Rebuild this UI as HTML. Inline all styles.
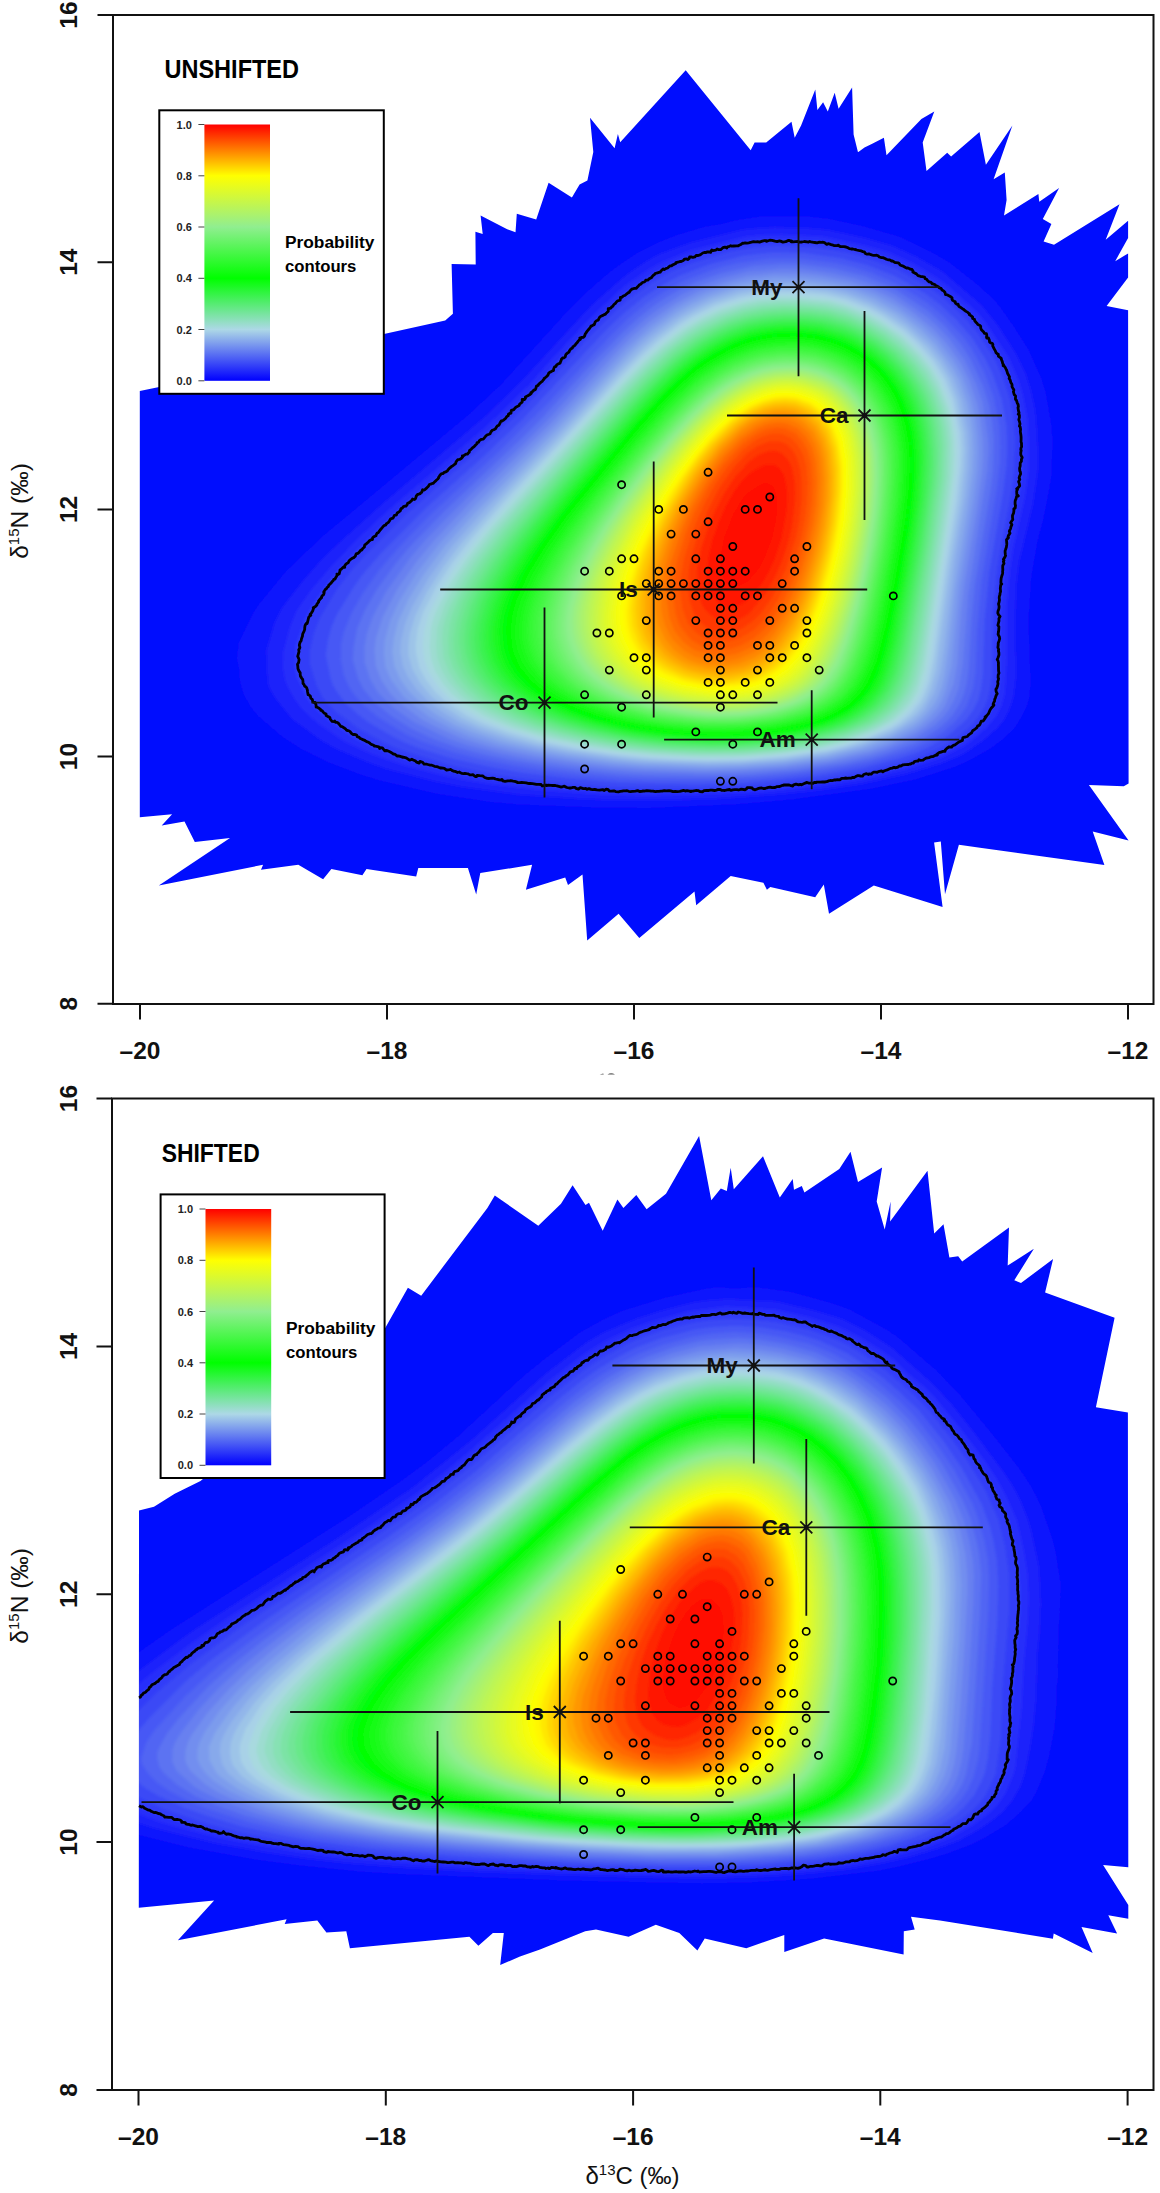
<!DOCTYPE html><html><head><meta charset="utf-8"><style>html,body{margin:0;padding:0;background:#fff;overflow:hidden}svg{display:block;font-family:"Liberation Sans",sans-serif}</style></head><body>
<svg width="1160" height="2193" viewBox="0 0 1160 2193">
<defs><clipPath id="ct"><path d="M139.8 391 L158 387.2 384 334 445.2 320.6 452.9 313.8 451.6 264.1 475.7 264.6 475.4 231.8 482.7 234.1 480.6 215.5 507.2 229.2 515.5 232.3 516.8 213.7 536.2 219.6 548.6 182.7 571.9 197.4 579.6 184.5 587.4 180.6 593.3 152.1 590 117.8 614.6 148.3 617.9 134 620.2 142.3 685.7 70.2 750.7 150.2 754.6 142.4 766.2 142.4 791.5 121.7 794.7 137.8 801.1 125.6 815.3 89.4 817.4 110.1 823.1 102.3 827.8 111.4 834.7 92.8 838.6 108.8 852.1 87.6 853.6 134.6 858 152.2 864.5 147.6 872.2 143.7 883.9 137.8 886.5 155.3 921.4 119.1 934.3 111.4 922.7 142.4 926.5 170.9 947.2 152.8 951.1 156.6 979.5 132.1 985.9 164.7 1012.4 125.6 993.6 179.3 1004.8 172.4 1006.6 200 1004 215.5 1038.4 194 1039.3 201.7 1059.1 187.9 1042.8 219 1051.4 224.1 1043.6 241.4 1054 244.8 1119.5 204.3 1105.7 239.7 1128.1 220.7 1128.1 237.9 1115.2 261.2 1128.1 253.4 1128.1 277.6 1106.6 306 1128.1 310.3 1128.6 783.6 1123.8 786.2 1088.9 784.9 1128.6 840.5 1092.7 831.4 1104.4 865 980 847.8 958.9 844.7 945 894.2 940.8 841.5 934.1 842.5 942.6 906.9 873.8 885.5 829 913.8 823.8 884.5 815.2 897.2 770.3 886.9 766.9 889.7 763.4 882.8 730.7 875.9 696.2 905.2 694.5 891.4 639.3 937.9 618.6 913.8 587.2 940.5 582.5 874.5 568 885 565.2 877.4 525.9 889.7 532.1 864.8 480.3 873.1 476.2 894.6 467.9 868.1 418.3 868.1 416.2 876.4 366.5 869 362.4 875.2 331.4 869 323.1 879.3 298.3 864.8 261 869.8 263.1 864.8 158.8 885.5 230 837.9 194.8 842.1 184.5 821.4 161.7 825.5 172.1 814.3 139.8 817.2Z"/></clipPath><clipPath id="cb"><path d="M139 427.6 L154 423.7 174.7 410.8 200.5 397.9 385.2 244.9 407.9 204.8 421.2 212.7 487.4 124.9 494.8 112.5 538.3 142.7 561 120.8 572.6 102.2 585.5 122 589 119.8 602.7 147.7 617.4 116.6 623.4 124.9 636.3 112 646.6 126.2 666 110.7 699.1 53 711.3 117.2 720.8 105.5 726.8 108.1 730.7 84.8 733.8 106.3 763 73.2 779.8 114.6 792.7 96 794 106.8 801.8 102.9 804.4 109.4 839.3 86.1 850.5 68.8 858 99 882.1 84.6 876.7 118.5 884.7 146.6 890.6 118.5 890.1 138.5 927.5 87.8 934.2 150.6 943.5 141.2 949.4 174.6 958.2 173.3 962.2 178.6 1009 144.4 1007.7 182.6 1033.9 165.8 1014.3 197.3 1021 200 1053.1 176 1045.1 209.4 1114.6 234.8 1095.9 324.3 1127.9 329.6 1128.3 784.2 1103.1 782.1 1128.3 821.9 1128.3 835.7 1108.3 832.3 1117.1 850.5 1081.5 844 1092.7 870 1053.7 850.5 1052.9 855.7 940 837.4 911 833.8 914.7 846.5 903.8 848.3 903.6 871.5 824.1 855.5 784.3 868.9 784.3 851.9 746.3 865.3 704.7 855.5 697.4 867.5 679.3 850.1 655.8 841.8 628.6 853.7 596 846.5 585.2 848.3 540 866.4 520 873.6 500.2 882 503.8 850.1 492.9 850.1 478.4 862.8 469.4 853.7 349.9 865.3 346.3 848.3 326.4 849.4 317.3 837.4 284.7 841 286.6 836.3 177.9 857.3 214.1 817.5 138.8 824.8Z"/></clipPath><linearGradient id="lg" x1="0" y1="1" x2="0" y2="0"><stop offset="0" stop-color="#0000ff"/><stop offset="0.2" stop-color="#add8e6"/><stop offset="0.4" stop-color="#00ff00"/><stop offset="0.6" stop-color="#90ee90"/><stop offset="0.8" stop-color="#ffff00"/><stop offset="1" stop-color="#ff0000"/></linearGradient><filter id="bl" x="0" y="0" width="1" height="1"><feGaussianBlur stdDeviation="1.5"/></filter></defs>
<rect width="1160" height="2193" fill="#fff"/>
<g clip-path="url(#ct)"><g filter="url(#bl)">
<rect x="100" y="-50" width="1100" height="1080" fill="#0507fe"/>
<path fill="#1014fd" d="M647 808 L598 807.6 520 804.5 491 802.1 437 793.8 378 780.1 358 773.5 329 762.5 301.6 749 282.8 737 258 715.7 250.9 707 244 695 240 682 239.2 669 237 658 238.7 643 252.8 614 258.5 605 286.3 571 322 537 467 416.3 501 384.8 563 316.2 584.8 294 609 272.8 623 262.4 639 252.1 657 243 676 235.5 706 226.6 720 224.5 735 220.5 761 216.5 808 216.4 828 218.8 863 226.3 900.1 237 934 253.5 950 263.1 980 286.7 993 299 999.3 306 1013.4 326 1028.6 350 1040.7 377 1045.3 391 1050.8 421 1052.6 441 1051.1 479 1043.5 518 1037.3 542 1031.3 576 1028.4 621 1030.6 683 1029.5 696 1027.2 705 1021.4 717 1014.6 728 1005 737.5 991.1 748 970 760.1 955 766.8 916 779.3 871 788.7 793 799.3 736 804.3Z"/>
<path fill="#1b22fb" d="M663 800 L617 800 582 798.8 517 794.3 461 786.6 436 781.6 386 768.5 367 761.4 335 747.7 321 739.7 292 718.4 275.4 698 270 688.5 268.5 684 267 668 266.7 650 275.1 622 282.2 608 303.1 581 319.8 562 337.1 545 381.6 505 485 417 521 381.9 591.2 306 621 279.7 631 271.9 646 262.1 660 254.3 692 242.5 742 230 760 228.2 775 227.5 809 228.4 827 230.1 863 237.8 891 245.8 916 257 943 272.6 981 305 997.4 325 1015.3 353 1025.1 373 1030.3 389 1034.5 408 1035.9 419 1038.1 457 1037.4 471 1032.7 504 1019 560.9 1015.8 586 1014.5 636 1015.9 666 1015.6 678 1013.3 697 1008.6 711 1003.1 721 997.1 728 984 739.5 967 751.2 954 757.8 940 763.4 904 774.5 860 783.9 820 789.7 781 794 717 798.4Z"/>
<path fill="#262ffa" d="M686 795 L648 795.7 602 794.7 538 789.9 491 784.5 463 780.1 446 776.3 406 765.9 374 754.9 345 741.8 319 724 307 714 300 706.4 294.7 699 288.3 688 285.1 680 283 668 283.3 652 289.7 628 296.5 611 310.3 591 330.8 567 356.5 540 386.4 512 485.7 427 529.1 385 550 361 590 318 623 287.3 646 271.3 661 262.7 692 250 746 236.4 763 234.7 782 234.4 822 236.3 863 244.9 888 252.1 914 264 937.1 278 948 285.9 978.1 313 986.2 323 1008.7 357 1018.5 380 1023 395 1027.5 418 1028.8 441 1028.7 470 1025.3 496 1013.2 549 1010.1 570 1006.6 608 1006.9 660 1005 693 1001.5 706 996.3 716 987 727.3 974 738.8 965 745.3 941 757.5 904 769.8 861 779.7 821 785.6 763 791.7Z"/>
<path fill="#313df8" d="M685 792 L627 792.1 601 791.1 540 785.8 498 780.8 472 776.5 443 770.1 408 760.4 377 748.8 356 738.9 330 721.3 316.9 710 306.9 698 297.5 678 295.1 668 296.2 645 304.6 620 312 606 328.5 582 340.9 567 372.2 535 399.5 509 471.4 447 500.2 421 533 388.5 585 331 598 317.8 624 293.9 646 278.2 665 267 681 259.6 716 248.3 732 244.4 750 241 764 239.6 789 239.5 820 241.2 859 249.1 888 258 911 268.7 936 283.6 945 290.4 967 310.2 976.6 320 983.7 329 996 347.3 1004.5 362 1013.3 384 1019.5 406 1022.5 437 1022.2 469 1020 489 1007 551.7 1003.9 573 1000.5 612 999.7 682 998.4 692 994.7 705 988.4 716 979.6 727 963.1 741 951 748.3 936 755.5 903 766.6 860 776.8 807 784.4 748 789.8Z"/>
<path fill="#3b4af6" d="M701 788 L618 787.4 570 783.7 517 777.8 491 773.8 449 764.8 401 750.1 385 743.1 359 728.8 335 711 323.1 698 316.5 685 310.1 664 309.9 651 314 633 319.9 618 337.2 589 352.8 569 369.2 551 404 516.3 492.1 438 520 411.4 552.6 378 591 335.1 610 315.9 627 300.6 650 283.8 672 271 689 264 730 251.4 752 247.4 776 245.4 815 247.1 846 252.4 859 255.6 897 269 931 288.6 943 297.6 962.9 316 977.8 333 994.6 359 1002.7 377 1010.2 400 1013.6 419 1015 441 1013.7 473 1011.8 490 997.3 567 993 612 992 675 990.3 688 987.7 699 984.5 707 977.5 718 971.6 725 960 735.5 948 743.5 934 750.9 922 755.9 902 762.4 871 770.6 825 778.6 768 784.7Z"/>
<path fill="#4658f5" d="M693 784 L619 782.6 569 778.3 521 772.4 493 767.5 452 758.5 418 747.7 405 742.6 391 735.6 368 722 356 712.7 345 702.6 336.4 691 332.9 685 330.5 678 325.8 655 327.9 640 331.5 627 336.6 615 353.2 588 362.3 575 382.3 552 426 508.1 480 459.7 524 418 604.4 332 623 313.9 643 297.7 658 287.7 679 275.9 710 264.2 743 255.7 773 252.4 804 253 842 258.4 866 264.7 896 276.4 925 293.5 941.7 306 956.4 320 972.1 338 984.7 358 992.5 374 1001.8 400 1006.5 427 1007.1 449 1006.5 465 1002.8 494 989.2 572 984.6 620 982.7 676 980.8 690 978.1 700 972.5 711 965.8 720 948 735.7 927 748 915.7 753 899 758.5 865 767.6 815 775.9 744 782.7Z"/>
<path fill="#5165f3" d="M720 780 L650 779.8 622 778.5 581 774.9 542 770.2 511 765.3 478 758.6 454 752.6 422 741.4 405.5 734 377.9 717 362.4 704 352.9 693 348 685 343.8 675 340.7 660 341.1 644 343.8 632 351.5 613 362.9 593 379.3 570 400.9 545 430.9 514 498.3 452 549 401.9 613 333.2 629 317.7 646 303.7 663.6 292 683 281.3 710 270.7 724 266.3 740 262.7 769 258.7 799 258.5 835 263.1 853 267.1 871 272.6 895 282.9 927 302.7 943 315.7 963.2 337 971.8 349 983.6 371 993.3 396 999.3 425 1000.3 446 1000 462 997.4 485 981.5 581 977 631 975.5 672 973.1 688 966.7 706 959.9 716 953.6 723 943 732.2 929.3 741 915 748.3 902.5 753 867 763.2 823 771.2 778 776.6Z"/>
<path fill="#5c73f2" d="M704 777 L646 776.1 621 774.7 582 771 547 766.5 509 760.1 483 754.5 457 747.6 433.3 739 411 728.6 392 716.4 375.1 703 363.3 689 357.9 678 352.8 660 353.6 647 357.3 628 365 610 377.1 589 395.3 564 408.6 548 444.5 511 519.6 440 544.6 415 596.2 359 623 331.7 639 317.2 651.8 307 667 296.7 681 288.7 696 281.8 721 272.9 754 265.6 782 263.4 802 263.9 834 268.3 864 275.5 890 286.5 897 290.3 929 311.5 945 325.9 961.6 345 970.5 359 982.7 385 989.3 405 992.3 423 993.9 440 993 471 990.8 489 975 584.4 971.5 621 968.8 668 966.8 683 963.9 694 960.2 703 953.4 714 948.3 720 939.5 728 925 737.9 915 743.4 887 754.1 871 758.7 845 764.5 798 771.6 748 775.8Z"/>
<path fill="#6780f0" d="M714 774 L636 772.3 608 770.1 568 765.5 528 759.4 499 753.5 468 745.6 449 739.1 413.7 722 392.6 707 378 692.8 370 679 364.8 663 364.4 647 366.8 634 373 616 385.9 592 410.8 557 427.2 538 468.5 496 519 447.9 553 414 601.4 361 625.9 336 644.9 319 656.9 310 681 294.7 701 285.2 723 277.6 749 271.1 782 268.3 803 268.8 833 273 856 278.2 875 285.2 895 294.6 927 316.7 937 325.5 949.6 339 964.7 360 975.9 383 982.8 403 988 438 988.5 450 987.5 470 968.2 595 962.9 664 959 687.5 954.2 700 949 709.7 943 717.6 935.2 725 914 739.2 885 751.1 871 755.5 843 761.9 797 768.9 750 772.8Z"/>
<path fill="#728eef" d="M730 771 L702 771.4 643 769.7 611 767.3 581 763.7 536 756.9 510 751.8 488 746.4 462 738.5 435 726.5 421.1 719 399 702.4 389.8 693 381.3 680 375.7 666 374.4 650 375.9 638 382.6 617 397.4 589 417 561 434.5 540 474.5 498 551 422.9 617 351.4 632 336.5 650.1 321 675 303.7 698 291.6 726 281.4 747 276.1 774 273.1 804 273.3 818 274.7 849 280.8 873 289.2 893 298.7 913 312.2 933 328.6 947 343.8 961.4 364 969.6 381 977.3 404 980 417 982.7 439 983.2 455 982.1 472 977 509.5 964.5 584 961.4 610 957.4 663 953.6 684 945.4 705 940 713 934.4 719 925.4 727 915 734 889.2 746 869 753 828 761.9 783 767.8Z"/>
<path fill="#7c9bed" d="M746 768 L707 768.9 644 767.1 612 764.5 566 758.5 535 753.1 499 745.3 470 736.4 451 728.4 429.4 717 410 702.3 403 696 391.2 680 385.3 667 383.9 653 384.6 641 390.1 621 398.7 602 417.3 572 440 543.1 475.4 505 554 426.2 626 348.6 651 326 675 308.8 688 301.3 705 293.3 733 283.6 750 279.9 774 277.1 804 277.5 823 279.7 848 284.7 875 294.5 897 306.3 921.1 324 937.9 340 953.1 360 962.4 376 970.4 398 974.8 416 977.3 436 978.1 452 977.3 470 973.7 500 959.6 586 951.5 666 945.6 691 941.6 701 937.5 708 929.8 717 921 725.3 913 730.8 901 737.1 887 743.5 869 749.9 831 758.9 784 765.3Z"/>
<path fill="#87a9eb" d="M741 766 L707 766.7 638 764.2 612 761.7 566 755.5 535 749.8 501.3 742 472 732.2 455 725.2 435.4 714 423.3 705 409.3 692 400.7 680 394.3 666 392.3 652 393.9 638 398.3 621 408.6 599 423.3 575 445 546 473 514.9 560 426 628 352.5 642 339.1 655.2 328 677 312.2 691.7 304 709 295.9 737 286.5 756 283 784 280.7 807 281.5 835 285.7 855 291 875 299 902 314.5 921 329.7 935.5 344 952 366.4 959.7 381 967.1 403 970.8 420 972.7 435 973.4 453 972.6 472 968 508 954.7 591 949.1 644 944.7 675 941.8 687 938.5 696 934 704.4 927.6 713 920 720.9 913.6 726 891 738.3 863 748.8 827 757.3 784 763Z"/>
<path fill="#92b6ea" d="M740 764 L707 764.6 643 762.2 613 759.3 570 753.3 537 747.1 509 740.3 482 731.4 459 722 443 712.2 428.9 702 416.2 689 407.4 676 402.9 666 400.2 652 401 641 404.9 624 412.4 606 428.7 578 451.3 547 486.2 508 565 426.4 616.7 370 636 350.1 650 337.3 672 320.3 687 310.9 711 299.1 737 290.3 756 286.8 778 284.6 804 284.8 828 287.9 846 291.9 871 301.4 894 314 908 323.9 930 344 942.1 359 953.6 378 961.5 399 968.2 432 969.1 448 968.5 468 965.6 496 955 560 943.9 650 940.2 673 934.4 693 925 709.7 919.6 716 912.7 722 891 735.1 861 746.6 827 755 784 760.9Z"/>
<path fill="#9dc4e8" d="M742 762 L706 762.6 651 760.5 623 758.2 568 750.3 534 743.4 506 735.7 479 726.2 461.3 718 441.5 705 431 695.9 420.1 683 412.3 669 408.4 655 408.3 646 409.7 634 415.1 616 426.3 593 443.1 567 460.6 544 505.3 494 561 436 620.8 371 644 347.8 657 336.5 680 319.3 697 309.7 714 301.7 739 293.6 761 289.6 778 288 803 288.3 827 291.1 847 295.8 870 304.8 886 313.4 906 326.9 928 347.6 940.1 363 949.1 378 957.5 400 964.3 433 965.2 450 964.5 468 961 501 951 561.1 936.1 670 930.6 690 926 700.5 922 707 917 713.2 911 718.6 901 726 890.7 732 864 743 847 748.1 827 752.8 784 758.9Z"/>
<path fill="#a8d1e7" d="M746 760 L709 760.7 674 759.7 643 757.9 613 754.7 578 749.5 543 742.6 508 732.8 482 723.3 466 715.3 445 701.1 435.3 692 426 680.1 419.5 668 416.1 654 415.5 645 417.6 629 423.2 612 436.2 587 452.1 563 471.8 538 510 495 558.6 444 623 373.7 641 355.5 659 339.5 679 324.2 692 316.2 715 305 740 296.9 763 292.6 780 291.3 800 291.5 825 294.1 846 298.9 869 307.9 882.2 315 904 329.7 919 343.6 933.4 360 944.8 378 953.3 399 960.4 433 961.4 449 960.9 466 957.1 501 946 570 934.1 658 929.1 682 924.2 695 920.6 702 910.8 714 898.6 724 891 728.6 863 740.7 846 746.1 827 750.7 786 756.8Z"/>
<path fill="#a8d9df" d="M750 758 L712 759 690 758.5 650 756.4 619 753.3 580 747.4 545 740.2 510 730 495 724.5 480 718 463 708 448 697 438.6 687 428.6 672 424.2 659 422.8 645 424.1 631 428.7 614 443 585.7 456.6 565 481 533.7 516.2 494 622.4 379 642 359 660 343 679 328.3 691 320.6 715 308.6 730 303.2 750 297.9 768 295.2 794 294.4 822 296.7 843 301.2 868 310.9 880 317.3 902.9 333 919.5 349 931 362.5 941.7 380 950.3 402 954.5 419 956.9 434 957.8 451 957.2 469 954 497 942.5 570 930.2 658 925.6 680 920.9 693 916.8 701 907.8 712 896.2 722 890 726 877 732.6 864 737.9 845 744.2 828 748.4 794 754Z"/>
<path fill="#9ddcd0" d="M730 757 L700 757.1 655 754.8 622 751.6 596 747.8 545 737.4 512 727.4 497 721.5 482.8 715 462.2 702 452 693.7 443 683.4 435.2 671 431.2 659 429.7 647 431 628 434 617 437.7 608 450.5 583 466.6 559 491.9 527 620.2 386 643.6 362 663 344.7 682.3 330 702 318.3 721 309.6 743 302.7 759 299.3 781 297.5 798 297.7 830 301.1 847 305.7 868 314.3 880 320.9 902 336.3 919.8 354 931 368.6 939.1 383 948.4 408 951.6 422 953.7 438 954.2 455 953.3 474 948.5 511 924.3 669 917.7 691 910 704.2 901.8 713 892.5 721 874 731.3 844 742.3 817 748.6 770 754.8Z"/>
<path fill="#92dec2" d="M742 755 L692 755.1 653 752.8 619 749.1 588 744.3 561 738.6 535 731.7 509 723 488 713.3 472.4 704 461 695.3 448.2 681 442.2 671 437.6 659 436.2 647 437.1 628 444.7 605 460 576.3 470.4 561 495.3 529 624.4 386 647 363.1 664 347.8 686.4 331 702 321.7 721 312.9 742 306 759 302.3 781 300.4 800 300.8 828 303.6 845 308 868 317.6 886.9 329 901 339.6 918 356.8 928.7 371 938.1 389 944.9 408 948.8 426 950.6 443 949.6 477 945.5 509 922.2 661 916.5 684 909 699.4 901.2 709 894 715.9 887.4 721 876 727.7 846 739.4 823 745.6 786 751.5Z"/>
<path fill="#87e1b4" d="M749 753 L698 753.6 654 751.1 620 747.3 589 742.2 562 736.3 536 729.2 514.8 722 493 711.7 479 703.6 466 693.4 456.3 683 449 671.7 443.6 658 442.2 640 442.9 629 445.2 619 449.7 607 464.4 578 476.3 560 499.4 530 520 506 627.6 387 649 365.3 664.7 351 685 335.6 700 326.1 720 316.5 742 309 761 305 781 303.3 801 303.7 824 305.8 844 310.6 867 320.2 884.9 331 899.1 342 914.8 358 926 372.8 935.1 390 941.5 408 945.8 428 947.4 443 946.4 477 942.2 510 922 642 914.7 678 908.5 693 896.9 709 881 722 864 730.7 844 737.9 826 743 787 749.6Z"/>
<path fill="#7ce3a5" d="M734 752 L709 752.3 673 750.7 645 748.4 615 744.6 583 738.8 561 733.6 536 726.5 514 718.2 492 707.1 480 699.3 468.2 689 459.7 679 452.8 667 448.7 654 448.1 639 449.8 624 452.5 614 458.5 599 468.9 579 482.9 558 504 530 627 391.9 647 371.3 669 351.1 689 336.3 702 328.4 726.3 317 745 311.1 763 307.5 785 305.9 813 307.2 830 309.7 848 315 869 324.4 885 334.6 903 349.6 916.5 365 927.1 381 933.8 395 940.3 416 942.7 429 944.3 446 943 480 935.5 535 919.9 635 915.1 661 909.6 682 905 692 900 700 894.6 707 888.4 713 877.8 721 869 726.1 844 735.8 817 743.1 775 749.3Z"/>
<path fill="#72e597" d="M745 750 L711 750.7 675 749.2 647 746.9 618 743.2 584 736.8 562 731.4 536 723.7 517 716.1 495.6 705 483.7 697 471.8 686 463.1 675 456.8 662 454 650 453.5 638 455.7 623 462.2 602 473.9 579 486.4 560 507 532.2 545 487.9 628 395.1 646.4 376 670 353.9 682 344.6 702 331.7 727 319.7 745 313.9 761 310.5 784 308.6 812 309.7 828 312 850 318.6 868 327 883 336.6 899 349.8 912.7 365 923.5 381 930.5 395 936.4 413 939.1 426 941.1 445 940.2 477 932.2 538 913.8 651 907.7 677 899.6 695 888.6 709 871 722.4 846 733.1 818 741.1 778 747.4Z"/>
<path fill="#67e889" d="M724 749 L671 747.4 646 745.1 616 740.9 584 734.7 554.9 727 534 720.1 517 712.7 496 701 487.5 695 474.2 682 467.2 672 461.9 660 459 644 459.2 633 461.7 620 466.9 603 477.1 582 490.4 561 508.7 536 556.9 479 626 401.5 647.4 379 674 354.3 695.1 339 715 327.8 733 320.3 752 314.9 770 312 786 311.2 811 312.2 830 315.1 851 321.8 869 330.5 881.7 339 898.3 353 910.6 367 923 386.3 928.4 398 934 416 936.2 428 938.2 449 937.9 468 936.4 486 928.8 543 908.4 662 901.6 684 897.1 693 891.8 701 886.6 707 878.6 714 869 720.8 861 724.9 846.2 731 830 736.2 805 741.9 765 747.1Z"/>
<path fill="#5cea7a" d="M743 747 L712 747.6 687 746.7 659 744.7 627 740.9 588 733.4 566 727.8 543 720.6 529 715 513 707.1 496.4 697 484.6 687 476.1 677 469.8 666 465.6 653 464.1 639 465.9 624 470.8 606 480.1 585 493.6 563 512.4 537 566 473 623.9 408 647.2 383 674 357.8 696 341.6 712.7 332 729 324.6 746 319 768 314.9 785 313.8 809 314.5 827 317.1 846 322.7 861 329.2 878 339.4 894.4 353 907.8 368 918.4 384 924.9 397 930.7 415 933.3 429 935.1 449 935.2 465 933.9 483 925.8 545 908.1 649 901.6 675 893.5 693 888.1 701 882 707.6 866 719.7 846 729.1 818 737.6 777 744.4Z"/>
<path fill="#51ed6c" d="M725 746 L709 746.1 673 744.4 645 741.6 618 737.6 587 731.1 564 724.9 542 717.4 523.1 709 504.3 698 494 690.3 485.7 682 478.5 672 472.9 660 469.6 645 469.6 634 471.9 620 477.9 600 486.5 582 505 553 521.5 531 568.1 475 631 404.2 654.9 379 677 358.7 698.6 343 717 332.6 731 326.5 749 320.8 770 317.2 786 316.3 809 317 828 320 846 325.3 860 331.6 877 341.7 893 355.3 905.9 370 916.3 386 923.7 402 928.4 418 930.5 430 932.2 449 932.4 464 931 485 922.7 548 903 659 896.1 681 886.7 698 875 710.4 857.1 722 845 727.5 832 731.9 802 739.2 765 744.1Z"/>
<path fill="#46ef5d" d="M745 744 L712 744.7 660 741.7 630 737.8 585 728.5 559 721 538.2 713 522 705 503.3 693 494 684.9 486.6 676 479.4 663 475.9 652 474.4 639 475.6 625 481.6 603 488.6 587 503.4 562 517.3 542 550 501 583 462.4 639.3 399 671.2 367 686 354.6 704 342.6 722 332.9 746 324.1 762 320.7 784 318.7 803 318.9 822 321.2 842 326.6 854 331.3 874 342.7 886.7 353 900.2 367 910.2 381 917.8 395 924.5 414 927.3 428 929.4 448 929.7 463 928.4 485 925.4 513 919.8 550 903.8 641 896.2 672 888.5 690 877.2 705 863 716 843.4 726 817 734.4 777 741.5Z"/>
<path fill="#3bf24f" d="M733 743 L709 743.2 675 741.4 647 738.6 624 735.2 593 728.5 569 721.8 547.2 714 533.8 708 518 699 505 689.8 496 681.1 490 673 484.6 663 480.6 651 479.4 636 480.9 622 486.9 601 494.2 585 510.9 557 534.4 525 566.4 486 634.5 408 659 382.1 681 361.8 701 347.4 716 338.8 731 331.8 749 325.7 769 322.2 786 321 804 321.3 823 323.7 843 329.4 856 334.9 874 345.8 886.3 356 900 370.8 910.1 386 916.8 400 922.5 418 925.7 436 927 456 925.1 493 917.1 551 899.7 647 892.6 674 885.3 690 873 705.5 857 717 846 722.8 834 727.6 807 735 774 740.4Z"/>
<path fill="#31f441" d="M747 741 L701 741.5 668 739.3 638 735.8 620 732.7 590 725.6 568 719.2 545 710.3 530.4 703 515 693.1 505 685 496.5 675 489.7 663 485.1 649 484.1 636 485.6 622 490.5 604 498.5 585 513.8 559 537 526.8 565.9 491 619.2 429 652 392.8 676.5 369 689.8 358 710 344.7 725 336.9 747 328.7 761 325.7 780 323.5 802 323.5 820 325.5 849 334.2 860 339.8 875.4 350 886 359.2 897.6 372 905.9 384 913.9 400 918.4 413 921.5 426 923.6 442 924.5 460 922 499 913.2 559 898.7 638 892.3 665 885.4 684 880.1 693 873.7 701 866.3 708 854.4 716 843 722 827.4 728 807 733.5 786 737.3Z"/>
<path fill="#26f632" d="M740 740 L716 740.5 695 739.8 662 737.3 633 733.3 610 728.6 583 721.6 567 716.4 546.3 708 531 699.9 517.8 691 508 682.7 500 672.7 493.7 661 489.7 647 488.9 634 490 622 495.1 603 506 579 518.7 558 538.6 530 565.3 496 631.3 419 655 393.2 680 369.1 694 357.9 712.4 346 730 337.4 748 330.9 761 328 780 325.7 801 325.7 821 328 844 334.7 854 339.2 871.4 350 884 360.7 895.2 373 905.2 388 911.1 400 917.3 419 920.7 439 921.8 456 920 496 914 540 896 638 889.5 665 882.8 683 877.6 692 872 699 864.8 706 856.7 712 845 718.9 834 723.7 808 731.6 776 737.3Z"/>
<path fill="#1bf924" d="M729 739 L704 738.9 677 737.2 650 734.3 625 730.3 582 719.2 561.9 712 546 704.8 530.2 696 518 686.9 510.7 680 501.9 668 497.1 657 493.8 642 493.6 628 495.7 616 501.9 596 513.4 573 526.6 552 549.9 520 568.8 496 634 419.6 664.4 387 682.5 370 696.3 359 715.4 347 731 339.5 750 332.7 771 328.7 787 327.7 804 328.2 821 330.4 843 336.9 853 341.4 871 352.8 882.8 363 893.5 375 903.9 391 910.8 407 915.2 422 918.3 441 919.4 458 919.1 475 917.1 501 906.2 571 891.8 645 884.4 672 881.2 680 876 689.4 863.4 704 847.8 715 825.4 725 799 732 769 736.7Z"/>
<path fill="#10fb16" d="M745 737 L700 737.3 665 734.6 640 731.3 622 727.9 593 720.5 571 713.1 554 705.9 535.7 696 526 689.2 515 679 506.1 667 501.8 657 499.5 648 497.9 632 498.9 621 501 611 505.6 597 515.2 577 528.5 555 548.3 527 573.9 494 631 426.6 662.8 392 682.7 373 697 361.3 712 351.6 728 343.3 745 336.6 759 332.9 777 330.3 796 329.9 817 332 834 336.4 846 340.7 859 347.6 873 357.4 886 369.7 893.2 379 902.5 394 909 410 913.4 426 915.5 439 916.8 456 916.8 473 913.7 509 902.5 578 889.8 642 882.9 668 874.9 686 863 701 854.8 708 844 714.8 833 720.2 819 725.3 804 729.4 780 733.9Z"/>
<path fill="#05fe07" d="M738 736 L713 736.4 687 735.1 660 732.6 634 728.6 591.3 718 571 710.7 550 701.1 536.4 693 527.3 686 516.5 675 508.7 663 504.3 650 502.9 639 502.6 627 504.3 615 510 596.5 521.3 573 539.8 544 562.3 513 637.3 423 665 393 685 374.1 700 362 716 352 733 343.6 751 337.2 767 333.7 782 332.3 797 332.2 817 334.3 835 339.1 846 343.3 859 350.3 873 360.5 886 373.4 895.6 387 902.4 400 908.2 416 911.8 431 913.9 449 914.4 469 913.7 485 908.8 527 894.6 607 885.2 650 877.7 674 869 690 862 698.5 855 705 845 711.9 833.4 718 821 722.9 807 727.1 777 732.9Z"/>
<path fill="#04fe04" d="M728 735 L703 734.7 669 732.1 627 725.6 598 718.1 571 708.3 551.5 699 539 691.2 530 684 519 672 512 660 508.7 650 507 637 506.9 627 508.3 615 513.4 598 526.3 571 542.7 545 564.3 515 636 428 661.4 400 682 379.8 696 367.8 713 356.3 732.9 346 750 339.8 767 335.9 782 334.5 799 334.5 817 336.6 837 342.3 852 349 866 358 877 367.4 886.5 378 896.2 393 902.4 407 907.7 424 910.3 437 911.7 453 911.8 476 910.8 492 905.3 534 897.1 582 888 627 879.4 661 871.9 680 861.8 695 855 702 847.3 708 835.2 715 824 720 799 727.4 769 732.5Z"/>
<path fill="#0dfd0d" d="M745 733 L722 733.8 702 733.3 668 730.6 646 727.6 625 723.5 599 716.5 578 708.8 564.9 703 551.6 696 538.5 687 530.8 680 520.2 667 514.5 655 512.4 647 510.9 632 512.2 616 516.7 600 529 573 545 547 566 517.3 636.4 431 663 401.4 681.7 383 695.4 371 709.4 361 729.4 350 744 344.1 760 339.5 776 337 795 336.5 814 338.3 833 343.3 844 347.6 858 355.2 868.5 363 879.2 373 888.5 385 895.5 397 901.9 413 905.6 426 908.5 443 909.6 460 909.3 481 905.2 520 895.1 580 885.8 626 876.7 661 867.2 683 862.7 690 855.7 698 847.8 705 836.8 712 824 718.1 813 722 798 726.1 779 729.7Z"/>
<path fill="#16fc16" d="M738 732 L718 732.4 689 731.2 663 728.6 639 724.8 617 719.8 596 713.4 575 705.2 558.7 697 546.1 689 537 681.4 527.7 671 522 662 517.3 650 515.3 639 515.2 626 517.1 612 521.5 598 532.9 573 546.6 550 567 520.5 588.3 493 637.7 433 664.5 403 684 383.8 698 371.8 713 361.4 732.3 351 746 345.7 762 341.3 777 339.1 797 338.7 814 340.6 832 345.4 844 350.1 859 358.7 871.8 369 881.1 379 890 392 896.4 405 900.9 418 904.6 434 906.8 450 906.6 487 901.2 531 890.1 594 878.8 645 872 666.7 862.4 686 850.3 700 842 706.4 831 712.9 819.5 718 805 722.7 775 728.9Z"/>
<path fill="#1ffb1f" d="M728 731 L707 730.8 680 729 655 726 629 721.1 610.2 716 590 709.1 573 701.8 558.6 694 547 685.9 538.2 678 530.1 668 525 659 521.2 648 519.3 638 519.3 625 521.6 610 528.1 591 535.1 576 548.2 553 569 522.3 589.9 495 640.8 433 666 404.7 689 382.2 702 371.5 717 361.5 735 352.1 750 346.6 767 342.5 781 341.1 802 341.1 818 343.7 836 349.1 848 354.8 861 363 872.4 373 882.5 385 890.4 398 895.6 410 900.7 427 903.6 443 904.9 457 903.7 495 894.3 559 882.7 619 874 653 865.6 675 856.5 690 849.1 698 841.9 704 832 710.3 821 715.5 797 723.2 769 728.2Z"/>
<path fill="#28fa28" d="M746 729 L723 729.8 702 729.3 669 726.5 649 723.5 628 719.2 611 714.3 590 706.9 572.6 699 559 691 547.2 682 539.2 674 531.4 663 527 653 523.7 640 523.2 630 524.2 617 528.1 601 536.7 580 550.5 555 568.2 528 598.6 488 638 439.8 663 411.1 684.8 389 700 375.7 713 366.5 731 356.4 746 350.2 760 346.2 776 343.6 796 343 809 344.1 820 346.4 838 352.4 847.2 357 860 365.3 868 372 877.3 382 885.3 394 891.5 406 895.8 418 899.3 432 901.6 446 902.6 460 901.3 497 894.8 543 881.8 612 874.1 644 869.2 660 864.7 671 859 682 854.2 689 846.8 697 838.3 704 828 710.3 814.9 716 801 720.5 784 724.4 769 726.8Z"/>
<path fill="#31f931" d="M739 728 L722 728.5 694 727.5 667 724.8 646 721.4 627 717.2 607 711.1 589 704.3 573 696.5 559.5 688 549 679.2 542 671.9 534.6 661 530.5 651 527.8 639 527.1 630 528.6 615 533 597.9 540 580.9 552.4 558 570.8 529 600 490 639.9 441 665 412.2 689 388.1 703 376.1 716 367.2 733 357.8 749 351.4 763 347.8 780 345.5 799 345.3 816 347.7 831 352.1 843 357.3 856 365.4 867 374.4 875.8 384 884.3 397 890.2 409 895.5 426 898.5 441 900.1 456 899.4 492 891.8 548 880.1 609 872.3 642 863.7 667 854 685.3 841 699.3 824.4 710 800.6 719 772 725Z"/>
<path fill="#3af83a" d="M730 727 L706 726.9 667 723.4 644 719.5 625.4 715 602 707.3 589 702 571.7 693 560.3 685 549.4 675 542.8 667 536.5 656 532.7 644 531.2 632 531.6 622 533.7 609 541 587 550.4 568 564.9 543 583.4 516 604.5 488 643.7 440 667 413.3 690.1 390 704 378 717 369.1 732 360.6 750 353.4 763 350 782 347.4 802 347.8 818 350.3 832 354.8 844 360.5 860.8 372 870.1 381 879 393 886.7 407 891.4 420 895.1 435 897.2 449 898 463 896 503 888.8 553 874.7 623 866 654 857.3 675 848.2 689 841 696.4 833.9 702 816 711.9 792 719.7 764 724.6Z"/>
<path fill="#43f743" d="M746 725 L705 725.5 661 721 644.4 718 625 713.1 601.4 705 585.9 698 573.3 691 563 683.5 552.1 673 544.5 663 539.4 653 536.5 642 535.1 627 536.3 615 541.4 596 549.8 576 565.2 548 583.7 520 604.3 492 635 453.7 663 420.9 688 394.9 702 382.4 716 372.2 731 363.5 748 356.3 762 352.4 779 349.7 794 349.4 812 351.3 823.2 354 838 359.9 850 366.9 860 374.5 868 382.3 874.2 390 881.5 402 886.1 412 893.5 439 895.2 452 895.7 467 893.6 504 887 551 876.4 605 867.4 642 857.5 669 852.3 679 846.8 687 839 695.3 830 702.3 819 708.6 808.7 713 781 720.6Z"/>
<path fill="#4cf64c" d="M740 724 L699 723.8 671 721 649 717.3 616 708.3 601 702.7 586.9 696 575 689.1 565.7 682 555.7 672 547.7 661 542.9 651 540.4 641 539.1 626 540.4 613 546.5 592 554.3 574 566.7 551 587.6 519 607.3 492 639.3 452 663.9 423 689 396.8 704 383.4 718.5 373 732 365.3 747 358.9 762 354.5 782 351.6 794 351.5 814 353.8 829 358.4 841 364 850.6 370 860.3 378 868 385.8 874 394 881.4 407 886.4 420 890.3 435 892.5 448 893.3 477 890.1 516 882 566 871.2 618 863 648 852.9 673 842.1 689 835 695.9 826 702.5 815 708.5 804 713 776 720.1Z"/>
<path fill="#55f555" d="M734 723 L710 723 692 721.9 668 719.1 650 715.9 618 707.1 602.2 701 588 694 576.6 687 566.8 679 557.5 669 550.3 658 545.7 647 543.5 635 543.2 621 544.7 610 551.1 589 558.7 572 569.5 552 590.1 520 611.8 490 644.5 449 671.1 418 691 397.8 705 385.4 720.8 374 735.3 366 748 360.8 763 356.5 783 353.6 799 354.1 815 356.2 830 361.2 842 367.1 851 373.1 863.2 384 870.5 393 877.7 405 882.1 415 887.1 431 889.6 444 890.9 458 891.1 477 890 495 884.4 541 872.6 602 864.2 636 854.4 664 844.7 682 834 694 825 700.8 816 706 794 714.4 780 717.9 762 720.8Z"/>
<path fill="#5ef45e" d="M748 721 L727 721.9 705 721.5 664 717 647 713.7 629 708.8 609.9 702 592.6 694 579 685.3 570.1 678 561 668 554.5 658 549.8 647 547.8 638 546.9 626 548.1 612 554 591 562.6 571 573.3 551 591 523.3 618.5 485 643.9 453 671 421.3 688.6 403 704 388.9 720 377 733 369.4 748 363 762 358.8 782 355.8 793 355.7 811 357.6 821 360.1 833 364.9 845 371.5 854 378.4 862.9 387 868.3 394 875 405 880.4 417 886.8 441 888.9 468 886.5 510 880.7 550 869.2 607 861.2 638 851 666 840 684.6 833.1 692 826 697.7 817.7 703 806 708.6 780 716.4Z"/>
<path fill="#67f367" d="M743 720 L726 720.7 704 720.1 664 715.4 646 711.7 628 706.7 608 699.1 595 692.6 581 683.3 573 676.6 563.8 666 558.1 657 553.9 647 551.2 635 550.8 623 552.3 610 557.2 592 567.3 568 580.1 545 594.3 523 621 485.4 645.8 454 672 423.3 690.5 404 704.7 391 720.6 379 733 371.7 749 364.9 763 360.6 781 358 794 357.9 812 359.9 824 363.5 838 369.9 846 374.8 855 382.4 862 389.5 868.8 399 876.8 414 880.7 425 884 438 885.9 452 886.5 481 881.9 530 874.9 570 865.2 615 855.6 648 846.5 670 836 686 828.7 693 819 700 801 708.7 774 716.2Z"/>
<path fill="#71f271" d="M738 719 L719 719.3 698 718.3 674 715.6 653 711.7 622.9 703 607 696.4 593.6 689 581.2 680 574 673 564.5 661 559.4 651 555.5 638 554.5 630 554.8 620 557.3 604 562.5 587 571.6 566 585 542 602 516 624.1 485 651.6 450 677.7 420 696 401.5 709 390.1 724 379.2 735 373 751.8 366 764 362.4 779 360.2 793 359.8 811 361.9 824 365.7 837 371.9 844 376.1 855 385.4 862.6 394 870.2 406 876 418 879.7 429 882.2 441 884.1 456 884.2 487 879.7 531 871.9 575 863.4 613 852.5 650 843.4 671 833 685.9 826.6 692 817 698.9 807 704.3 796 708.7 771 715.3Z"/>
<path fill="#7af17a" d="M730 718 L709 717.7 686 715.7 650 709.4 621 700.3 607.1 694 594 686.2 583.3 678 575.6 670 567.6 659 562.7 649 559.3 638 558.2 630 558.7 618 561.1 603 566.7 585 574.5 567 588.7 541 601.5 521 622 491.6 652.6 452 677.6 423 694.1 406 708 393.4 725 381 736 374.9 754 367.3 770 363.2 786 361.8 802 362.5 813 364.4 825 368.3 838 374.8 848 381.9 855.5 389 862 397 869.3 409 875.2 422 878.9 435 881.5 452 882.5 467 881 502 876.1 541 863.9 602 853.7 639 844.8 663 835.8 679 825.6 690 817.8 696 808 701.8 787 710 760 715.7Z"/>
<path fill="#82f082" d="M744 716.1 L709 716.4 687 714.4 666 711.3 649 707.6 630 701.8 612 694 603 689 592 681.6 584 674.6 577 666.7 568.9 654 564.5 643 562.2 633 561.9 623 563.6 608 567.4 593 573.7 576 583.4 556 597.2 532 619.5 499 644 466 669 435.6 689 413.8 705.5 398 719 387.3 732 379.1 749 371.2 761 367 774 364.5 792 363.6 805 364.8 817 367.6 826.2 371 837.6 377 847 383.8 855 391.7 860.8 399 866.3 408 872.5 421 875.7 431 878.5 445 880.5 471 878.8 505 874.2 541 866.3 582 853.8 631 843.2 661 838 671.4 832.9 679 826.7 686 819 692.7 809 699.2 799 704 775 711.6Z"/>
<path fill="#8cef8c" d="M739 715 L720 715.4 702 714.6 663 709.2 649 706 630 699.9 615 693.1 602.8 686 592 678.1 583.7 670 577 661 571 650 567.1 639 565.6 630 565.6 619 567.1 607 572.4 588 579.2 571 589.1 551 603.9 526 622 499.1 651.1 460 671 436.2 690.4 415 705 400.9 719 389.6 732 381.2 749 373.1 761 368.9 774 366.4 792 365.5 805 366.7 819 370.2 828 374 838 379.6 847 386.5 856 396 860.9 403 867.6 415 872.3 427 877.4 452 878.3 481 875.7 516 868.6 561 858.8 605 848.4 641 839 664.5 829.1 680 822 687.6 813.8 694 803.4 700 793 704.6 772 710.8 752 714Z"/>
<path fill="#93ef8c" d="M732 714 L713 713.9 693 712.3 675 709.9 653 705.4 626 696.2 614 690.1 603 683.3 592 674.5 585 667 578.4 657 573 645.7 570.1 636 569 626 569.1 617 570.8 605 576.2 586 585 565 593.7 548 609 522.3 625.4 498 652.8 461 672.7 437 692.9 415 708 400.6 722 389.6 734 382.1 751 374.2 762 370.5 775 368 793 367.2 806 368.7 818 371.9 828 376 838 382 846.8 389 855.8 399 861.6 408 867.1 419 871.3 431 875.8 457 875.9 492 872 530 863.9 575 854 615 843.6 648 835.1 667 823.6 683 816 690 807 695.9 796 701.5 785 705.7 773 709.1 759 711.7Z"/>
<path fill="#9af082" d="M745 712.1 L709 712.4 673 708.1 653 703.7 638 699 624 693.1 614.7 688 602.6 680 593 671.6 587 664.7 580.9 655 575.2 642 573.1 632 572.4 620 573.4 608 579 587 586.6 568 594.4 552 608 528.2 624 503.7 651.2 466 672.4 440 692.4 418 709 402.1 723 391.1 735 383.6 751 376 763 372 774 369.8 789 368.9 803 369.9 814 372.5 825 376.6 834 381.5 842 387.3 849 393.9 856 402.5 861.6 412 866.6 423 872.3 445 873.9 458 874.6 473 873.2 504 867.5 546 859.2 587 847 631.2 837.5 657 827.2 675 821 682.6 813.9 689 795 700 774 707.3Z"/>
<path fill="#a1f17a" d="M741 711 L707 710.9 687 708.8 667 705.4 650 701.2 636 696.3 626.2 692 615 685.6 604.1 678 595 669.8 588.6 662 583.4 653 578.5 641 576.3 630 575.7 618 576.8 607 580.8 591 589 569 596.2 554 609 530.9 625 505.8 652 468 673 441.9 692 420.8 710 403.5 723 393.2 735.9 385 751 377.8 763 373.7 776 371.2 790 370.5 803 371.6 814 374.3 824 378.1 833.1 383 841.2 389 848.4 396 855.4 405 860.6 414 865.5 426 868.9 438 871.3 452 872.7 478 870 517 864 555.2 856.2 591 843.5 635 834 659 823.7 676 818 682.6 810.4 689 790 700.3 770 706.7Z"/>
<path fill="#a8f271" d="M732 710 L714 710 697 708.6 663.1 703 648 698.8 634 693.5 625 689.1 613 681.6 603 673.8 595 665.6 589.5 658 584.4 648 580.9 637 579.2 625 579.1 614 581 602 585.4 586 594.6 563 606.9 539 620.8 516 656.5 465 676 440.9 695 420 711 404.8 726 393.1 739 385.2 753 378.7 765 374.8 778 372.6 794 372.3 806 374 817 377.1 827 381.5 837 387.9 845 395.1 852.4 404 858 413 862.8 424 866.2 435 870.4 461 870.4 490 867.3 523 857.9 576 849.1 610 838.4 643 828.8 664 823 673.2 817.4 680 810.9 686 803 691.6 793 697.1 780.9 702 755 708.1Z"/>
<path fill="#aff368" d="M744 708 L712 708.5 678 704.5 662 701 645.3 696 631 690 620.6 684 609.5 676 601.8 669 595 661 588.5 650 585.3 641 583 630 582.3 617 583.5 605 587.4 589 594.4 570 607.4 543 619.5 522 630 505.6 655.7 469 676 443.5 693.3 424 708 409.6 722.1 398 734 389.9 749 382.1 759.4 378 774 374.7 787 373.6 802 374.9 812 377.3 823 381.3 831.4 386 839 391.8 847 400 854.2 410 858.8 419 862.8 430 865.9 442 867.9 455 868.9 481 866.4 516 860.4 554 853 588.4 840.9 630 831 654.8 820.3 673 807.6 686 798.7 692 789 696.9 769 703.7Z"/>
<path fill="#b6f45f" d="M738 707 L721 707.4 703 706.4 685 704.2 668 700.8 652 696.4 639 691.5 628 686.1 618 679.5 608.6 672 601 664 595 656 590.6 647 587.8 638 585.9 626 585.9 612 587.5 600 590.6 588 597.2 570 610.6 542 623 520.3 660.2 466 679.4 442 696.5 423 711.1 409 724.7 398 735.2 391 750.7 383 762 378.9 776 376 789 375.2 803 376.7 823 383.1 831.4 388 838.8 394 846.3 402 853 411.7 856.7 419 861.5 432 866 455 867 483 864.4 517 857 562 849 596 838 631.8 827 657.8 816.6 674 809.1 682 801 688.4 784.4 697 761.2 704Z"/>
<path fill="#bdf555" d="M729 706 L696 704.2 680 701.8 663 697.9 647 692.8 635.9 688 627 683 615.9 675 607.3 667 599.9 658 595.6 651 592.1 642 589.8 631 588.9 619 589.9 605 592 594 597 577.8 603.5 562 614 540.7 628 516.1 665.6 462 682.5 441 701 420.7 714.6 408 728 397.5 741 389.5 755 382.9 770 378.5 781 377 793 377 805 378.8 817 382.4 825 386 833 391.3 840.4 398 847.7 407 853.2 416 857.6 426 861 437.3 864.9 463 864.7 492 860.9 529 852.8 573 844.2 606 834.1 636 823.7 659 817 669.7 811 677.1 803.6 684 796 689.4 776 698.3 753 703.9Z"/>
<path fill="#c4f64d" d="M738 704 L723 704.6 703 703.4 687 701.5 671 698.2 645 689.9 633 684.1 623.6 678 614 670 606.4 662 600.2 653 596 644 593.4 633 592.2 620 592.7 609 594.5 597 599.5 579 604.9 565 615 544 629 518.5 648 489.6 667 463.1 683.9 442 701 423 714 410.7 727.2 400 741 391.3 754 385.1 765 381.4 777 378.9 789 378.3 803 380 823 386.9 829.8 391 837 397 843.2 404 850 414 854.8 424 858.2 434 862.5 457 863.2 485 859.1 528 853.2 562 845 595.7 833.7 631 823.1 655 811.6 673 806 679.1 797.6 686 782.3 694 760 701Z"/>
<path fill="#cbf744" d="M729 703 L715 702.8 696 701.1 666 695.2 654 691.3 640 685.5 631.9 681 622.3 674 613.7 666 607 658 602 649.5 598.1 640 596.1 630 595.4 617 596.2 606 598.4 594 603.5 576 609.9 560 632 517.6 651 488.5 670.1 462 687.8 440 702 424.3 715 411.9 728.5 401 742 392.5 754 386.8 766 382.7 779 380.3 791.3 380 804 382 823 388.9 830.8 394 837.4 400 845.3 410 850 418 854.3 428 857.8 440 860 452 861.3 467 860.8 495 856.4 534 848.1 576 838.5 610 828.5 638 817.5 660 806 675.9 799.4 682 792.2 687 772 695.9 753 700.8Z"/>
<path fill="#d2f83b" d="M735 701.1 L722 701.4 704 700.4 687 698.2 672.5 695 658.7 691 646.2 686 637 681.5 627.5 675 612.2 660 607 652 602.7 643 599.9 633 598.6 623 599 609 600.9 597 606.3 577 612.3 561 633.2 520 651 492 666 470.7 684.2 447 700.8 428 715 414 727 404.1 739 396 751 389.9 763 385.2 777 382.1 789 381.5 801 383.1 811 385.8 821 389.8 828 394.2 834.9 400 842.3 409 847.3 417 854.6 435 858.8 459 859.4 486 856.8 517 850.2 558 841.5 593 830 627.8 818.8 653 806.4 672 801 677.8 793 684 778 691.6 758 698.1Z"/>
<path fill="#d9f932" d="M740 699 L715 699.6 683 695.7 656.3 688 642 681.6 633 676 623 667.6 616 659.9 610.7 652 606.3 643 603.1 632 601.9 623 602 612 603.6 599 608.4 580 614.1 564 623 544 634 523.1 663 478 683 451.3 697.5 434 712 419.1 723.4 409 734 401.1 746 394 760 387.9 773 384.4 785 383.1 797 384 808 386.6 817 389.9 823 393 831 399 842 412 848 422.8 851.6 432 854.5 443 856.3 455 857.5 482 855.1 515 850.1 548 843 579.6 831.6 617 820 645.3 813.9 657 807 667.4 797 678.2 782 687.7 761 695.5Z"/>
<path fill="#e0fa28" d="M728 698 L714 697.8 683.8 694 668.6 690 657 686 644 679.9 637 675.7 628.6 669 620.1 660 614.4 652 610.4 644 607.2 634 605.4 624 605.1 616 606.8 600 608.9 590 614.1 572 622.1 552 631 533.5 641.5 515 669 473 690 445.4 703.6 430 716 417.6 729 406.7 742.2 398 755 391.7 767 387.5 779 385.2 790 385 802 386.8 812 389.9 820 393.5 828 398.9 833.4 404 839.7 412 844.9 421 848.8 430 851.8 440 855 464 854.9 495 851.2 529 844 567 833.6 604 823.4 632 811.7 656 801.2 671 794.7 677 786.2 683 769 691 751 695.9Z"/>
<path fill="#e7fb20" d="M733 696 L710 695.7 680 691.1 665 686.7 655 682.7 642.4 676 634 670 625.7 662 618.3 652 614.5 645 611.1 635 609.2 626 608.6 616 612 591 616 575.6 623.4 556 632.5 536 642.4 518 669.2 476 687 452 701.3 435 713.8 422 725.1 412 737 403.3 749.6 396 763 390.5 775 387.5 787 386.6 799 388 809 390.8 816.7 394 823.5 398 830 403.5 835.9 410 840.5 417 845 426 848.6 436 852.3 457 853.2 486 850.4 520 845 553 834.6 593 825.3 621 811.7 651 801.2 667 789 678.3 773 687.2 754 693.4Z"/>
<path fill="#eefc17" d="M734 694 L711 693.9 681 689.3 658 681.5 643 673.2 634.8 667 628 660 621 650 617.1 642 613.9 632 612.4 622 612.2 612 615.9 588 621.1 570 629 550 636.9 533 648 513 676 469.8 693 447.6 707.5 431 716 422.4 729.4 411 740.9 403 751.5 397 764.1 392 776 389.1 787 388.5 798 389.7 814.2 395 822 399.4 828 404.5 834.1 411 838.6 418 843.5 428 846.6 437 850.4 459 851 486 848.6 517 843.3 550 834.6 585 824 617.6 813 642.9 801 662.9 790 674.3 772.5 685 755 691.1Z"/>
<path fill="#f5fd0e" d="M734 692 L710 691.8 695 690 679 686.6 659 679.3 646.3 672 637.1 665 630.5 658 625.1 650 620.6 641 617.4 631 615.9 621 615.7 611 619.5 587 624.5 570 631.2 552 639 534.9 649.1 516 663 492.8 676.9 472 693.5 450 707 434.2 716 425 729.8 413 742.6 404 752 398.8 764 394 776 391 788 390.4 798 391.7 813.7 397 820.5 401 826 405.7 836 417.8 841.2 428 844.3 437 848.2 459 848.8 488 846.2 519 841.2 549 833 582 823.5 612 812.6 638 800 659.6 788 672.4 771.3 683 755 688.9Z"/>
<path fill="#fcfe05" d="M732 690.1 L718 690.3 704 689.1 681 684.8 660 676.9 648.6 670 639.6 663 634.1 657 629 649.6 624.3 640 621.3 631 619.9 622 619.5 611 622.3 590 627 572.6 633.9 553 641 537 651 518 665 494 677 475.6 692.9 454 707.9 436 718.8 425 732 413.7 744 405.3 753 400.5 765 395.7 776 393 787 392.4 797 393.6 812.9 399 819.4 403 826 408.9 835.2 421 842.2 438 846 460.2 846.6 487 843.7 521 839 548 830.6 582 821.5 610 810.2 637 799 656.2 786.5 670 770 680.9 752 687.2Z"/>
<path fill="#fff700" d="M729 688.1 L702 686.6 680.1 682 662 674.8 651.2 668 642 660.5 636 653.7 631 645.4 627 636.4 624.5 627 623.5 608 626.8 585 634.8 559 640 546 659 509.1 672.1 487 682.9 471 697.8 451 709 437.8 732 416.2 745 407 753 402.7 765 397.9 777 395 787 394.5 798 396 807 398.8 813.4 402 819 405.8 825.7 412 834.6 425 839.1 436 841.2 444 844.3 469 843.7 499 840.1 529 833 563 826.9 586 814.7 620 803.3 644 792.3 660 780 671.5 765.7 680 748 685.7Z"/>
<path fill="#ffe700" d="M736 685 L716 685.6 700 683.9 685.6 681 665.2 673 654.1 666 646.8 660 637.5 649 632 638.4 629.3 630 627.7 621 627.4 611 629.9 587 640.1 554 655.6 521 671.9 492 681 477.9 697.4 455 708 442.1 718.4 431 731.7 419 750.9 406 763 400.8 775 397.6 785 396.7 796 397.8 810.2 403 823 412.8 831.8 425 838 441.4 841.6 464 842.1 484 840.1 512 834.8 544 827.4 575 816.6 608 805.9 633 796.1 650 784.3 664 771 674 756 680.9Z"/>
<path fill="#ffd700" d="M730 683.1 L718 683.1 703 681.7 683 677.3 663 667.8 648.3 656 642.5 649 638.3 642 632.6 626 631.4 610 634 585 638.7 568 644.1 553 650 539 662.6 514 684.6 477 698.7 457 710.2 443 732 421.5 740 415.3 752 407.9 763.5 403 775 399.9 785 399.1 796 400.3 809 405.3 816 410.1 822 415.7 830.8 429 836.7 447 839.6 469 839.4 493 835.4 527 828.8 559 820.7 588 810.5 616 801 636 788.4 655 776 666.8 762.6 675 750 679.8Z"/>
<path fill="#ffc700" d="M732 680.1 L720 680.4 696 677.7 686 675 677 671.4 666.9 666 659.6 661 652.2 654 642.6 641 637.1 626 635.5 610 636.5 594 638.3 584 643 566 648.9 550 666 513.6 688.9 475 700.2 459 712 444.5 732 424.5 741 417.3 752 410.5 763 405.6 774 402.6 785 401.7 795 402.8 808 408 814 412.1 820.2 418 828.2 430 834.2 448 837 469 836.8 492 833.7 521 828 551.1 820 580.9 809.7 610 800.8 630 788.9 649 779.9 659 765.4 670 751 676.2Z"/>
<path fill="#ffb700" d="M731 677.1 L719 677.4 705 676 686 671.6 669 662.9 661 656.9 653 648.5 648 641.5 644.3 634 640.6 618 640.4 599 644.8 574 654.6 545 663.6 525 673.4 506 694.1 472 704.9 457 715.7 444 735.1 425 746 416.8 754.3 412 765 407.5 775 405.1 785 404.5 795 405.7 802 408.2 809 412.2 819 421.2 826.7 434 831.8 450 834.2 471 834 493 830.5 524 825 552.1 816.5 582 807.2 608 798.1 628 786 647 773 660.3 762 668 749 673.2Z"/>
<path fill="#ffa700" d="M723 674 L702 672.3 692 670 684 667 674 661.5 665 654.7 654.7 643 648.2 630 645 614 645.2 596 650.2 569 654.2 556 662 536.5 677.4 505 696 474 718.3 445 738 425.9 749 417.9 756 414 766.2 410 775 408 785 407.6 795 409 807.4 415 817 424 825 438 829.3 453 831.5 477 830.8 499 826.7 529 821.2 555 811 589 803 609.4 794 628 781 647 768 659.5 757.5 666 741 671.9Z"/>
<path fill="#ff9700" d="M728 670 L707 669.1 690 665.1 681 660.9 673 655.5 666.7 650 661.7 644 653.5 629 650 613 650.1 593 654.8 568 665.2 538 680 506.6 700.9 472 720.2 447 740 427.7 750 420.6 758 416.3 775 411.1 785 410.9 794 412.4 805.3 418 815 427.1 822.1 440 826.1 454 828.2 475 827.9 497 824.1 526 819 550 810 581.4 801.9 603 792 623.7 781 640.2 770 652.4 760 660 744 667Z"/>
<path fill="#ff8700" d="M726 666 L708 664.9 697 662.9 689 659.9 683 656.7 674.1 650 665 639 658 624 655 608 655.9 587 660.3 565 669.4 538 685.2 504 704.7 472 721.5 450 741 430.8 750 424.2 758 419.9 767 416.4 775 414.7 784 414.5 792.5 416 797.9 418 804 421.9 813.8 432 820.4 446 823.5 460 824.9 480 823.8 505 819.2 533 813 559 805.3 584 795 609 786.9 624 775 641 764 651.6 754 658.1 738.5 664Z"/>
<path fill="#ff7800" d="M729 661.1 L712 660.6 695 657 684 650.8 671.9 639 665.2 626 662.5 617 661 607 661.3 586 664.2 569 671.9 543 685.7 511 702 482.1 720 456.7 738.7 437 755 425.4 764 421.3 772 419 779 418.3 788 419 794.2 421 800 424.4 809 432.8 815.3 444 819.4 458 821.2 477 820 505 817.8 521 811.1 552 804.3 575 795.9 597 786.9 615 774 634.7 766.4 643 755 651.7 739 658.7Z"/>
<path fill="#ff6800" d="M724 656 L709 654.5 694.1 650 683.4 642 674.6 631 669.5 618 666.6 600 667.5 581 671 562 682 529.3 692.1 507 708.9 478 725 456.2 742 438.9 756.5 429 764 425.5 772 423.3 779 422.6 787 423.4 798 428.8 806 436.8 811.8 447 815.8 462 817.2 482 816.1 505 813.3 524 806.9 552 800.9 572 791.5 596 780.9 616 771 630.4 761 640.7 751 647.5 736 653.9Z"/>
<path fill="#ff5800" d="M730 649 L714 649 701 645.7 691 639.7 681.3 628 678.3 622 675.4 613 673 596 673.3 582 676.6 563 685.1 535 694 513.1 708 487.1 722.8 465 741.2 445 755 434.8 763 430.7 769 428.7 777 427.5 785 428.2 794.9 433 802 440.6 807.6 450 811.2 463 812.7 483 812.1 501 809.3 522 805.1 542 798.4 565 791 585 784.1 600 774.1 617 766.4 627 754.6 638 741 645.5Z"/>
<path fill="#ff4800" d="M730 641.1 L716 641.5 706 639.2 695.1 632 687.8 623 682.5 609 680.2 593 680.4 578 684.3 557 693.7 528 704 504.4 714.7 485 727.2 467 743 449.8 755 440.6 762 436.8 770 434.1 777 433.2 782 434 790 437.2 797 443.9 803 454 806.2 465 807.8 482 807 502.4 804.9 520 801 539 795.2 559 787.7 579 780 595.9 772.9 608 763 621.1 754 630 739 638.8Z"/>
<path fill="#ff3800" d="M732 632.2 L720 632.4 711 630.5 700.8 623 694.4 615 689.4 600 688 587 688.9 570 692.3 553 699.5 530 709 507.9 720 487 734 467.2 747 453.6 757 446.3 770 441.2 780 441.4 787 444.6 793.2 451 797.2 459 800.5 471 801.7 485 801.5 500 799.4 520 796 537.3 786 568.3 778.2 586 771 598.9 761 612.9 753 621.1 742 628.6Z"/>
<path fill="#ff2800" d="M734 621.1 L726 621.5 715 618.5 706 611 701.5 604 698.3 594 696.6 581 697.6 566 700.7 550 708 527.1 715.2 510 724 493.3 735 476.7 749 461.5 757.8 455 767 451.6 773 450.6 777 451 783.2 454 789 461.2 792 468 794.5 480 795.3 493 794.1 511 792.1 526 788.9 540 783.2 558 776.1 575 766 593.3 749 613.7 742 618.2Z"/>
<path fill="#ff1800" d="M734 607.2 L726.2 607 719 604 712 595.4 709.3 590 707.4 581 707.2 569 708.4 557 712 540.8 718 523.6 725.7 506 734 491.5 740 483.1 749 473.7 758 467.7 766 464.6 774 464.4 778.5 467 783 473.1 785 478 786.7 487 787.5 497 786.7 511 782 537.2 775.2 558 769 571.8 762 583.9 748 600.3 742 604.1Z"/>
<path fill="#ff0800" d="M739 586.1 L733 586.2 729 584.8 725.8 582 723.2 577 721.3 565 720.9 556 724 538 733.3 514 743 498 748 492.7 758 486 763 483.4 767 483.1 771 484.9 773.8 488 775.8 493 777 500 776.2 519 772 538.4 764.5 558 758.6 569 748.3 581Z"/>
</g></g>
<g transform="translate(0,1083)"><g clip-path="url(#cb)"><g filter="url(#bl)">
<rect x="100" y="0" width="1100" height="1080" fill="#0507fe"/>
<path fill="#1014fd" d="M723 800.1 L695 800.2 564 797.4 400 791.1 360 788.5 301 782.6 257 776.8 188 764.3 98 741.7 83 736.8 45.4 720 25 705 22.3 702 19.8 697 15.3 692 12.5 678 13.4 674 16.7 668 22.2 661 33.5 650 37.8 643 69.6 617 96.5 597 121 580.2 139 569.3 170 547.5 347 434.9 402.7 397 428.4 378 458 353.4 524 292.7 546 274.9 580 249.6 602 237.2 622.1 228 665 214.8 706 205.7 717 204.3 734 205.4 756 204.2 791 209 831 219.9 850 226.7 887 247 898 254.6 936 287.2 958.2 310 991.3 350 1018.8 385 1030.9 403 1040.5 422 1052.1 455 1055.7 470 1060.4 499 1060 529 1058.4 547 1057.9 595 1056.6 605 1056.7 618 1054.3 646 1049.3 672 1044.7 689 1036.3 709 1031.2 718 1019 730.6 1005.9 742 985 754.6 971 761.5 947 770.6 927 776.6 899 783.6 878 787.7 812 795.5 752 799.3Z"/>
<path fill="#1b22fb" d="M741 794 L719 794.7 655 794.3 563 791.8 479 788.4 403 784.3 351 780.2 307 775.5 264 768.9 217 760.4 156 745.5 99 726.6 78.5 716 64.9 707 52.3 692 48 681 47.9 678 51.3 666 54.5 660 63.5 649 92.6 624 115.1 606 183 555.3 199 544.3 335 457.5 412.8 405 471 357.9 544 292.4 585 260.9 603 250.2 638 235.4 665 227.1 694 219.6 711 217.3 729 216.2 776 218.8 813 227.4 841 235.9 865 248.1 892 265.2 933.6 302 952 322 973 348.5 1004.8 391 1013.1 404 1020.4 418 1027.9 437 1030.8 447 1038.7 484 1040.6 522 1039.5 532 1039.4 549 1037.2 568 1035.8 615 1033.3 642 1029.8 665 1024.7 690 1020.3 703 1012 717.6 1003.3 728 994 735.7 979 746.1 958 757.5 937 765.4 909 773.9 880 780.5 846 786.2 812 789.8 775 792.7Z"/>
<path fill="#262ffa" d="M734 791 L672 791.5 568 788.5 480 784.7 414 780.7 339 774.5 304 769.9 244 759.8 219 754.8 174 743.3 160.1 739 109.6 720 89.4 708 79.1 699 75.4 694 69.5 683 70.3 672 72.4 665 76.1 658 90.9 642 105 629 152.2 590 191 560.7 227 535.6 370.3 443 421.5 407 444.9 389 472.3 366 549 298 585 270.4 606 257.7 633 245.1 654 237.8 689 228 726 223.3 775 226.2 808 233.8 838 243.3 857.7 253 881 267.2 894.5 277 909 291.3 927 306.3 935.3 315 961.1 346 987.2 381 997.6 397 1006.6 414 1016.9 437 1024.1 469 1027.5 490 1028.8 514 1028.3 533 1023.8 582 1021.6 625 1015.6 683 1013.6 691 1005.3 711 998.2 721 990.2 729 974 741.3 949 755.3 925 764.5 892 773.6 860 780.2 826 784.8 777 789.3Z"/>
<path fill="#313df8" d="M725 789 L672 789.2 633 788.1 479 781.7 353 772.6 270 760.4 227 752.1 191 742.8 153.4 730 125 718.5 106.8 708 99 702.4 90.9 695 86 685 84.8 679 84.9 673 86.8 666 89.3 661 104 643 114.5 633 156 597.4 183 575.4 210 555.1 238 535.6 351 462.1 407.1 424 465.7 379 549.1 305 573 286.2 594 271.4 615 259.2 633 250.9 666 239.4 680 235.5 705 230.9 722 229.1 746 229.3 775 231.8 808 239.5 835 248.4 854 257 885 277.1 898 287.6 931.2 319 959.8 354 980 381.6 993.3 403 1006.3 431 1009.2 439 1014.6 461 1017.3 477 1020.1 506 1020 530 1013.6 596 1009.7 670 1007.2 684 1002.2 699 996.3 712 989.4 721 979 731.2 965 741.2 951 749.6 935 756.8 915 764.1 891 770.7 848 779.3 780 786.6Z"/>
<path fill="#3b4af6" d="M726 786 L670 786.3 530 781.2 459 776.8 364 769.4 311 762.3 274 756.1 236 748.4 200 738.4 163 725.5 136 712.9 124 705.6 110.4 694 105.1 686 103.5 678 103.9 672 106.3 664 108.5 660 129.6 636 157 609.6 191 580.9 245 540.7 361 463.6 426.6 418 477.1 378 550.7 313 582 288.4 601 275.5 627 261 638 256 665 246.4 692 239.9 707 237.5 731 235.5 751 236.4 778 239.5 809 246.8 833 255.3 850 262.9 883 284.9 913.1 311 930 328.6 951.6 356 966.8 377 985 406.8 998.5 437 1005.1 464 1008.9 491 1009 528 1002.5 605 1000.8 655 995.6 691 985.6 712 978.7 721 968.2 731 954 741 939 749.3 923.7 756 902 763.5 849 775.4 814 780.1 782 783.2Z"/>
<path fill="#4658f5" d="M702 783 L667 783 592 780.6 460 773.1 369 765.3 314 757.9 279 751.5 242 743.4 213 734.7 185 725 156.8 712 146 705.5 137 698.6 126 686.3 123.7 678 124.5 668 125.9 664 131.3 656 150 634.3 185 599.1 210 578.1 265 537.6 389 453.5 435.9 420 477 387.4 560.2 315 582.8 297 597 287 618.2 274 636 264.8 662 255.1 695 246.5 710 244.5 735 242.8 759 244.2 785 248.3 801 251.9 819 257.5 847 270.2 882 294 897 306.8 919 327.6 943 357.6 961.7 385 981.6 421 990 444 993.5 458 997 478 998.3 503 997.2 540 992.1 606 990.3 654 987.7 676 984.8 690 981.5 698 974.2 712 964 724.2 954 732.9 940 741.8 926 749 909 756.1 888 762.7 860 769.3 824 775.3 761 781.3Z"/>
<path fill="#5165f3" d="M718 780 L656 779.9 528 774.4 389 763.4 314 753.4 281 747 248 739 212 727.6 191 719.2 170 708.6 156.3 699 146.9 689 141.6 680 141.2 675 146.1 660 153.8 648 185.5 613 218.4 583 253 556.2 293 527.3 403 451.8 440 424.7 480.2 393 565.3 319 588 301.2 601 292.2 623 278.8 641 270 662 262 693 253.4 711 250.8 734 249.1 758 250.5 777 253.6 808 260.5 831.7 270 854.8 283 878 299.5 902 320.2 916 334.7 937.4 362 953.6 386 972.6 421 977.6 434 984.7 459 987.8 476 989.1 495 988.3 529 979.5 667 977.8 678 973.5 694 967.6 707 962 715.3 953 725 942 733.7 927 742.8 910 750.8 896 755.9 873 762.4 851 767.5 824 772 771 777.5Z"/>
<path fill="#5c73f2" d="M735 777 L658 777.5 584 774.7 529 771.6 462 766.7 385 759.5 317 749.8 283 742.7 246 732.9 218 723 195 713 177 701.8 163.8 690 159.3 684 157.4 676 157.2 670 159 665 166.6 651 178 636.3 208.7 603 233.4 581 261.2 559 300.8 530 403 459 439 432.8 485 396.2 574 319.1 605.8 296 629 282.2 647 273.8 674 264.1 699 258.1 711 256.5 738 254.8 758 256.3 786 260.9 816 269.2 844 283.3 867 298.9 888 315.6 909.5 337 924 354.5 942.3 381 962.6 417 970.3 435 976.9 460 979.1 471 981.2 491 980 532 971.9 660 966.1 691 962.4 701 957.2 710 949.8 719 941.4 727 927.5 737 916 743.2 901 749.9 878 757.5 840 766.3 804 771.8Z"/>
<path fill="#6780f0" d="M724 775 L657 775.1 565 771.4 465 764.1 389 756.7 320 746.6 294 741 257 731.1 222 718 202 708.5 194 703.4 176.5 688 172 678 172.7 666 175.3 659 181.4 649 199.2 626 220 603.7 242.6 583 266.1 564 309 531.5 408.1 462 455 426.8 500.2 390 572 327.3 605 302.6 630 287.6 649 278.5 673 269.7 700 263.1 739 260.1 758 261.5 783 265.5 811 273 841 287.6 855.7 297 888 323 906.5 342 925.1 366 934.8 380 954.6 415 963.7 437 969.1 457 973 478 974 493 973.2 524 969.2 594 963.6 665 961.7 678 958.3 692 953.6 703 948.6 711 938.8 722 929 729.9 920 736 904 744.4 872 755.9 832 764.8 789 770.8Z"/>
<path fill="#728eef" d="M715 773 L649 772.7 529 766.6 457 760.8 367 751 323 743.5 298 737.8 267 729.3 231 715.6 217 709 204.8 701 190.6 688 186.9 682 185.1 677 185.4 668 188 659 191.5 652 207.2 630 229 605.9 249.9 586 274 565.7 300.8 545 445 440.6 503 393.8 569 335.8 608 306.3 629 293.7 649 283.5 674 274.4 700 268.1 735 265.1 758 266.4 780 269.8 808 277.1 837 290.9 853 300.9 886 327.9 904 346.9 920 367.8 931.5 385 950.3 420 960.4 448 965.5 471 967.3 491 967.5 508 964.8 561 959.2 641 956.3 669 954.3 681 950.6 694 947.2 701 939.7 713 931.2 722 921.1 730 911 736.4 897.8 743 868 754 847 759.3 825 763.5 777 769.5Z"/>
<path fill="#7c9bed" d="M715 771 L647 770.7 580 767.7 522 763.9 458 758.5 389 751.1 332 741.8 299 734.1 271.6 726 248 717 228 707.5 212.5 697 204.5 689 200.4 683 197.3 676 197.5 667 199.3 660 204.7 649 219.4 628 238.2 607 266.2 581 309 546 450.9 442 505.9 397 572 339.1 605 313.7 626 300.5 645 290.2 667 281.5 686 275.8 707 271.7 730 269.5 757 270.8 780 274.3 804 280.4 834 294.4 856 308.7 882 330.9 900.3 350 921.3 378 934.9 401 945.4 423 954.3 449 958.9 469 961.3 502 959.5 556 950.3 668 948.1 680 944.6 692 937 707 932.8 713 926 720.5 916.6 728 904 736 891 742.2 873 749.2 858 753.9 817 762.5 776 767.5Z"/>
<path fill="#87a9eb" d="M717 769 L646 768.7 586 766.1 520 761.7 457 756.1 389 748.5 335 739.1 312.9 734 277 723.2 254 714 238 705.9 220.7 694 215.9 689 209.5 677 208.8 664 214.8 650 232 625.2 251 603.7 274.7 582 322 543 455 444.3 507 401.2 581 336.8 614 312.7 633 301.1 654 290.7 674 283.5 691 278.9 712 275.2 729 273.9 757 275.2 781 278.6 801 283.8 820 292.1 839 302.4 858 315.7 886 341.4 903.1 361 922.8 389 935.8 414 944.8 437 951.1 459 954.2 478 955.5 501 954.1 550 944.8 665 939.6 688 934.6 700 928.1 711 918.7 721 909.7 728 901 733.6 887 740.5 856 751.7 816 760.5 778 765.3Z"/>
<path fill="#92b6ea" d="M723 767 L683 767.6 645 766.9 587 764.4 520 759.8 407 748.2 375 743.7 335 736 305 728.1 279 719.3 258 710.2 238.6 699 227.8 690 222.1 681 219.7 669 220.5 660 223.7 652 231.3 639 247.3 618 266 597.8 293.7 573 331 542.4 465 441.5 508 405.5 580 342.8 596 330.1 617.5 315 634.2 305 654 295 675 287.3 693 282.5 714 278.9 726 277.9 755 279 782 282.7 801 288 820 296.4 837 306 857 320.1 886 347.4 902.5 367 919.4 392 929.6 412 940.1 439 945.4 457 948.8 477 950.1 497 950.3 516 948.7 550 940.6 653 936 681 931.6 694 926.9 704 922.9 710 913.5 720 903.3 728 893 734 876 742 857 748.8 817 758.2 779 763.3Z"/>
<path fill="#9dc4e8" d="M730 765 L661 765.7 588 762.8 542 759.7 486 754.8 421 747.8 381 742 347 735.5 321 729.2 287 717.9 272.9 712 251 700.1 241 692.6 232.7 682 230.8 676 230 669 230.7 660 233.8 651 239.9 640 254.3 620 272.3 600 300.4 574 345 537.7 467 444.6 519.1 401 564 361 595 335.7 619 318.5 639 306.7 656 298.3 678 290.4 698 285.4 720 282 738 281.9 760 283.3 781 286.2 800 291.8 820 300.6 834 308.8 855.6 324 885 352 898.9 369 911 386.5 919 400 923.8 410 932.3 431 939.3 453 942.5 467 944.5 486 945.4 508 944.9 531 940.6 598 936.2 646 930.8 681 923.9 699 918.4 708 910.7 717 902 724.5 890.2 732 876 739 857 746.2 819 755.7 780 761.3Z"/>
<path fill="#a8d1e7" d="M712 764 L675 764.3 633 763.2 571 760.1 522 756.3 422 745.7 381 739.5 349 733.1 325 727 294 716.3 277.3 709 256.7 697 246.9 688 241.2 679 239.6 668 240.1 661 245.5 646 261 622 277.5 603 305.8 576 356 534.6 458 456.5 507.2 416 566 364.1 594 341.1 618 323.6 639 310.8 656 302.3 680 293.6 699 288.8 716 286.1 737 285.4 761 287 778 289.3 801 296.1 824 306.9 851 325.1 867 339.2 885 357.7 902.6 381 916.5 404 924.7 423 933.4 449 937.3 465 939.8 487 940.3 532 935.7 602 928.8 665 926.1 679 923 689 919.1 698 912.4 709 899.5 722 887.5 730 876.1 736 849 746.2 827 752 807 756 750 762.3Z"/>
<path fill="#a8d9df" d="M726 762 L661 762.6 607 760.6 557 757.5 486 751.1 428 744.3 394 739.3 363 733.4 335 726.6 305 716.5 288 709.3 270 699.1 261 692.8 252.8 683 248.7 672 248.7 662 256.2 642 267.6 624 289 599.4 313.1 576 333 558.7 372.2 527 439.1 476 476.6 446 520.6 409 567.7 367 596 343.8 619 327.2 639 314.7 658 305.3 682 296.4 701 291.9 714 289.8 737 288.8 776 292.4 793 297 814.9 306 828 313.4 851.5 330 866.9 344 888.7 368 902 387.2 915 410 923.4 431 929.5 451 934.1 474 935.6 491 935.6 533 928.9 627 923.4 669 916.5 693 910.2 705 903.9 713 898 718.8 887 726.7 875 733.6 858 740.9 822 751 784 757.4 749 760.8Z"/>
<path fill="#9ddcd0" d="M712 761 L675 761.4 635 760.4 542 754.7 452 745.4 395 737.2 371 732.5 343 725.8 329 721.4 304 712.1 285.6 703 272.2 694 264 686 259.6 679 256.8 670 256.5 665 261.1 649 274.9 625 289 607.5 319 577.2 376 529 449.9 472 488.2 441 570 369.4 602 343.3 623 328.5 641.6 317 660 308 683 299.6 706 294.1 715 293 739 292.2 766 294.2 786 298.2 808 306.3 825 315.4 848 331.6 865.1 347 884.2 368 900.7 392 910.2 409 917.7 427 923.8 446 928.7 468 931 487 931.5 526 924.6 627 918.4 671 915.1 684 911.4 694 906.6 703 899 712.9 881.2 727 865.9 735 852 740.7 828 747.6 808 752 786 755.4 752 759Z"/>
<path fill="#92dec2" d="M690 760 L625 758.6 540 752.9 452 743.5 396 735.1 371 730.1 344 723 329 717.9 308 709.6 291 700.9 280.1 693 271.2 684 265.8 672 264.6 667 264.9 663 269.1 648 283 624 304.1 599 324 579 375.9 534 484 448.7 575.4 369 610 341.4 631 326.9 648.2 317 663 310.1 685 302.4 709 296.9 730 295.5 749 295.8 772 298.3 786 301.6 800 306.3 811 311.3 832 323.6 853 340 873 360 886 376 902.8 403 912.5 424 918.2 440 922.6 458 926.3 481 927.4 498 927.3 525 924.1 583 920.1 631 915.3 664 912.5 678 908.6 690 904.5 699 899.2 707 891.7 715 881 723.6 859 735.6 828 745.6 794 752.7 746 758Z"/>
<path fill="#87e1b4" d="M717 758 L682 758.7 646 758 564 753.4 464 743.2 418 736.6 384 730.5 351 722 335 716.7 310 706.2 295 698.1 285.2 690 277.4 681 273.3 671 273.1 660 277.4 646 288.7 626 299.5 612 329 580.3 381 534.7 485 452 520 422.2 568 379.4 601 351.9 625 334.4 640 325 658 315.6 678 307.8 710 299.9 734 298.4 749 298.8 774 301.9 796 308.1 813 315.8 831 326.6 849.5 341 866.8 358 882.6 377 892.9 393 905.4 416 911.2 431 917.4 452 921.3 473 923.2 491 923.5 513 920.3 583 915.7 635 908.2 678 904.3 690 899.4 700 892.7 709 883.5 718 872.1 726 858 733.5 846.4 738 823 744.9 798 750.3 777 753.3 748 756.4Z"/>
<path fill="#7ce3a5" d="M704 757 L636 756.3 547 750.5 463 741.3 415 734.1 384 728 341 715.6 316 704.7 300.6 696 292.4 689 284 678 280.6 669 281 659 282.7 651 286.8 641 296.1 625 314 602.9 340 575.9 385 536.2 480.4 460 520 426.3 580 372.9 609.8 349 627 336.6 642 327.2 659 318.4 680 310.3 702 304.5 712 302.7 736 301.4 758 302.6 779 306.1 797 311.7 815 320.4 830 329.6 841 337.8 861.7 357 877.7 376 890.9 396 901.6 416 908.5 434 914.1 454 917.7 476 919.6 500 919.5 531 918.1 562 911.8 636 905.1 674 901.8 686 897.9 695 891.4 705 882.2 715 874.7 721 863 728.4 850 734.5 830 741.1 796 749 752 754.6Z"/>
<path fill="#72e597" d="M689 756 L625 754.5 542 748.5 463 739.6 422 733.3 389 726.7 345.5 714 322 703.4 309.1 696 299.2 688 291.4 677 288.3 669 288 660 289.6 652 293.6 641 300.7 628 323.9 599 348 574.3 385 541.2 487.5 458 581 375.8 613 350.1 638 333 657 322.6 669 317.5 689 310.7 708 306.2 728 304.6 746 304.5 765 306.4 783 310.3 805 318.5 829 332.5 842 342.5 862 361.7 877.5 381 889.5 400 900 421 907.2 442 911.5 460 914.2 478 916 503 915.9 533 914.4 564 906.6 647 899.7 680 896.1 690 891.8 698 886.8 705 877.7 715 869 721.6 856 729.5 827 740.1 791 748.3 749 753.4Z"/>
<path fill="#67e889" d="M716 754 L683 754.8 646 754.1 565 749.3 474 739.4 430 732.7 400 726.9 376 720.8 352 713.3 332 704.3 317.4 696 306.9 688 300.7 680 296.2 671 295 660 296.1 653 299.4 643 307.8 627 331.8 597 352 576.3 388 543.7 513 440.3 569.1 390 606 358.8 624 345.5 642 333.9 661 323.9 680 316.5 699 310.9 714 308.3 736 307 752 307.6 772 310.6 791 315.9 807 322.7 824.6 333 837 342 853.5 357 866 371 880.5 391 891.2 410 898.8 427 905.2 448 908.3 463 910.6 478 912.4 503 912.5 529 911 563 904.2 637 897.4 675 893.7 686 889.3 695 883.3 704 875.4 713 866.7 720 851.8 729 830 737.2 813 742 792 746.5 750 752Z"/>
<path fill="#5cea7a" d="M706 753 L681 753.5 645 752.7 597 750.3 553 746.8 473 737.5 432 731.1 399 724.4 376 718.1 354 710.8 335.4 702 322.3 694 312.7 686 306.1 677 302.5 667 302.4 656 306.5 641 314 627.3 334.4 601 356 578.1 390 546.8 509.7 447 574.3 389 608.9 360 625.1 348 643 336.6 663.2 326 685 317.6 701 313.2 717 310.7 739 309.7 754 310.5 777 314.6 794 320 811 328.1 831 340.7 849.6 357 864 372.9 877 391 888.6 412 896.1 430 902 450 906.2 472 908.3 491 909 535 907.6 563 902.9 617 897.7 656 891.7 681 886.4 693 880.1 703 871.2 713 863.7 719 854 725.3 843 730.5 826 736.6 803 742.7 781 746.8 755 750.2Z"/>
<path fill="#51ed6c" d="M701 752 L671 752.2 629 750.8 552 745.4 465 734.6 434 729.5 401 722.6 379 716.4 356 708.2 342.9 702 329 693.4 320 685.7 313 677 309.4 666 309.3 655 312.9 641 316.7 633 322.4 624 344 596.7 364.1 576 394 548 510 450.4 578 389.3 611 361.8 630 347.9 653 334.1 669 326.3 688 319.3 702 315.8 718 313.3 740 312.4 755 313.2 779 317.8 794 323.1 810 330.7 830 343.3 847.6 359 862.1 375 873.5 391 886.1 414 893.5 433 899 452 903 474 905.3 497 905.9 525 905.2 550 899 622 892.9 663 889.7 676 885.5 687 880.3 697 873.8 706 866 714 855 722 844 727.8 828 734 811 739.1 791 743.6 753 749.1Z"/>
<path fill="#46ef5d" d="M693 751 L663 750.8 617 748.9 546 743.5 492 737 458 731.9 425.9 726 402 720.5 379 713.7 358.7 706 346.6 700 333.1 691 324.7 683 318.9 675 316.2 666 316.1 653 317.6 645 320.8 637 331.8 619 351 595.2 376 569.7 400.6 547 512.2 452 585 386.7 619 358.9 641 344 658 334.3 671 328.2 690 321.4 703 318.3 719 315.9 742 315.1 756 316 780 320.8 796 326.8 819 339 832 348.4 850.6 366 863.2 381 876 401 885 419 891.5 437 897.2 459 901.1 486 902.7 511 902.1 550 897.5 604 892.9 644 887.3 672 883.3 684 878.4 694 872.5 703 865.2 711 856 718.5 847 723.9 832 730.6 819.4 735 784 743.4 751 747.9Z"/>
<path fill="#3bf24f" d="M714 749 L689 749.8 648 749.2 569 744.3 490 735.2 456 729.8 419 722.4 394.4 716 377 710.1 359.5 703 345.8 695 333.3 685 326.2 676 323 667 322.3 655 323.3 647 326.7 637 336.2 621 350 602.6 370.8 580 409.4 544 490 475.1 586 389.2 614 366 631 353.4 648 342.8 666 333.1 683 326.4 698 322 716 318.9 733 317.7 748 317.9 762 319.5 782 324.1 802 332.5 819 342.1 834 353.4 851.4 371 863.5 386 873.8 403 881.7 419 889.2 440 894.2 460 897.2 480 899.6 516 899.4 544 896.7 581 891.5 631 888.3 652 884.3 670 880.2 683 873.7 696 868 704 860.1 712 850.9 719 835.7 727 822 732.4 805 737.3 782 742.3 757 746Z"/>
<path fill="#31f441" d="M707 748 L677 748.7 645 747.9 599 745.4 555 741.7 482 732.4 442 725.4 417.9 720 395 713.6 371 704.8 358 698.3 347.2 691 338 682.9 332.5 675 328.8 664 328.6 652 332.8 637 342.5 620 354.3 604 381 574.9 413 545.3 491 478 587 391.8 620 364.4 636 353 660 338.9 672 333.2 687 327.8 702 323.7 719 321 740 320.2 758 321.5 777 325.3 794 331.5 815 342.7 830 353.5 843.1 366 860 385.9 870.6 403 878.1 418 884.8 436 889.8 454 893.1 472 895.9 500 896.1 549 889 626 883.4 660 876.8 683 871.5 694 867 700.8 858.4 710 851.2 716 839.2 723 827 728.7 812 733.8 795 738.2 754 745.1Z"/>
<path fill="#26f632" d="M703 747 L675 747.5 631 746.1 585 743.2 548 739.7 480 730.5 443 723.7 418.7 718 396 711.4 374 702.8 364 697.8 352.5 690 342.1 680 338.5 674 334.6 662 334.8 651 339.4 636 350.2 617 363.9 599 388 573 423.7 540 505.3 469 588.3 394 621 366.7 638 354.5 660 341.6 672 335.9 689 329.8 703 326.1 721 323.3 743 322.7 759 324.2 776 327.6 794 334.2 814 345 828.8 356 842 368.7 858 388 868.5 405 876.6 422 883 440 887.2 456 890.6 476 893.2 504 892.9 552 889.8 592 885.4 630 880.5 659 876.3 675 871.7 687 867.5 695 862.3 702 853.5 711 846 716.5 832.8 724 823 728.3 809.1 733 790 737.8 752 744Z"/>
<path fill="#1bf924" d="M700 746 L674 746.3 630 744.9 585 742 548 738.5 480 728.9 451 723.5 420 716.1 402.5 711 386.4 705 367.7 696 357 688.3 348 679 344 672 340.5 661 340.6 650 344.7 637 352.1 623 359.2 612 372.6 595 394 572.1 415.1 552 504 473.7 577 407.3 622 368.9 639 356.6 660 344.4 671 339.1 691 331.8 705 328.2 724 325.5 743 325.2 761 327.1 776 330.3 794 337 812.4 347 827.1 358 841 371.5 856 390 866 406.2 874.7 425 880 440 884.4 457 888.8 485 890.4 506 889.7 555 887 592 882.5 630 877.4 659 873.7 673 868.9 686 864.6 694 859 701.6 851 709.7 842.6 716 830.4 723 820 727.6 803.5 733 787 737 750 742.9Z"/>
<path fill="#10fb16" d="M695 745 L629 743.7 584 740.7 539 736.2 478.1 727 451 721.6 420.1 714 404 709 388.8 703 373 695 362.2 687 354.4 679 348.8 669 346.3 659 346.6 649 348.3 642 357 623.9 365.3 611 379.5 593 397.3 574 426.6 546 523 460.1 578.7 409 624.5 370 640 358.8 661 346.6 679 338.5 693 333.7 707 330.3 724 327.8 744 327.8 762 329.7 776 332.9 796.8 341 811 349 825.5 360 839.9 374 854.1 392 864 408.3 872.4 427 878.7 446 882.1 460 886 485 887.5 507 887.8 530 886.2 565 884.1 592 879.3 631 873.8 661 866 685.4 861.2 694 856 701 846.7 710 837 717 826 723 813 728.4 783 736.5 742 742.5Z"/>
<path fill="#05fe07" d="M690 744 L650 743.5 612 741.6 538 734.7 473 724.4 422 712.3 405.7 707 392 701.3 376.6 693 366.4 685 360.1 678 353.9 667 352 657 352.8 647 354.5 640 359.1 630 370.1 612 385 592.6 407.2 569 432.4 545 588.9 403 626 371.7 641 361 661 349.3 678 341.4 693 336.2 708 332.5 724 330.2 746 330.3 762 332.2 776 335.5 797 343.9 810 351.3 825 362.9 837.4 375 851.6 393 861.7 410 870.2 429 876.3 448 880.1 464 883.3 486 884.6 506 885 533 882.6 577 875.7 635 870.5 662 866.2 677 862.8 685 857.2 695 851.4 702 842.9 710 834 716.3 823 722.3 810 727.7 794 732.5 777 736.3 739 741.5Z"/>
<path fill="#04fe04" d="M681 743 L648 742.4 608 740.2 537 733.3 473 722.8 425 711 407.7 705 394.2 699 381 691.5 371.6 684 365.6 677 359.2 665 357.8 657 358.6 646 365 629 376.1 611 394.1 588 416 565 592.3 403 626 374.6 641 363.8 660 352.5 678 343.9 694 338.4 708 334.8 724 332.5 746 332.7 762 334.7 775 337.8 798 347.2 812.4 356 826 367.1 840 381.8 851.2 397 861.1 415 869.8 436 876 458.1 879.4 478 881.6 501 882.2 525 878.7 590 875 621 869.1 655 862.7 678 853.8 695 845.9 704 838 711 820 721.6 809 726.3 795 730.7 765 737 723 741.6Z"/>
<path fill="#0dfd0d" d="M712 741 L680 741.9 650 741.3 580 736.9 515 728.7 476 721.7 450 715.8 427 709.2 408 702.2 395.1 696 382 687.5 374 680 366.4 668 364 661 363.5 651 364.8 644 368.7 633 375.3 620 387.8 602 409.1 577 451.2 536 583.6 414 613.1 388 629 375.2 649.6 361 666 351.9 681 345.2 703 338.3 718 335.4 728 334.8 749 335.3 767 338.2 782 342.8 797 349.5 811 358 824.5 369 837 382.1 847 395.3 855.5 410 865.3 432 870.6 448 874.2 463 877.1 482 878.8 501 879.4 524 876.5 583 870.5 631 863.4 666 859.8 677 855 687.7 850.2 695 842.4 704 832.8 712 822 718.5 809 724.5 794 729.5 777 733.6 755 737.3Z"/>
<path fill="#16fc16" d="M710 740 L680 740.8 650 740.2 579 735.6 513.3 727 475.9 720 452 714.3 429 707.5 410 700 398.1 694 385 685 379.1 679 372.7 669 369.9 661 369.1 650 370.5 643 374.4 632 384 614.2 397 596.4 420 570.5 467.3 525 583.7 417 614.2 390 630.3 377 651 362.7 666 354.5 682 347.3 703 340.6 718 337.8 749 337.6 765 340.1 780 344.6 795 351.2 810 360.4 823 371 832.7 381 844.4 396 852.6 410 859.2 424 866.4 443 871.2 462 874.2 481 876.7 520 874.2 578 868.6 625 864.9 647 861 664 853.2 685 846.8 695 840 703 831 710.6 820.7 717 807 723.4 793 728.2 777 732.2 754 736.2Z"/>
<path fill="#1ffb1f" d="M707 739 L678 739.7 645 738.9 578 734.3 512 725.3 479.3 719 454 712.8 430 705.3 414 698.7 402 692.5 390.2 684 383 676.4 377.9 668 375 657 374.6 649 379.4 633 388.7 615 399.8 599 424.2 571 492.7 505 586.1 418 616.4 391 634 377.1 653 364.2 667 356.5 685 348.6 703 343 718 340.2 731 339.5 750 340.1 765 342.5 779.7 347 796 354.5 810.8 364 824.7 376 837.6 391 845.8 403 854.6 420 862.3 439 865.9 451 870.1 471 872.7 494 873.9 515 872.4 566 869.2 600 862.9 643 855.5 672 852 681.1 845.7 692 839.5 700 833.2 706 823.6 713 812 719.3 799 724.7 784 729.1 751 735.4Z"/>
<path fill="#28fa28" d="M704 738 L677 738.6 644 737.7 577 733 538 728.1 507.1 723 455 711.1 432 703.5 418 697.5 406.1 691 396.6 684 388.6 676 383.2 667 380.5 656 380.4 647 382.6 638 386 629.9 398.4 608 410.4 592 429.7 570 498.7 503 578.6 428 618.8 392 636.4 378 655 365.5 669 358 687.9 350 705 344.9 719 342.5 731 341.8 750 342.4 764 344.7 778.2 349 795 356.7 809.4 366 824 378.9 836 393 843.9 405 852.7 422 859.9 440 863.1 451 867.6 472 869.9 491 871.2 514 871.1 533 869.7 566 866.3 602 859.9 644 851.8 674 848.4 682 842 692.9 837 699.1 830 705.7 821.4 712 810.6 718 797 723.7 783 727.8 750 734.3 724 737Z"/>
<path fill="#31f931" d="M702 737 L677 737.5 645 736.7 579 732 543 727.5 511 722.2 462 711 430.2 700 415.8 693 403.9 685 394.7 676 390 669 386.4 658 386 647 389.7 633 401.6 611 416.9 590 434.2 570 458 546 565.9 443 621 393.1 638.7 379 656.8 367 669 360.4 690 351.6 706 347 721 344.7 732 344.1 750 344.8 765 347.5 778 351.5 795 359.5 810 369.7 823.6 382 834.4 395 842.7 408 851.4 425 858.1 443 862.5 460 866 479.1 867.6 497 868.6 524 867.9 551 863.3 603 857.3 643 849.5 672 845.3 682 840.2 691 833.7 699 827.2 705 819.1 711 808.5 717 796 722.3 782 726.6 749 733.2 724 735.9Z"/>
<path fill="#3af83a" d="M699 736 L645 735.6 579 730.8 543 726.1 511 720.7 464 709.6 433 698.4 418.8 691 407 682.5 399.2 674 394 665 391.5 656 391.9 645 393.7 637 397 628 405.9 612 423.3 588 438.9 570 466.4 542 583.1 430 622 395.1 640 380.7 658 368.9 670 362.4 690 354 707 349.2 723 346.8 737 346.4 751 347.2 768 350.7 780 354.9 796 362.9 810 372.9 822.1 384 833.5 398 842.1 412 850 428.2 855.9 445 860.3 462 863.7 482 865.1 499 866 526 865.3 551 859.8 609 853.9 646 846.2 673 841.3 684 837 691 830.4 699 822.4 706 812 713 802.1 718 788.9 723 775 726.9 740 733.1Z"/>
<path fill="#43f743" d="M695 735 L645 734.4 579 729.6 544 725 512 719.4 468 708.7 436.4 697 423.4 690 413.6 683 405.8 675 399.7 665 396.7 656 397 647 401.5 630 410.3 613 422.1 596 441.7 572 462.6 550 525.8 488 584 432.3 622 397.9 641 382.7 659 370.8 671.9 364 691 356.1 707 351.6 723 349.1 738 348.6 753 349.8 769 353.5 782 358.4 798.1 367 811 376.9 821 386.5 833 401.6 841.4 416 849.6 434 855.3 452 858.8 468 861.6 488 863.1 513 862.1 560 859.7 587 855.1 623 848.8 655 844.6 669 839.3 682 835.2 689 829 696.9 815 708.7 806 714.1 795 719.1 783 723.3 765 727.7 731 732.9Z"/>
<path fill="#4cf64c" d="M691 734 L645 733.3 579 728.4 544 723.6 512.7 718 470 707.2 438.6 695 428 689 418 681.6 411.7 675 404.9 664 402.2 656 402.1 648 406.8 630 415.9 612 430 591.8 447.3 571 465.9 551 532.5 485 585 434.5 622 400.7 642 384.7 659.7 373 672 366.4 691 358.5 707 354 722 351.5 737 350.9 753 352.1 769 356.1 783 361.4 798 369.8 810 379.2 820 389.2 830.8 403 839.6 418 847.6 436 853.4 455 856.7 471 859.4 492 860.5 513 860.5 537 859.3 563 852.4 623 846.3 654 842.4 667 837 680.4 832.7 688 827.3 695 812.4 708 802.2 714 792 718.5 779 722.8 762 727 728 732Z"/>
<path fill="#55f555" d="M687 733 L630 731.4 597 729.1 569 725.9 511 716.1 469.9 705 440 692.5 429.7 686 420 678 412.6 668 408.6 659 407.2 651 408.2 642 414 625 422.6 609 436.9 589 455.5 567 483.8 537 533 488.1 600 423.5 626.2 400 644 386 661 374.9 674 368 692 360.5 708 356.1 722 353.8 737 353.2 752 354.3 768 358.2 782.9 364 797 372.1 809 381.6 819.2 392 828.4 404 837 418.5 845.3 437 850.5 454 854.1 471 856.7 491 857.8 511 858 533 856.7 563 850.1 621 843.7 653 835.5 677 830.7 686 825.7 693 811 706.4 800.1 713 791 717.1 777 721.8 761 725.8 726 731Z"/>
<path fill="#5ef45e" d="M680 732 L648 731.2 609 728.9 562 723.7 510 714.2 471 703.1 443 690.7 431.6 683 424.2 676 417.7 667 413.8 658 413 651 413.6 641 418.5 626 426.9 610 440.8 590 464.4 562 486.8 538 530 494.6 600.6 426 627.2 402 644 388.8 661.9 377 673 370.9 690 363.6 703 359.5 722.8 356 738 355.6 752 356.7 767 360.4 783 366.7 796.8 375 809 384.9 820.1 397 828.7 409 838.3 427 843.6 440 848.8 458 852.2 475 854.8 500 855.5 524 853.1 576 845.9 629 839.2 659 835 671.2 830.4 681 825.5 689 819.7 696 812 703 804 708.6 795 713.5 783 718.3 752 726.2 721 730.3Z"/>
<path fill="#67f367" d="M708 730 L660 730.6 626.9 729 588 725.8 532 717.3 508 712.1 489.8 707 471 700.7 455.6 694 444 687.7 433.9 680 425.8 671 420.3 661 418.5 653 418.7 642 423 627 432.3 609 447.1 588 467.8 563 499.4 529 600 429.6 627 405 643 392.3 662 379.5 672 373.9 688 366.7 702 362.1 721 358.5 732 357.8 747 358.4 764 362.1 777.6 367 788 372.1 799 379.7 810 389.3 821.6 403 828.3 413 836.4 429 845.2 454 848.7 470 851.3 489 852.9 530 849.7 584 844.9 620 837 657 832.6 670 828 679.8 822.3 689 816.4 696 808.5 703 799 709.3 788 714.7 777 718.6 745.6 726Z"/>
<path fill="#71f271" d="M705 729 L658 729.4 627 727.9 588 724.5 533.3 716 494 706.3 473.1 699 459.7 693 448 686.4 438.6 679 429.9 669 425.8 661 424 653 423.9 643 427.7 628 435.9 611 448.5 592 470.4 565 513 519 584.4 448 621 413.2 640.6 397 655 386.7 670 377.4 685 370.3 702 364.5 720 361 731 360.1 746 360.7 756 362.5 772 367.4 785 373.1 797 381.2 809 391.9 820 405 827 415.8 834.5 431 843.2 457 846.5 472 848.9 492 850.3 517 850.2 538 847.1 585 841.8 622 834.3 657 829.8 670 826 678 819.9 688 813.1 696 805 703 796 708.8 785.1 714 772 718.5 741 725.4Z"/>
<path fill="#7af17a" d="M702 728.1 L652 728.1 588 723.3 536 715 496.3 705 474.7 697 463 691.6 451.8 685 443.3 678 436.2 670 431.2 661 429.4 653 429.2 643 432.9 628 440.1 612 458.3 585 473.1 567 520.8 515 593.7 442 621 416.1 642 398.8 655.5 389 670 380 686 372.2 701 367.1 718 363.6 731 362.4 745 363 755 364.7 771 369.6 785 375.9 795.3 383 806.6 393 818 406.5 825.3 418 832.1 432 841.1 459 844.5 476 846.5 494 847.8 517 847.6 543 844.2 587 838.5 625 830.8 659 826.9 670 821.3 681 816.1 689 809.9 696 800 704 791.6 709 781 713.8 769 717.9 737 724.8Z"/>
<path fill="#82f082" d="M700 727 L651 727 588 722 535 713.2 496.8 703 476.3 695 465 689.4 454.9 683 446.9 676 440 667.2 436.4 660 434.7 651 434.8 641 438.3 627 446.2 610 461 587.4 475.9 569 505 536 531.4 508 592 446.9 622.3 418 656 391.4 669.1 383 686 374.7 700 369.8 716 366.3 731 364.8 743 365.1 753 366.7 768 371.1 781.6 377 791.4 383 804 394 815.2 407 823 419.1 829.3 432 834 444 839.2 462 842.6 480 844.2 497 845.2 518 845 546 841.4 589 833.9 635 827.3 661 818.4 681 807.7 695 799 702.1 789.5 708 768 716.5 752 720.7 736 723.6Z"/>
<path fill="#8cef8c" d="M697 726 L650 725.9 590 721 546 713.9 506.5 704 476 692 465 685.8 454.4 678 447.4 670 442.5 662 439.9 650 440 642 444.1 625 453.4 606 465.2 588 482.9 566 507.4 538 537 506 593 449.1 623 420.5 654 395.5 669 385.7 684 378.1 696 373.4 712 369.3 729 367.3 743 367.5 752 369 768 373.7 780 379 791 385.7 803.4 397 812.8 408 821.1 421 827.4 434 833 449 836.8 463 840.1 481 842 501 842.3 550 838.5 592 831.4 634 824.7 660 816 680 811.4 687 805 694.3 797 700.9 786 707.7 762 716.7 732 722.9Z"/>
<path fill="#93ef8c" d="M693 725 L643 724.4 589 719.6 544.2 712 507.1 702 491.1 696 478.3 690 466.8 683 458 676 450.8 667 447.3 660 445 649 445.6 639 449.9 623 458.8 605 470 588 488.9 564 540.7 506 592 453.3 625 421.7 645.1 405 661 393.4 674 385.5 689 378.4 702.2 374 717 370.8 734 369.4 748 370.6 760 373.6 772.3 378 786 385.2 794 391.3 805.4 403 813.8 414 821 426.1 828.6 444 833.2 459 836.2 473 838.4 489 839.8 508 839.5 556 836.6 586 833.3 609 826.8 642 818.4 669 810 684.5 798.5 697 788.5 704 780 708.5 756 716.8 726 722.5Z"/>
<path fill="#9af082" d="M688 724 L641 723.1 587.1 718 545 710.6 507.9 700 492.6 694 480 687.6 468.6 680 461.1 673 454.6 664 451.6 656 450.2 648 451.1 637 455.3 622 463.1 606 473.4 590 492 565.7 525.4 527 550 500.1 592.6 456 626 423.8 646 407.1 662.6 395 677 386.5 690 380.5 706 375.3 718 373 735 371.9 749 373.2 772 380.6 785.7 388 793.3 394 804.6 406 812.6 417 819.6 429 826.9 447 831.4 462 834.6 480 836.4 495 837.4 516 837.5 541 836.2 565 834 587 830 613 823.2 645 815.4 669 806 685.5 794.9 697 786.1 703 776.5 708 751 716.5 722 721.7Z"/>
<path fill="#a1f17a" d="M682 723 L637 721.7 582 715.9 537.4 707 503.8 696 492.4 691 480.1 684 471.1 677 463.5 669 459.4 662 456 652 455.6 645 456.6 635 461 621 470 602.7 478.8 589 495.5 567 529.5 527 555.7 498 598.9 453 628.1 425 646 409.9 663.5 397 678 388.6 691 382.6 707 377.4 720 375.2 736 374.3 750 375.9 766 380.8 775 384.7 787 392 793.9 398 805.2 411 815 425.9 821.2 439 826.8 455 830.4 470 833.8 494 835.1 535 832.1 582 825.3 624 818.6 651 811.4 671 801.5 687 795.9 693 788.4 699 771 708.4 746.8 716 717.2 721Z"/>
<path fill="#a8f271" d="M701 721.1 L678 721.9 649 721.2 596 716.4 552.9 709 517.9 699 502.8 693 491 687 480.5 680 471.1 671 465.8 664 461.9 654 461 648 461.5 637 465.3 623 473.2 606 483.7 589 498.5 569 518.8 544 557.6 500 601.3 454 628.2 428 646 412.7 661.6 401 675 392.9 690 385.5 703 380.9 716 378.1 730 376.8 745 377.5 754 379.4 769 384.6 779 389.8 789 396.8 798.8 407 807.1 418 814.7 431 820 443 827.3 467 831.7 500 832.4 541 828.7 588 822.7 623 814.5 655 807 673.4 801.9 682 796.3 689 788.6 696 781.3 701 771 706.4 760 710.7 731 717.8Z"/>
<path fill="#aff368" d="M698 720 L678 720.7 648.9 720 595.4 715 552 707 520 697.4 506.8 692 495.2 686 486 679.7 476.7 671 471 663 467.9 656 466.6 649 466.8 638 470.4 623 478.8 605 490.5 586 509.2 561 534.9 530 568.6 492 608.6 450 629 430.4 646.7 415 661 404.3 674 396.1 690 388.1 703 383.4 717 380.3 735 379.2 746 380.2 755 382.3 769 387.5 780 393.4 789 400.2 798 410 806 421 812.8 433 819 447.9 825.9 473 829.5 505 829.7 543 828.4 566 825.3 594 817.5 634 810.5 658 802 676.6 791.7 690 785 695.8 777.1 701 756.8 710 727.4 717Z"/>
<path fill="#b6f45f" d="M693 719 L675 719.5 644 718.5 594 713.4 554 705.7 522 695.7 508.6 690 497.7 684 488.6 677 480.7 669 475.2 660 473 654 472 646 472.4 636 475.7 623 483 606.4 493.3 589 513 561.8 546.7 521 570.5 494 610 452.1 630.8 432 646.7 418 662.7 406 675 398.2 691 390.2 702 386.2 717 382.7 734 381.7 745 382.6 755 384.9 768 389.9 779.4 396 788 402.7 798 414 804.9 424 810.3 434 816.9 450 823.4 474 827 507 827.6 530 826.6 555 822.6 595 814.6 635 807.5 658 799 676.2 788.2 690 780 696.6 771 702 751.3 710 724 716.1Z"/>
<path fill="#bdf555" d="M688 718 L640 716.9 593 711.8 554.6 704 524 694 511 688.2 500.5 682 491 674.1 485.7 668 481.3 661 478.5 653 477.3 643 478 634 483 617.3 492.6 598 504.2 580 516.7 563 539.1 535 573 495.5 607.8 458 633 433.3 648 420 665.4 407 676.6 400 692 392.4 702 388.7 717 385.2 733 384.2 745 385.2 756 387.9 767 392.3 778 398.3 787 405.4 796.2 416 804 427.6 810.1 440 815.1 453 821.6 479 823.9 499 825 521 823.5 563 818.9 601 811.8 635 804.2 659 795.2 677 784.5 690 776.9 696 768 701.4 748 709.3 721 715.2Z"/>
<path fill="#c4f64d" d="M699 716 L662 716.7 614 713.1 577 707.3 556 702.5 537 696.6 511.2 685 501 678.1 493.6 671 487.5 662 485 656 483.1 644 483.3 636 486.2 623 492 609 499.3 595 513 574 539 540.3 571.3 502 606 463.6 626 443.4 654 418.4 670 406.8 685 398.4 699 392.3 714 388.3 729 386.8 741 387.2 751 389.2 763 393.3 775.6 400 783 405.5 791.3 414 798.6 424 803.9 433 809.7 446 814.5 460 818.2 475 821.9 507 822 546 818.6 585 811.9 623 804 650.9 795.9 670 784.9 686 777.1 693 769.9 698 752 706.2 728 712.5Z"/>
<path fill="#cbf744" d="M695 715 L679 715.6 651 714.9 605 710.6 588.1 708 565 702.9 536.4 694 522.9 688 513 682.4 504.2 676 497.7 669 492.6 661 489.8 653 488.7 644 489.3 633 493 619 501.1 601 511.6 583 525 564 550.8 531 591 483.9 632 441 649 425.6 666 412.4 679 404.2 692 397.9 702.3 394 717 390.4 730 389.3 742 390.1 751 391.9 763 396.2 774 402.4 781.6 408 790.2 417 797.4 427 807.6 448 812.2 462 815.8 477 819.4 510 819.4 547 815.7 586 808.8 624 801.2 650 792.1 671 781.2 686 767.4 697 749 705.3 725 711.5Z"/>
<path fill="#d2f83b" d="M688 714 L648 713.4 601 708.5 565 701 537.8 692 525.2 686 515.5 680 506.7 673 501 666 497.2 659 494.6 649 494.2 640 495.7 629 500 615 507.4 599 518.7 580 532.5 560 555.8 530 594.6 484 618.5 458 636.7 440 652.3 426 668 414 680 406.5 694 399.8 708 395 720 392.5 734 392.1 746 393.5 764 399.7 776 407.1 783.6 414 791 422.6 798.4 434 804.3 447 808.8 460 814.4 486 817 520 816.2 554 813.9 578 810.1 604 803.8 632 794.6 659 786.3 675 774.5 689 759.2 699 738 706.9 718 711.1Z"/>
<path fill="#d9f932" d="M697 712 L680 712.8 653 712.3 614 708.8 581 703 559 697.1 545 692.3 523 681 512.7 673 507.4 667 503.2 660 500.4 651 499.8 643 500.8 632 504.1 619 509.9 604 520.5 585 535.1 563 555.9 535 594 489.1 627 453 657 425.4 670 415.6 682.8 408 697 401.4 712 396.6 723 394.9 739 395.2 749 397 760.1 401 769 406 777.4 412 786 420.9 792.8 430 797.4 438 802 448.7 806.8 463 810 477 813.8 508 814.1 544 810.6 582 805 615.6 797.4 643 787 668 776 683.7 770.6 689 762.1 695 744.4 703 725 708.3Z"/>
<path fill="#e0fa28" d="M690 711 L651 710.8 612.1 707 579 700.6 559.6 695 547 690.3 527.7 680 518.9 673 512.5 666 508.5 659 505.9 651 505.4 643 506.3 632 509.5 619 515.2 604 525.4 585 537 566.8 557.1 539 592.7 495 610 475 632.7 451 661 425.5 675 415.6 690 407.3 705 401.4 717 398.3 732 397.5 742 398.5 752 400.9 761.5 405 770 410.2 779 417.6 786 425.6 793.1 436 802.7 459 809 487.1 811.5 520 810.4 558 805.6 597 799.9 624 790.6 653 781.4 672 771 685 757.5 695 738 703.2 718 707.8Z"/>
<path fill="#e7fb20" d="M696 709.1 L679 709.8 653 709.4 615 705.8 587 700.6 569 695.6 553 690 532.5 679 524.1 672 517.1 664 513.8 658 511.5 650 510.9 643 511.5 633 516.9 613 522 601 530.3 585 543.7 564 565.4 534 595.8 496 613 475.8 634.5 453 661 428.8 675 418.8 688.6 411 701 405.6 714 401.7 726 400.5 738 400.8 750 403.3 758 406.6 767 411.8 775.9 419 783.3 427 789.6 436 793.8 444 799 457 802.5 469 805.9 486 808.7 517 808.1 549 804.4 586 798.6 617 790.4 645 782 665 777.3 673 771.8 680 760 690.6 743 699.4 723 705.2Z"/>
<path fill="#eefc17" d="M689 708 L651 707.7 614 703.9 597 700.9 581.7 697 553 687 545 682.9 534.7 676 527.3 669 521.8 662 519.1 657 517.4 650 516.9 633 522.1 614 529.1 597 537.1 582 550.6 561 567 537.7 587 511.7 612.3 481 633 458.4 647 444.5 662 431.4 673.5 423 688.7 414 702 408.2 714 404.7 728 403.3 739 404 750 406.5 759 410.5 767.6 416 776 423.5 782.6 431 789 441 797.6 462 801.1 476 803.9 493 806.2 524 804.2 564 800.4 593 794.6 620 786.2 648 776.8 668 767 681 754.9 691 738 699.1 717 704.5Z"/>
<path fill="#f5fd0e" d="M693 706 L653 706.1 616 702.4 589.7 697 560.2 687 550 682 539.6 675 528.6 663 525.3 657 523.5 651 522.3 640 522.7 632 526.7 616 535.5 595 544.2 579 559.9 554 580.7 525 598 503 632.4 463 647.2 448 661 435.8 674 426 689 417 702 411.3 712 408.1 726 406.5 737 406.8 748 409.3 755.1 412 764 417.3 772 424 779 431.4 785 440.3 789.6 449 793.4 459 797 471 799.5 484 802.1 503 803.2 520 801.7 558 798.3 587 793 614 783.7 646 775.5 664 765.9 678 753.3 689 738 697 719 702.2Z"/>
<path fill="#fcfe05" d="M678 705 L642 703.6 607.6 699 580.9 692 558 682.6 542.4 672 536.1 665 532.9 660 529.7 651 528.3 644 528.1 636 529.4 627 534 611 541.8 593 565 553.4 601.2 504 626 474.3 643.2 456 666.4 435 680.8 425 692 418.7 707 412.7 715 410.7 729 409.6 739 410.4 750 413.4 757 416.7 766 423 774.5 431 779.1 437 785.6 448 793.3 469 798.6 498 800.2 529 798.1 565 792.5 602 785.8 629 777.1 654 768.2 670 757.7 682 745 691.1 730 697.4 704 703Z"/>
<path fill="#fff700" d="M685 703 L653 702.7 616 698.5 589 692.1 564 682 548.8 672 543.1 666 539.3 660 536 651 534.2 642 535.9 624 539.9 610 546.6 594 559.7 570 574.3 547 608.7 500 628 476.5 644 459.4 667 438.2 681.5 428 693 421.7 707 416.1 715 414 728 412.8 738 413.6 748 416.4 755 419.6 764 425.7 771 432.2 776 438.3 782.4 449 790 469 793.3 483 795.6 498 797 531 795.4 562 790.4 597 783.2 627 774.8 651 767.5 665 757.5 678 745.1 688 732 694.4 720 698 706 700.8Z"/>
<path fill="#ffe700" d="M687 701 L655 701.1 619.4 697 594 691.1 570 681.4 556 672.4 546.5 662 542.8 653 540.7 644 540.3 636 541.1 627 544.1 614 550.2 598 561 576.8 585.3 538 609 505.2 627.4 482 642.7 465 666 442.8 683 430.7 693 425.2 714 417.6 726 416.2 736 416.8 744.7 419 752 422.1 759.6 427 767.8 434 773 440.1 778 448 782.4 457 786.4 468 791.8 492 793.8 517 793.3 551 789 586.5 782.3 618 775.9 639 767.4 659 756.9 674 744 685.4 731.4 692 710 698Z"/>
<path fill="#ffd700" d="M687 699 L657 699.4 622 695.3 598 689.6 574.9 680 567 675.4 560.2 670 555.3 665 551.5 659 549 653 547 644 547.3 627 551 611 557.8 594 579.9 554 611.3 508 629 485.4 645.1 467 667 446.1 683 434.6 695 427.8 715 420.9 725 419.7 734 420.1 742 422 752 426.4 766 437.6 775.1 450 783.5 470 788.6 493 790.7 517 790.3 549 786.5 582 780.4 612 773.1 637 764 658 755 671.1 742.2 683 729 690.2 709.1 696Z"/>
<path fill="#ffc700" d="M685 697.1 L657 697.4 622 693 598.9 687 577.2 677 569.5 672 564.2 667 559 660.2 555.6 653 553.7 647 552.8 639 554.4 622 558.3 608 563 596 573.6 574 584.5 555 616 508 629 491 647.7 469 667.5 450 683 438.6 696 430.9 716 424.3 725 423.3 733 423.7 742 426.3 750 429.9 756 434 764 441.2 768.1 446 773 454 780.8 473 785.4 495 787.4 518 787.1 547 783.2 582 778 607.6 769.8 636 761 656 752.3 669 739.6 681 726 688.6 706 694.4Z"/>
<path fill="#ffb700" d="M682 695 L657 695.2 635 692.9 622 690.5 599.7 684 582 675 571 666.5 562.6 654 559.4 640 560.8 621 568.3 598 578.3 576 590.6 554 618 511.8 633.8 491 649 473 668 454 682.5 443 696 434.8 704 431.4 717 427.9 724 427.1 732 427.6 740.4 430 748 433.6 754.3 438 763 446 771.3 459 778 476.1 782.8 502 784.1 526 783 556 779.3 585 773 613 766.2 635 757.8 654 748.1 668 736.6 679 723 686.7 704 692.3Z"/>
<path fill="#ffa700" d="M678 693 L659.8 693 632 689.8 611.6 685 599.2 680 591.9 676 577.4 665 570.4 655 567.5 647 566.3 638 567.3 622 573 602.2 583.5 578 592 561 621 514.6 650 477.4 664 462.6 673.7 454 683 447 696 438.9 704 435.5 716 432.2 724 431.4 732 432.1 741 434.8 747 438 760.5 450 768.2 462 775 480 779.3 504 780.6 530 778.8 563 775 589.3 769 614.1 760.1 640 752.7 655 741.3 670 730.5 679 717 685.7 698 690.9Z"/>
<path fill="#ff9700" d="M684 690.1 L663 690.7 636 687.7 616 682.9 598.5 675 586.5 666 578.6 656 573.7 641 573 631 573.7 624 576.7 610 581.4 597 600 557 621.2 522 634.5 503 649 484.4 661 471.1 674 458.7 692 445.7 701 441 711 437.9 722 436.1 730 436.5 739 438.9 744 441.3 755.2 451 763.8 463 770.6 480 774.8 500 776.8 527 775.7 557 772.2 584 765.3 613 758 634.5 750.7 650 739.6 666 729 675.4 716 682.4 702.4 687Z"/>
<path fill="#ff8700" d="M672 688 L650 686.7 625 681.9 608 675.3 598.3 669 588.5 659 582.9 647 580.5 632 582.5 614 593.6 583 601 566.7 612.5 545 634 511 644.9 496 658.1 480 677.6 461 698.7 447 707 443.7 718 441.4 725 440.9 732 442 743 446.3 749 450.9 753.5 456 762 469.4 765.9 479 768.3 488 772.2 515 772.8 543 770.8 567 765.8 596 759 620.2 753.5 634 743.7 653 733 666.8 722.2 675 707 682.2 692 686Z"/>
<path fill="#ff7800" d="M682 684.1 L663 684.7 640 681.7 620.2 676 605.8 668 600.5 663 595.3 656 590 644 588.3 630 590 614 593 602.5 601.8 579 621.2 540 643 506.1 660 484.2 679 465.5 699 452.2 707 448.8 716 446.9 723 446.3 731 447.3 736 448.7 742 452 750.6 460 759 474 764.9 492 768.2 516 768.8 540 767.6 560 762.6 591 756.9 612 751.6 627 742.7 646 733.7 659 726 667 712 676 698 681Z"/>
<path fill="#ff6800" d="M675 681 L655 680.3 638 677 622 671.4 611.1 664 604.2 656 599 645 597.2 639 596.3 625 598.6 610 607.2 583 622 550.7 642 516.3 662 489 680 471 699 457.9 708.3 454 716 452.4 723 452.1 731 453.6 742 459 749 466.6 757.1 482 762 500.5 764.3 520 764.5 543 761.4 572 756.5 597 749.8 619 742.5 636 734.3 650 725 661 715 669.3 705 674.6 692 678.4Z"/>
<path fill="#ff5800" d="M672 677 L655 675.9 638.5 672 626 666.7 615.1 658 608.5 647 605.4 635 605 619 608.4 602 617.7 575 632.4 544 648 516.7 664 494.8 679.8 478 695 466.4 703 462.1 711 459.5 719 458.1 726 458.8 732 461 739 465.1 745 470.8 753.7 488 757.5 503 759.7 521 759.8 546 756.5 574 751 599.4 745.6 616 736.9 635 729.6 647 721 657.3 712 665.2 703.9 670 690 674.3Z"/>
<path fill="#ff4800" d="M669 672 L655 670.4 638 665 628.2 659 621 651 615.8 640 613.7 630 614.7 613 618.2 595 624.5 577 639.2 544 655.4 516 669.5 497 685 481.1 700 470.5 707.9 467 715 465.3 726 466.3 736 472 743 479.8 749.8 494 753.1 508 755 530 754.3 552 751.9 571 747 593.6 741.5 611 732 631.9 725 643.3 715.9 654 706.2 662 696.2 667 681 670.9Z"/>
<path fill="#ff3800" d="M678 665 L663 664.8 651 661.4 640 655.9 630.8 647 626.7 639 623.9 624 624.2 614 627.4 594 635.2 570 649.4 539 659.1 522 672.4 503 687.6 487 701 477.7 711 474.2 723 474.3 730.7 478 738 485.5 744 497 747.4 509 749.2 526 748.8 547 747.4 562 743.7 582 734.1 612 726 629.4 719.2 640 710.5 650 699.2 658 690 662.2Z"/>
<path fill="#ff2800" d="M677 657.1 L672 657.4 664 656.1 655 652.5 643.7 645 639 637.7 636.1 629 635 616 636.2 602 640.7 580 648 559 656.2 542 666.5 524 679 506.5 689 496.2 701 487.9 711 484.1 720 484.2 728 488.1 732 492.3 737.9 503 741.2 516 742.6 530 742.1 546 740.3 564 737.4 579 732.7 596 724.1 617 712.5 636 706 642.9 697 649.7 688.2 654Z"/>
<path fill="#ff1800" d="M679 644 L670 643.5 663 641.5 657 637.4 652 630.5 648.6 619 647.8 611 650.1 588 655.8 567 661.1 552 667.8 538 679 519.9 686 511.5 699.3 500 706 497 713 496.7 721 499.9 727 505.6 731 514.3 733.8 525 734.8 538 734.2 551 729 580 725.7 591 719 607.5 708 626 703 631.6 698 635.5 685 642.6Z"/>
<path fill="#ff0800" d="M685 624.1 L680 624.7 676.7 624 669.7 620 666.3 615 663.5 607 662.4 598 665.1 579 672.2 556 678.9 541 685.9 530 692 522.7 697 518.9 703 515.8 710 515.7 713.8 518 718.8 523 722.5 532 723.9 547 721.5 566 714.4 590 709.1 601 698 615.4 692 620.4Z"/>
</g></g></g>
<path d="M691 791.7 L689.6 791.1 687.1 790.7 685.2 791 683.5 790.4 681.9 790.8 679.7 791.3 677 791.6 675.3 791.4 673.1 791.7 670.6 790.9 669 790.7 666.2 790.8 664.3 790.6 662.2 791.1 661.1 791.2 658.9 791.4 657.2 791.3 655.4 791.7 653 791.2 651.1 791.2 649.6 790.8 646.9 790.6 644.1 791.2 642.8 791 641.8 791.4 639.6 791.5 637.6 790.6 635.5 791.1 632.3 791.4 630.5 791.6 628.7 791.3 627.1 790.7 625.4 790.8 623.4 790.8 622.4 791.2 620.2 791.4 618.5 791.8 615.6 791.6 613.9 790.8 611.6 791.1 609.2 791 608.3 789.7 606.2 789.2 604 790.5 603 789.6 601.1 789.9 599.6 790.2 597 789.9 594.8 789.5 592.7 789.6 591 789.4 589 788.6 586.7 789.3 585.8 788.5 584.6 788.6 583.3 788.7 580.3 787.7 578.5 789.1 575.9 788.3 575.1 787.4 573 787.4 571 788 569.1 788 566.8 787.5 564.8 786.4 563.9 786.2 562.4 786.8 560.7 787 558.8 786.4 555.9 785.7 554.4 785.3 552.6 785.5 551 785.4 548.2 785.2 546.7 785.6 546 785 543.8 785.6 542.2 786 541.1 784.5 538.7 784.3 536.5 784.4 535.2 784.1 532.4 783.6 530.3 783.4 528.6 783.5 528 783.3 526.3 782.9 523.9 782.6 521.7 782.5 519.9 782.6 517.4 782.5 516.3 781.8 514.7 781.3 513.1 781.1 510.6 780.7 509.7 780.8 507.8 780.8 505 781.3 502.9 780.9 501.9 779.4 501.3 780 499.3 779.9 497.5 779.4 495.5 779 494.4 778.4 492.5 778.1 489.7 778.3 489.2 778.5 487.2 778.3 484.7 777.5 482.9 776 482.1 775.9 479.7 775.7 477.1 775.4 476.8 776.5 475.2 776.5 472.9 774.6 471.7 774.8 469.8 774.9 468.2 773.9 466.5 773.7 464.6 773.3 463.6 773.7 462 773.4 460.3 772.8 459.4 772 457.6 772.5 455.5 771.4 454.4 771.4 452.3 770.7 450.8 769.5 449.6 769.7 446.6 770 444.9 768.8 444.4 768.3 441.3 767.8 440.7 768.1 439.1 767.5 437.9 766.9 436.6 766.6 434.5 766.3 432.6 765.5 431.5 765.2 430.2 765.1 427.7 764.5 426.5 764.2 424.1 764.1 422.9 762.6 421.8 762 420 761.4 419.2 763.1 416.5 762.2 415.6 761.1 413.1 759.9 412.4 759.7 411.9 759.2 409.6 760.2 407.7 758.9 405.9 757.8 405.4 757.7 403 757.1 403 757.3 399.5 756.2 398 755.9 397 756 396.4 755.4 394.7 754.2 393.2 754 392.2 753.1 390.7 752.2 389.3 751.5 386.9 750.5 384.6 750.8 384.3 750.1 383.6 749.4 382.4 747.8 380 747.7 379.7 748.5 378.8 746.9 375.3 746.2 374.5 746.2 373.7 745.3 371.3 744.4 370.5 743.9 369.7 743 368.3 742.2 367.4 742 365.2 740.8 364.7 740.2 363.9 740.1 361 738.8 359.9 738.4 359.3 737.4 357.2 736.7 356.6 735 355.6 734.7 354.3 734.4 353.2 734.6 351.7 733.6 350.3 731.8 349.3 731 347.8 730.5 346.7 730.3 345.5 728.9 344.7 728.3 343.9 727.8 342.2 726.6 340.8 726.3 339.4 724.5 338.1 723 337.1 722.4 335.5 722.3 334.7 721.1 334.2 721.6 331.9 721.3 330.4 719.2 329.8 717.4 329.6 717.3 328 716.6 326.1 715.5 326.1 713.9 325 713.4 324.4 713.4 323 711.8 322.1 710.6 320.8 710.4 320.5 709.4 319.1 708.3 317 707.1 316.1 707 316.1 705.3 315.1 702.4 314.3 702.5 312.8 701.7 312.3 699.4 312 699.3 310.9 698.3 310.4 696.3 309.3 695.1 308.1 694.7 307.5 691.4 307.4 690.1 307.1 689.2 306.6 687.6 305.7 686.6 304.7 686.4 304 684.4 303 683.4 303 681.7 302.7 679.5 301.6 678.2 301.1 676.9 300.5 676.4 300.2 674.6 300.2 672.9 299.2 671.4 298.7 670.5 298 668.8 297.8 666.3 297.5 664.2 298.6 662.6 299.1 659.5 298.2 657.4 297.7 656.4 298.3 654.2 299 651.6 298.7 649.6 299.2 649 299.9 647.6 299.3 645 299.8 643.1 300.1 642.2 301.2 640.7 301.4 639.1 302.2 636.8 302.4 636.5 302.7 634 303.1 633.1 304.1 631.2 304.7 629.3 304.7 628 304.9 626.4 305.2 625.2 306.3 623.3 307.1 623.5 307.6 622 308.1 619.8 308.7 617.3 309.5 616.2 310.8 615.4 310.1 614.5 311.5 612.8 312.8 610.7 313.3 608.8 313.9 607.8 313.2 607.8 315.4 606.6 316.9 605.1 316.8 604.3 318.1 602.6 318.7 601.9 318.5 601.2 320.3 598.9 321.6 597.8 321.3 597.6 322.1 595.8 323.6 594.7 324.2 592.7 323.7 592.2 324.2 591.2 325.3 589.5 326.2 588.9 327.2 587.3 328.4 586.5 328.7 585.3 329.8 584.2 331.2 582.9 332.2 581.6 333.3 580.5 333.8 579.4 335 579.2 335.7 577.7 337.2 575.1 336.9 574 337.6 574.8 339.2 573.9 340 570.7 339.9 570.2 341.6 568.8 343.5 567 344.7 567.3 344.7 565.8 345.9 564.2 347.3 563.2 348.2 562.8 348.7 561.6 349.8 559.9 350.7 559.4 352.1 558.3 353.8 557.6 353.7 557.6 355.3 556.2 355.7 555 356.2 553.9 358.3 553.1 359.2 552.2 359.7 551.5 361 550 361.8 550 362.7 548.5 364.5 547 364.4 546.3 364.8 544.9 366.5 543.8 367.3 542.7 368.1 542.4 369.1 541 371.2 539.6 372.5 539.5 372.6 537.7 373.4 537 374.8 536.2 376 535.7 376.1 535 377.1 533.1 378.2 532.7 379.7 530.6 380.6 529.5 381.3 528.7 381.7 528.3 382.7 527 384 525.6 385.7 525 386.4 523.7 387.2 523.2 388.5 522.3 389.4 520.9 390.5 519.1 392.3 518.2 392.6 518.4 393.5 517.3 394.4 515.3 395.6 515.2 396.4 514.9 397.2 513 399 511.8 400.4 510.7 400.7 509.2 401.2 508.4 402.1 508.3 403.4 506.7 406 505.9 406 506.2 407.2 504.7 407.6 503.3 409.3 502.6 410.1 501.9 411.7 500.4 412.6 499 414.5 499.5 415.6 498.4 416.3 496 417.2 494.9 417.5 494.4 418.5 494.3 420.2 493.6 420.7 492.9 421.7 492.3 422.6 489.7 423.6 490.2 425.1 489.4 426.6 488.2 427.7 486.9 428.6 486 429.3 484.5 430.6 484.2 432.2 483.4 433.4 483.3 434.2 482.2 436 480.6 436.6 480 437.8 479 438.6 477.9 438.5 477.5 439.8 475.5 441.3 473.8 442.1 473.6 443.1 473.5 444.1 472.4 445.9 471.8 447.6 470.7 448.3 469.4 449.5 468.2 450.5 467.5 451.2 466.7 453 465.6 453.7 465 454.6 464.3 455.7 463.6 455.9 462.2 456.6 461.1 457.8 459.6 459.5 459.4 461.2 458.5 462.8 456.8 462.4 455.9 463.4 455.9 465.9 454.2 467.6 454.1 468 453.3 469.3 452.1 469.4 451.1 469.6 450.3 471.1 449.3 472.8 447.6 474.4 446.3 475.6 445 476.4 444.3 477.1 443.6 477 442.6 478.5 442.4 479.4 440.7 480.3 440 481.5 439.3 483.3 439.1 484.5 437.7 485.2 436.7 485.4 436.4 486.9 435 489 434.2 490.1 433.7 491 431.7 491.6 431.2 492.2 430.3 493.8 429.7 495.5 428.8 496.1 427.6 497.2 426.1 498.8 425.3 499 424.9 499.7 423.8 500.3 422.4 501.2 420.9 501.9 421.2 503.5 420.1 505.5 418.5 506.5 417 507.2 416.2 508.3 415.7 508.5 414 509.2 413.7 511 413.1 511.2 410.6 512.3 410 513.6 409.8 514.8 408.3 515.6 407.5 516.8 406.7 519.1 405.6 519.6 404.3 519.9 403.8 521.2 402.9 522.3 401.8 522.2 399.4 524.6 399.5 525.5 398.2 525.4 398 525.4 397 527.8 395.8 529.5 394.8 531.3 393.3 530.9 392.7 532.3 391.8 533.8 390.4 533.7 390.1 535.4 389.6 536.2 387.3 536.4 386 538 385.5 538.5 384.5 539.7 383.4 541 382.2 542.3 381.3 543.2 380 544.2 379 544.1 378.4 545.4 377.6 546.9 376.2 548 375 548.7 373.2 550.4 371.9 550.8 371.9 551.5 371.4 552.7 370.7 553.5 370.6 553.7 368.8 554.6 366.8 556 366.4 556.7 364.8 558.2 363.8 560.1 363.2 560.6 361.6 561.2 360.2 561.4 359.2 562.6 358 563.8 357.8 565.2 356.8 565.8 354.7 566.5 353.9 567.5 353 569 352.1 569.4 350.9 570 350 570.7 349 572.4 348 572.9 346.7 573.9 346.1 575.4 344.9 575.6 344.3 576.8 343.1 578.2 341.1 578.9 340.3 580.4 339.4 579.8 338.1 581.4 337.5 583.2 337.4 584.5 336.2 585.3 333.7 586 333 586.3 332.4 587.4 330.9 588.3 329.8 589.3 328.7 590.5 327 591.2 325.8 591.9 325.9 593 325.1 594.2 324.7 594.6 323.8 595.1 322 596.8 320.5 598.3 320.1 598.6 319.1 599.7 317.1 601 316.2 602.8 315.4 604.3 314.6 605.5 314.1 605.9 313.5 606.7 312.8 608.3 311.2 608.2 308.7 609 308.7 610.8 308.2 611.9 306.7 612.8 306.2 613.1 305.7 613.9 304.5 615.4 303.3 616.4 302 617.7 300.8 620.1 300.2 620.3 299.3 620.4 297.4 621.6 297.4 622.2 297 623.2 296 625.2 295.2 626.8 293.8 628.3 292.6 629.4 292.3 629.9 291 631.2 289.9 631.7 289.2 633.6 288.7 634.1 288.3 636.4 288.3 637.2 287.1 638.1 286.4 639.5 284.7 641.1 284 641.6 283.1 642.8 282.3 644.3 282 645.4 281 645.7 280.2 648 280 649.3 278.6 650.6 278.2 651.5 277.6 652.3 276.4 653.4 275.2 654.7 274.4 655.1 273.5 657.5 272.8 658.9 272.4 660.2 272.1 660.8 271.2 662.3 269.6 663.2 269 664.2 269.7 666.2 268.4 667.8 268 668.5 267.1 670.1 265.9 671.8 265.8 672.3 265.1 675.3 263.8 676.3 263 675.9 262.7 678.9 261.9 679.4 261.7 681.1 261.5 683.4 260.5 684.4 259.1 686.6 259 687.7 259.5 689.1 258.5 689.6 257 691.7 257 692.8 257.3 694.8 256.9 696.4 255.3 698.2 255.5 700 254.9 700.8 254.5 702.7 253 704.2 252.5 706 252.5 707 251.9 709.6 252 710.6 252.4 711.8 249.9 713 250.6 715.6 250.2 716.2 249.8 717.1 249 718.4 249.6 720.6 249.7 722.9 247.7 725 247.1 726.8 248 727.5 246.8 729.4 246.4 730.7 245.6 731.5 246.1 733.8 246 736.7 245.9 738.5 245.9 738.6 245.6 740.8 244.6 742.4 243.2 743.2 243.4 745.2 242.9 746.8 243.1 748.7 242.8 751.5 242.2 753.6 241.6 755.3 241.8 756.2 241.8 757.6 241.6 759.5 242.1 762.3 241.1 764.5 240.7 766.2 240.7 766.4 241.3 768.9 240.5 770.2 240.2 772 240.3 775 241.2 777 241.6 779.5 240.9 780.5 241.1 782.9 242.1 785.8 241.7 788.1 240.5 789.5 240.5 791.8 241.1 791.1 241.8 792.9 241.8 795.6 241.6 798.2 241.5 799.7 242.2 802 242 804.4 241.5 807 241.8 808.6 242.1 809.7 241.5 810.9 241.9 813.7 242.4 814.8 242.5 817.1 242.9 819.4 242.2 821.6 242.3 822.5 242.2 824.5 242.7 826.7 244.4 827.9 243.9 828.8 243.7 831.1 244.6 833.2 245.2 834.3 245.6 836.9 245.7 838.4 245.1 838.5 245.5 840.2 246.5 843.2 246.7 844 246.7 846 247 848.2 247.9 849.3 248.6 851.1 249 852.8 249 854.8 249.5 856 249.7 856.5 250 858.5 250.4 860.9 250.8 862.8 251.6 864.3 251.8 865.3 253.5 867 254.1 868.3 254.1 868.9 253.8 870.9 254.7 872.4 255.1 873.7 255.3 875.2 255.3 876.7 255.2 878.5 256.1 879.3 257 881.5 257.6 882.9 257.6 885 258.5 886.3 259.2 888 259.8 889.8 259.9 891.5 261 892 260.8 893.9 261.8 895.2 262.7 896 262.6 898.1 262.9 899 263.3 900.1 265 901.8 265.7 903.1 266.1 904.2 266.7 906.6 268.1 907.5 268 908.4 268.1 910.3 269.2 912 269.5 913 271.1 912.8 272 915.2 273.3 915.5 273.5 916 273.4 918 275.6 919.9 276.1 920.8 276.6 922.3 276.7 924.6 277.2 925.2 278.7 926.7 279.3 927.5 280.5 929.1 281.8 930.6 282.1 931.5 282.8 932.2 283.9 932.8 283.9 935.2 284.8 936 285.8 937.3 286.2 938.6 286.9 939.3 287.9 941.1 288.4 942 290 942.3 290.1 943.9 291.2 945 292.5 945.5 294.7 946.3 294.7 947.1 294.8 949.3 295.9 950.6 296.7 952.1 297.9 952 299.3 952.7 300.4 954.1 301.2 955.2 301.6 955.5 303.2 956.8 304.3 958.1 304.1 958.7 306.1 959.9 307.1 960.9 307.6 962.4 308.7 963.8 309.5 964.7 310.4 966 311.4 967.8 312.4 968.4 313.1 969.5 313.8 969.4 314.7 970.9 315.6 972.7 317.1 972.6 318.4 974.4 319.2 974.8 320.8 976.2 322.5 977 323.3 977.8 324.5 979.5 325.2 980.4 325.8 980.7 326.4 980.7 328 981.4 329.7 982.5 330.9 983.6 331.8 984.4 333.4 986.4 333.7 986.8 335.2 986.5 337 986.8 338 988.5 338 989.3 340 989.6 342.1 990.7 342.9 992.2 343.3 992.9 344.5 992.7 345.8 993.5 347.5 994.2 348.8 995.2 350.6 995.8 351.8 995.9 352.4 997.5 354 998.3 354.1 998.3 356.1 999.7 357.2 1001.3 358.4 1001.3 359.2 1002.3 361.6 1002.7 363.5 1003.6 365 1003.1 365.7 1004.4 366.3 1005.4 367.7 1006.3 369.7 1006.7 370.5 1007.3 372.4 1007.5 373.3 1008.6 375.2 1009.5 376.9 1009.1 378.5 1010.1 379.9 1010.4 380.8 1010.8 382.5 1011.8 384 1012.1 385.2 1012 386.6 1013.2 388.8 1013.9 389.9 1013.7 390.7 1013.4 391.6 1014.3 394.8 1015.6 396 1015.4 399 1015.8 399.7 1016.4 400.3 1017.2 402.8 1018.1 404.5 1018.4 406.8 1018 407.5 1018.1 408.3 1018.4 410.5 1019.1 412.9 1018.2 414.2 1019.4 415.1 1019.4 417.5 1018.8 419.7 1019.4 421.2 1020 423.8 1019.4 426.1 1020.2 427 1020.6 429.2 1020.3 431.6 1020.5 432.7 1020.9 435.1 1021.1 436.9 1021.1 439.5 1021 441.8 1021.5 443.2 1021.5 444.8 1021.6 446.9 1021 447.9 1020.8 449.8 1021.2 450.5 1020.7 452.9 1020.9 455.1 1022.2 457.5 1021.4 459.6 1021.4 461.3 1020.2 463.1 1020.2 466 1019.6 468.2 1019.7 469.8 1019.9 471.3 1020.4 472.1 1020.6 474 1019.7 475.9 1019.1 477.9 1019.8 479.4 1018.6 481.7 1019.3 483.5 1019.7 485.8 1018.4 487.4 1016.7 488.8 1017.6 489.2 1016.7 491.1 1016.8 494.3 1018.3 496 1016.6 496.3 1016 499 1015.3 500.4 1015.1 501.9 1015.1 504.3 1015.5 505.3 1015.2 508 1013.8 509 1013.9 510.7 1013.6 513 1012.9 514.6 1012.5 515.6 1012.5 517.4 1012.8 519.6 1011.9 520.7 1010.6 522.7 1011.9 524.5 1011.7 525.2 1010.9 526.9 1010.6 528.6 1009.8 530.1 1009.3 531.3 1010 533.2 1008.4 535.6 1007.9 537.4 1008.4 537.7 1006.5 539.8 1006.7 542.5 1006.8 543.2 1006.7 544.9 1006.4 547.1 1005.6 549.5 1005.2 550.5 1005.1 551.8 1005.3 554.2 1005.6 555.6 1004.6 557.6 1003.4 559.3 1004 560.4 1003.4 561.5 1004 563.5 1002.8 565.4 1002.7 567.3 1002.8 569.9 1002.6 571.6 1002.7 573 1002.4 574.2 1001.7 576.3 1001.2 578.2 1001 580 1000.9 582.5 1001.1 584.3 1001.8 584 1000.7 585.1 1000.3 588.6 1000.6 591.3 999.9 593.9 1000 594.5 999.4 596.2 999.2 597.9 999.5 600 999 602.6 998.5 603.8 999 605.8 999.1 606.9 998.9 608.7 998 611.2 997.8 613.1 998.7 615 1000.1 616.4 998.9 618.7 999 620.9 998.3 623.5 997.9 625.2 998.9 626.7 998.8 629.1 998.6 631.3 998.3 633 998.1 634.3 999.4 636.9 999.7 638.7 999.1 640.7 998.2 643.2 998.2 645 997.9 647.4 998.7 649.4 998.4 650.8 998.9 652.8 998.9 655 998 657.7 997.2 659.5 997.9 660.3 998.5 662.9 998.4 664.7 998.5 667.3 998.5 670 998.7 671.8 999 672.9 998.2 675.1 998.1 677.8 998.6 678.4 998.3 679.9 997.7 681.7 998 683.7 997.5 686 996.9 687.9 995.9 689.4 996.1 691.2 996.4 692.2 997.2 693.7 996.2 695.3 995.4 697.8 994.7 699.3 994.6 701 993.7 702.6 993.1 704.3 993.9 705.1 992.5 706.8 991.1 708.3 990.7 708.8 990 710.1 989.2 712.1 988.7 713.3 988.1 714 987 715.5 985.1 716.8 986.1 716.9 985.5 717.6 983.6 720.4 983 721 981.2 721.2 980.7 722.5 980.1 724.1 979.2 725.4 978.2 725.7 977.7 725.8 976.9 727.6 975.2 729 973.8 730.1 972.8 730.6 972.2 731.5 971.6 732.8 969.6 734.2 968.8 734.7 967.4 736.5 965.6 737 964.9 737.1 962.9 737.6 962.6 739.3 962.4 740.4 960.1 741.4 959.3 741.8 958.7 742.2 957.3 743.2 955 744.8 953.4 745.3 952.6 745.9 952.1 746.5 951.6 747.2 949.2 746.8 947.8 747.7 946.6 748.6 945.1 750.3 945 751.3 943.1 751.4 940.2 752.4 939.9 752.3 938.8 752.8 936.7 754.4 937.3 755 935.5 755.3 933.1 756.6 931.6 756.7 929.9 757.2 929 757.6 926.4 758 926.4 757.8 924 759.4 923.1 760.1 920.1 760.3 918.9 759.7 917.9 761.2 916.4 761.1 914.4 761.6 913.3 763.2 912 763.1 910.9 764 909.9 764 908.5 764.5 905.6 764.6 905.1 764.6 903.1 764.8 900.9 766 899.5 765.9 897.5 767.4 897 767.3 895.1 767.8 894.1 767.3 892.2 768.1 890.7 768.3 889.7 768.7 886.5 770.2 885.3 770.5 883.8 771.1 882.8 771.8 881.6 770.9 878.4 771.6 877.2 772.4 875.9 772.1 873.7 772.1 872.4 772.9 871.1 774.2 868.9 774 868.5 774.5 866.5 773.7 863.7 774.5 862.5 776.2 860.9 776.2 858.7 775.6 857.4 775.7 855.7 776.6 854.1 777.5 852.4 777.4 850.8 778.2 849 778.2 846.6 778.3 846 778 843.9 778.3 842.2 778.3 841.2 778.6 840.1 779.8 837.3 779.6 836 780 834.7 779.9 832.1 780.6 830.3 780.5 828.7 780.9 826.8 781.7 824.7 782 822.7 782 820.1 782.1 818.8 782.2 816.5 782.2 815.7 782.7 814.7 782.3 813 783.4 810.8 783.1 808.5 783.1 807 782.4 805.3 783.1 802.7 784.3 801.6 784.8 800.2 784.4 798.7 784.9 796 784.2 793.6 784.9 792.8 786 791.1 785.7 789.2 785 787 785 783.9 784.8 783.3 785.4 782.1 785.4 779.7 786.5 777.9 786.6 776.7 786.7 775 787.5 772.1 787.7 770.1 787.1 768.4 787.4 766.9 787.8 765.1 788.5 763.8 788.6 761.7 788 759.7 788.2 757.8 788.7 755.2 789.8 753 789.1 752.2 788 750 787.6 747.2 787.6 746.7 788.7 744.9 789.8 743.6 789.5 741.2 789.2 738.7 790 737 789.6 734.9 789.7 732.8 789.9 730.9 790.4 729.5 789.5 727.2 789.9 724.8 790.5 723.1 790.4 721.6 790.3 720.2 789.5 717.7 789.4 716.6 790.2 714.6 790.5 711.8 790.1 710.3 790.1 708.9 790.5 706.4 790.5 704 790.6 702.7 791.8 699.8 791.5 698.1 790.6 695.9 790.5 692.7 791.2 691.4 791.1 691 791.1Z" fill="none" stroke="#000" stroke-width="2.8" stroke-linejoin="round"/>
<path transform="translate(0,1083)" d="M139 614.7 L140.6 613.9 141.1 612.5 142.2 611.8 143.5 610.1 145 609.5 145.9 608.9 146.4 608.2 147.9 607 148.8 606.3 149.4 604.5 151 603.4 151.2 602.7 152.3 601.6 153.2 601.2 155.1 600.4 155.9 599.7 157.2 598.7 158.4 598.3 159 596.9 160.3 595.9 161.9 594.5 162.5 593.3 162.8 592.9 164.7 591.7 166.8 591.3 167.6 590.6 168.6 588.9 169.5 588.6 169.3 588.1 170.5 587.4 172.1 586.2 173.8 584.6 175.4 583.8 176.4 583 177.6 582.6 178.2 582 179.5 581.7 179.6 580.7 180.9 579.2 181.9 578.6 182.7 577.5 185.1 575.4 186.2 574.1 187 574.6 189 573 189.2 572.6 190.6 572.3 191.3 571.2 192.3 570 193.4 569.1 195 568 196 566.6 196.7 566.7 197.8 565.3 199.6 564.8 201.5 564.2 201.9 562.4 203.5 562.8 203.9 561.5 205.1 560 206 559.4 207.1 559.4 208.5 558.7 209.6 557.4 209.9 555.6 211.9 554.8 213.4 554.8 214.7 554.5 216.2 553.1 216.7 551.6 217.6 550.5 218.6 550.1 220 549.5 220.2 548.9 222.1 548.5 224.2 547 224.8 547 226.2 546.9 228.1 544.9 228.9 544 230 543.4 231.2 542.3 231.4 541.4 232.3 540.7 233.6 540.3 235.7 539.3 237.2 538.1 237.9 537.2 238.7 536.7 239.9 536.2 240.7 535.5 242.2 533.9 243.7 532.8 245.1 532.2 245.6 531.4 247.7 530.8 248.7 530 249 530.1 249.9 529.3 252 527.4 253.9 527.1 255.3 526.5 256.5 525.6 257.4 524.8 258.6 523.5 260.3 522.6 260.7 522.2 262.5 522 263.2 521.4 263.9 520.1 265.6 517.9 267.1 517.1 267.7 516.5 268.1 516 270.2 516.5 271.8 515.9 272.9 513.5 274 513.3 274.8 513.1 276.5 511.7 277.4 510.7 278.6 510.1 280.4 510.3 281 509.7 282.9 508.5 284.7 507 285.6 507.3 286.5 506 287.7 505.4 289.1 504 290.8 502.6 291.6 502.3 291.6 502.6 293.4 500.7 295.4 499.6 295.3 499 296.7 498.8 298.2 498.2 299.8 496.9 301.6 496.1 302.4 495.7 302.6 494.5 304.6 494 305.9 493.2 306.7 492.3 307.6 491.6 308.1 491.4 309.6 489.6 311.5 488.5 313 487.6 314.2 488.9 314.5 487.8 315.9 486.2 316.9 484.5 318.8 483.9 320.9 483.2 321.5 484.1 322.1 482.3 323.7 480.8 325.4 480.4 325.8 479.8 328.1 479.6 327.9 478.2 329 477.3 330.7 477.4 332.4 476.6 333.5 475.2 335 474.6 336.3 473.3 337.7 472.6 338.3 471.6 339.1 470.5 339.5 470.3 341.6 469.4 343.6 468.8 344.4 466.9 345.4 466.7 347.7 467 349 465.2 348.3 464.7 349.6 464.6 351.5 463.3 352.3 462.3 353.5 461.7 355.1 460.8 356.4 460 358.1 459.2 358.9 457.9 360.7 457.3 361.9 456.9 362.1 455.7 363.5 454.9 365.3 453.5 365.9 453 367.6 451.5 368.6 451.2 369.8 450.7 371.2 450.6 372.2 449.9 373.3 448.4 374.3 447.7 375.2 446.9 376.7 446.3 377.9 445.2 379.7 444.9 380.9 444.4 381.6 442.9 382.7 442.3 384 440.7 385 439.5 386.1 439 386.7 438.8 388.4 437.3 390.3 437.8 390.5 437.8 391.3 436 393 434.2 395.2 433.9 396 433.1 396.1 432.2 398.1 430.8 399 430.7 400.8 430.7 401.9 429 403.1 427.9 404 427.9 405.7 427.2 406.4 426.3 406.6 425.1 407.9 425.1 410.1 423.8 411.1 421.3 412.3 421.8 412.8 421.6 414.4 419.4 416.1 419.3 417.2 418.3 418.4 416.4 419.2 416.5 419.5 416.3 420.5 414.1 421.9 413.1 423.5 412.2 425.3 411.4 426.4 410.6 426.9 410.7 428 409.7 428.5 409.3 430.1 408.1 431.7 406.5 432.3 405.4 433.9 405 434.7 404.7 436.2 403.8 437.7 402.7 438.3 402.2 439.4 401.5 440.1 400.8 441.4 399.3 442.2 398.5 444.3 398.2 445.7 396.3 445.9 395.4 446.8 395.4 448.6 394.2 450.3 392.6 450.7 391.6 452 391.4 453.4 391.3 453.5 389.9 454.9 388.3 456.2 388.2 458 387.7 459.1 386.1 460.5 384.9 461.4 384.8 461.9 383.5 462.9 382.8 464.2 382.1 465.5 380.3 466 379.7 466.9 378.4 467.9 377.3 469.5 376.3 471.1 376.6 472 376.2 473.1 374.1 473.9 372.7 475.3 371.8 476.8 371.7 476.4 371.3 478.2 369.7 479.8 368 480.5 366.8 481.6 365.8 481.4 365.8 484 364.8 485.6 363.9 485.9 363.3 487.7 361.6 488.6 361 488.5 361 490.6 359.3 492.2 358.2 492.3 358.2 493.1 357.1 494.7 356.3 495.8 354.4 495.5 354 496.2 353.3 497.4 351.9 498.4 351.7 499.6 350.3 501.3 349.5 502.1 348.3 503.5 347.2 505.2 346 506.2 344.9 507.3 344.1 507.8 343.4 509 343.6 509.9 342.4 511.6 340 511.6 339 512.8 339.8 514.5 339.1 515.5 336.1 515.5 335.9 517.3 334.6 519.4 333 520.7 333.3 520.9 331.8 522.2 330.3 523.6 329.3 524.6 328.9 525 327.8 526 326.2 526.9 325.8 528.2 324.8 529.9 324.1 529.9 324.1 531.5 322.8 532 321.6 532.5 320.6 534.6 320 535.4 319.2 536.1 318.5 537.6 317 538.6 317 539.7 315.5 541.7 314 541.8 313.3 542.2 311.9 543.9 310.8 544.7 309.8 545.6 309.7 546.5 308.4 548.8 307.2 550.1 307.2 550.3 305.5 551.2 305 552.9 304.2 554.4 303.7 554.7 303 555.8 301.2 556.9 301.1 558.4 299.2 559.3 298.4 560 297.7 560.6 297.3 561.8 296 563.3 294.6 565.2 294 565.9 292.8 566.6 292.6 568 291.9 568.9 290.7 570 289.1 572.1 288.2 572.7 288.4 573.9 287.3 574.8 285.5 576 285.7 576.6 285.7 577.3 284 579.4 282.8 581.2 281.7 581.7 280.1 582.2 279.4 583.1 279.5 584.4 278 587.2 277.2 587.7 277.4 589.2 275.9 589.6 274.8 591.2 274.4 592.1 273.9 594.1 272.4 595.1 271.2 596.9 272.1 597.9 271.3 599.2 269 600.3 268.1 600.5 268 601.5 268.1 603.9 267.3 604.7 266.6 605.7 266.3 606.6 263.9 608.1 264.4 610.1 263.6 611.5 262.9 612.7 261.9 614.1 261 614.7 260.1 616 260.2 618.3 259.5 619.4 259.8 620.3 259.1 623 257.3 623.6 257 625 256.4 626.6 255.3 626.5 255.3 628.4 253.5 629.9 252.3 630.6 252.6 632.3 252.6 633.1 252.1 635.7 251.7 637.6 251 638.8 250 640.5 249.2 641.9 248.8 643.2 248.3 645.2 247.6 646.6 247.3 647.3 247.2 649.3 246.7 649.4 246.1 651.1 245.3 652.2 244.5 654.7 244.6 656.3 244.3 658.8 242.8 658.4 242.4 660.4 242.6 662.9 241.5 665.6 241.6 666 241.3 668.3 240.3 668.3 239.9 669.3 239.5 670.6 239.2 673.1 238 675.2 237.3 676.7 236.7 678.4 236.4 679.1 236.4 680 235.8 682.5 236.1 683.4 235.1 685.3 234.9 687.5 234.7 689.3 235.2 691.5 234.3 693.2 233.9 693.4 234.3 695.7 233.6 698.7 233.5 699.9 233.7 701.5 232.3 703 232.5 704.4 232.3 706 232.5 708.7 232.4 710.2 232.1 712.2 231.4 714.8 231.3 715 231.7 716.7 231.3 718.3 230.6 720.2 229.9 721.9 231 724.5 230.8 727.5 230.1 729.5 229.4 730.6 229.5 732.3 230 733.5 229.2 734.9 229.9 737 230.4 738.2 229 740.3 229.5 742.6 230.4 744.8 230 746.6 230.3 748.8 230.7 752.1 230.8 752.7 230.5 753.9 231.2 756.2 231.4 758.3 231.5 759.2 230.1 762.6 231.4 764.5 231.3 764.9 232.2 765.4 232.3 768.8 232.3 771.5 232.4 774.3 232.2 774.9 232.9 776.3 233.2 778.8 233.4 779.4 234.5 781.4 235.3 783.2 234.6 783.4 234.7 786 235.7 787.5 236.2 788.7 236.2 791 236.4 793.3 236.8 794.2 236.7 796.2 237.3 796.8 238.2 798.4 238.9 800.8 239.2 802.1 239.3 803.8 239 805.7 238.9 807.3 240.4 809.1 241.4 810.4 242 812.3 243.5 812.6 242.9 814.6 242.5 816 243.5 817.7 243.7 819.2 244.1 822.1 245.4 822.6 245.3 824.1 245.8 824.4 246.4 826.5 246.9 827.8 248 830.2 248.6 830.9 247.9 832.7 248.7 833.8 249.2 836.1 250.1 836.8 250.4 837.5 251 839.3 251.9 841 252.4 841.9 252.7 843.8 253.9 845.4 254.3 846.4 255.6 847.8 256 849.5 255.6 850.9 256.6 852.4 257.3 852.2 257.9 854.3 259.5 856.4 261.3 857.8 261.7 858.8 260.9 859.9 262 860.9 263.4 862.1 263.6 863 264.1 864.1 264.7 865.9 265 867 265.7 867.7 267.5 868.9 268.3 870.4 269.7 871.5 270.6 872.1 270.4 873.7 270.5 875.7 272.1 876.5 273.1 877.6 272.8 878.8 273.5 880.6 274.5 882.5 275.6 884.1 277.1 884.7 278.4 885.5 279.5 887 279.7 886.8 279 887.5 280.9 889.1 282.2 890.2 282.7 891.3 284 892 285.4 892.9 285.9 894.4 286.4 895.4 286.8 896.7 287.5 899.1 288.8 899.3 289.8 899.4 290 900.6 291.9 901.2 293.5 902.1 294.5 903.9 295.8 905.3 296.3 906.5 297 907.4 298.4 907.9 298.7 909.2 299.2 909.8 300.2 911.3 301.7 911.4 303.3 914 305 915.1 305.4 916.1 306.3 917.1 306.4 918.3 307.6 918.6 308.4 919.8 309.3 921.3 310.8 922.4 311.5 922.5 312.7 924.3 314.5 925.3 314.9 926.6 316.1 927.5 317.1 927.7 317.9 928.4 318.6 929.7 319.3 930 320.2 931.7 321.7 932.8 323.2 933.9 324.5 934.2 325.2 934.8 325.6 935.2 326.7 936.2 329.2 937.7 329.9 938.8 331.6 939.4 332.3 940.2 332.9 941.4 334.5 941.9 335.2 943.8 335.8 944.6 336.5 944 337.7 946.1 338.8 946.4 340 947.6 341.8 949.4 342.8 950.2 343.1 951.2 344.7 952 346.5 952.2 347.2 952.5 347.1 953.7 348.7 954.5 350.6 955.8 351.7 956.7 351.8 958.2 353.6 959 354.9 959.5 355.8 960 356 961.3 356.8 962 358.8 963 359.9 964.5 361.9 965.3 363.7 965.2 362.8 966.1 364.9 967.6 366.2 968.2 367.6 968.1 368.7 969.1 370.6 970.2 372.1 971.2 371.6 973.1 372.2 973.8 374.9 973.9 375.6 975.2 376.7 975.2 377.5 975.9 379.2 976.9 380.5 978.7 381.9 980 383.5 979.5 384.8 980.4 385.2 980.8 385.2 981.2 386.9 982.2 388.5 983.1 390.1 984 391.1 985.5 392 986.6 393.3 987 394.8 987.5 395.8 987.6 396.8 988.5 399.1 990.1 399.7 990.9 400.5 991.4 401.7 991.4 404 992.6 404.7 992.4 405.5 993 407.6 994.5 409.6 995 411.1 996.3 412.1 995.7 413.3 996.9 416.1 998.3 416.9 999.1 416.8 999.3 418.6 1000.2 420.2 999 422.2 999.7 423.7 1000.9 424.3 1002.2 425.6 1002.5 427.7 1003.2 428.3 1004.4 429.4 1005.7 431 1005.7 432.2 1005.5 433.6 1006.1 434.9 1007.5 437.3 1007 438.4 1007.8 440.6 1008.4 441 1009.1 442.4 1009.5 444.1 1009.7 445.3 1010.4 448.6 1010.8 449.2 1010.3 450.3 1011 453 1011.4 454.2 1012 456.4 1012.9 457.4 1013 458.1 1012.4 460.3 1012.3 462 1013.8 463.9 1013.9 465.7 1014 466.6 1014.5 469 1014.8 471.4 1014.9 473.2 1015.8 474 1016.2 476 1015.7 477.8 1015.5 479.7 1015.7 480.8 1016.8 482.8 1017.4 485.1 1017.4 486.8 1017.2 490.1 1017.4 491.4 1017.5 492.6 1016.9 493.8 1017.5 496.2 1017.7 498.1 1017.6 499.9 1017.3 501.3 1017.7 501.9 1017.7 504.3 1017.6 506.9 1018 509 1017.9 510.6 1018.4 513 1018.2 515.2 1018.2 517.1 1018.9 518.8 1018.8 521.1 1018.3 522.5 1018.6 524.8 1018.5 527 1018.2 528.6 1018.2 529.9 1018 530.9 1017.7 534 1017.5 535.9 1017.7 537.7 1017.3 539.7 1017.7 542.2 1017.5 543.1 1017.2 544.1 1016.9 546.2 1017.4 547.9 1017.2 550.9 1015.5 553 1016.2 554.4 1015.3 556 1014.7 557.4 1014.9 560.6 1015.2 562.3 1015.1 564.2 1015.3 565.7 1015.8 566.2 1015 568.9 1015.3 570.9 1014.9 573.5 1014.5 575.8 1014.6 576.7 1014.3 578.4 1013.7 580.9 1012.3 581.9 1013.2 583.7 1012.8 585.2 1012.9 586.8 1012.9 588.8 1012.3 590.9 1012.5 592.4 1012 594 1011.1 595.4 1011.6 597.6 1011.6 600 1011 603.3 1010.6 604.4 1010.2 605.7 1011.3 607.6 1011.5 608.7 1011.7 610.9 1010.4 613.3 1010 615.4 1010.3 617.2 1010.3 618.6 1009.5 621.2 1009.8 623.3 1010 624.1 1009.5 627.1 1009.6 629.1 1009.4 630.6 1009.8 632.7 1010.1 634.6 1009.8 636.8 1010 638.9 1010.8 640 1010.3 641.7 1010.2 643.3 1009 645.3 1009.3 647.2 1009.9 649.7 1008.6 651.8 1009.3 652.5 1008.5 655 1008.9 657.5 1008.6 659.3 1008.5 661.5 1009.4 663.2 1009.3 664.8 1008.7 666.4 1007.7 668.9 1007.3 670.5 1007.2 672.2 1007.2 673.8 1007.1 676.4 1008.3 676.7 1007.3 678.6 1005.7 681 1005.2 682 1005.7 683 1005.3 685.1 1004.1 687.3 1003.9 688.9 1004.3 689.3 1003.7 691.5 1002.5 692.8 1001.8 695.3 1001 696 1000.4 698.6 999.9 699.8 998.9 700.6 998.7 702.2 998.4 702.1 997.1 704.9 997.2 705.9 997.4 706.5 996 708.2 996 710.6 994.8 711.7 994.2 713.8 992.3 714.5 992.1 714.3 991.9 715.7 991.2 716.7 990.3 717.6 989.3 719.2 987.9 719.9 987.6 721.8 986.7 722.6 985 724.3 984.2 724.7 983.1 725.7 981.9 726.5 981.5 727.9 980.1 728.2 978.6 729.2 978.2 730.2 977.6 731.2 975.9 730.8 974.1 731.6 973.1 733.8 972.8 735 970.7 736.9 969.8 736.9 968.9 736.4 967.9 737.8 967.1 739.5 965.7 740.7 964 740.7 962.9 740.6 961.8 741.5 960.6 742.9 958.2 743.8 958.2 743.6 956.9 744.7 954.7 745.7 953.7 746.1 953.1 747.3 951.4 748.1 950.3 748.9 949.4 749.8 948 750.6 946.1 750.7 945.3 751.6 944.3 751.9 942.4 753.3 941.2 754.2 940.1 754.2 938.6 754.5 937.6 754.9 935 755.9 933.8 756.5 932.5 756.5 930.8 757.4 929.9 758.1 929.3 759.2 927.6 759.6 925.6 760.1 923.5 760.3 921.6 761.8 920.2 762.4 918.5 762.7 917.8 762.6 916.5 763.1 915.7 763.3 913.1 763.8 911.7 764.1 910.5 764.3 908.6 764.8 907.4 766.2 906.8 766.8 904 766.8 900.7 766.8 900.7 766.5 898.2 766.9 897.6 768.3 897.3 769.5 894.4 768.3 892.7 769.4 890.3 770 889.4 770.2 887.8 771 887 771.2 885.6 772.3 882.7 771.7 881.7 772.7 880.2 773.3 877.9 773.5 876.7 773.6 875.1 773.8 873.8 774.4 872.1 774.7 869.1 775.2 868.9 775.4 867.9 775.3 865.6 775.4 863.6 775.8 862 776.3 860 775.9 859 776.7 856.8 777.7 854.7 777.8 853.4 777.5 850.7 777.8 849.5 778.8 847.8 778.8 846.1 778.8 845.1 779.2 842.6 780.2 840.4 780.1 838.7 779.7 838.3 780.4 836.9 780.9 834.2 781.2 831.3 781.1 830.6 781.4 828.7 780.7 827.6 781 824.7 781.1 822.7 782.2 822 782.9 820.2 782.8 818.6 782.5 816.4 782.5 813.8 783.2 812.5 783.3 810.5 783.3 808.6 784 807 784 805.8 782.6 803.5 782.1 801.8 783.8 800.3 784.6 797.8 785.4 796 785 793.6 785 791.5 784.9 791 785.1 788.7 785.9 786.4 785.3 784.9 785.5 783.1 785.7 781.1 785.7 779.3 786.3 777.2 786.3 776.1 786.4 775.4 785.9 772.3 786.4 770.5 786.7 767.7 787.3 765.3 787.1 765.2 786.7 763 787.2 760.8 787.5 758.5 787.4 756.3 786.7 755.6 787.4 753.8 787.3 751.2 787.4 748.3 788 746.3 787.9 744.1 788.3 743 788.3 740.8 787.8 740.4 787.8 738.4 788.1 735.6 788.9 732.8 788.7 731.5 787.6 730.1 788.2 728.1 788.2 726.2 788.8 724.2 789.6 722.4 789.3 720.8 788.5 718.1 788.8 716.1 789.5 714.6 789.1 712.4 788.6 709.9 788.4 708.3 788.4 706.1 788.7 703.7 788.7 700.9 788.9 699.4 789 698.1 788 697.2 788.5 694.7 788 692.4 788.6 690 789 688.6 788.7 686 789.3 684 789 683.2 788.8 680.5 789 677.9 789 676.1 788.6 674 788.8 672.2 789.2 670.5 789 668.5 788.6 666.1 789 663.1 789 663.1 787.7 661.5 787.2 658.6 788.7 656.8 788.3 653.8 787.4 652.1 787.7 650.2 788.1 648.3 788.3 647.2 787.4 645.7 786.4 643.9 787 641.2 787.5 638.8 787.7 636.8 787.3 635.4 787.2 633.8 787.5 631 787.8 629.3 787.2 627.1 787.9 624.5 787.3 622.9 786.6 619.9 786.2 618.6 787.1 617.4 787.5 614.6 787.5 614.2 786.9 612.7 786.6 610.3 787 607.4 787.6 605.3 787 603.6 786.8 602.1 786.7 600.8 786.7 598.2 785.2 595.8 785.6 593.6 785.9 592.1 786.6 591 787 588.1 786.6 585.2 786.5 583.9 785.9 583.1 785.8 580.7 786.5 580.3 786.5 578.2 786 575.1 786.7 572.8 786.3 570.9 786 569 786 566.4 785.6 565.4 784.9 563 785.7 561.1 786 558.1 785.4 556.1 784.4 555.9 785.2 553.4 784.6 551.4 784.5 549.3 785.7 548 785 545.9 785.5 544.9 784.8 542.7 784.9 539.6 784.3 538.4 783.7 536.1 783.3 533.6 784 532.5 783.5 530.5 784.4 529 783.9 527.1 783.8 525.1 782.9 523.2 783 521.5 782.7 519.7 782.7 516.5 783.6 514.4 783.5 513.8 783.6 512.5 783.7 510.6 782.3 507.4 782.5 505.2 782.9 503.9 782 501.6 781.6 499.4 781.9 498.1 782.8 495.7 782.1 495 782.3 493.5 781 490.6 781.3 488.5 782.6 486.9 782.1 484.5 781 482.4 780.8 480.7 781.2 479.1 781.6 477.2 781.3 475.8 781.7 474 781.2 471.6 780.8 470 780.2 467.9 780.1 466.2 779.7 464.5 779.7 464 780.6 461.3 779.9 460 779.9 457.8 779.6 455.1 779.8 453.3 779.2 451.7 779.2 448.8 779.6 447.6 779.6 445.7 779.2 443.1 779 440.9 778.8 438.5 778.5 437.7 778.5 436.7 777.8 435 778.6 432.3 778 430.5 777.7 429 776.7 427.3 777 424.7 778 422.6 778.2 421.2 777.5 419.7 777.6 417 776.6 414.7 776.9 413.8 777.9 412.1 777.2 410.2 776.2 408 775.9 404.9 775.2 403.8 775.4 403.1 775.2 400.7 775.9 398.9 775.7 397.7 775.5 395.2 776 392.1 775.8 390.1 774.9 389 774.9 387.9 775 386.1 775.4 384.8 775.2 382.7 774.4 379.7 774.4 377.8 774.6 376.2 775.4 374 774.5 373.2 773.1 371 772.3 368.2 772.1 366.7 772.9 364.9 773.7 364.6 773.3 362.2 772.6 359.7 773.1 358 772.5 355.9 772.4 353.9 772.3 352.9 772.6 351.5 771.3 349.2 771.5 346.8 771.8 345.4 771.5 344 771.1 342.2 769.9 339.7 769.4 338.9 769.9 337.6 770 334.8 769.2 333.3 768.9 332.4 769 330.4 768.8 328 768.5 326.7 769.4 323.8 768.7 323.1 767.5 320.9 767.2 317.7 767.5 316.5 767.1 316 767 315.1 766.7 312.9 766.1 310.4 765.7 309 765.4 306.6 765.6 305.2 765.6 303.4 765.3 300.7 765.3 299.4 764.7 298.5 764 297.7 763.6 295.5 763.3 293.3 763.9 290.9 763.1 289.7 762.8 289.2 762.3 285.7 761.8 283.4 761.6 282.7 761.2 280.7 760.3 278.9 760.3 278.6 761.2 275.9 760.6 273.8 760.5 271.7 760.2 271.5 759.7 269.6 759.4 266.5 759.5 265.9 759.2 264.4 758.9 261.4 758.4 260.3 758 258.6 757 257.5 756.8 256.1 756.7 254 756.4 251 755.8 250.4 756.2 249.6 755.4 248.2 755.1 246.1 754.8 243.9 755.3 241.8 754.7 240.5 754.9 238.6 754.2 236.7 754.2 236.5 753.4 234.8 753.2 232.7 752.4 231.4 751.7 228 750.9 226.5 751.3 225.1 750.4 223.5 748.6 222.5 749.8 219.8 750.4 218.3 750.1 218.2 749.2 216.2 748.8 215 748.3 212.5 747.8 211.1 748 210.1 747.1 207.8 746.5 206.9 745.8 205.8 746.2 203.5 745 202.5 744.1 201.7 743.9 200.2 743.3 197.3 743.6 196.3 743.1 195.3 742.8 192.7 742 190.9 742.3 188.7 741.4 187.5 741.3 185.9 740.8 185.3 739.7 183.6 739.4 181.7 739.3 181.6 738.1 180.2 737 177.8 736.5 176.6 736.5 174.3 736.6 172.7 735.4 171.8 734.4 170.3 734.3 168.9 734.4 166.4 734.1 164.8 734.1 163.7 732.7 162.7 732.3 160.9 731.5 160.5 730.9 158.2 730.5 157.5 730.1 155.4 729.3 154.5 729.7 151.8 728.5 150.9 728.1 149.9 727.2 148.6 727.2 146.2 726 144.6 725.3 144.1 724.7 143 723.7 141.4 724 139 722.7" fill="none" stroke="#000" stroke-width="2.8" stroke-linejoin="round"/>
<g fill="none" stroke="#000" stroke-width="1.7"><circle cx="708.1" cy="472.3" r="3.6"/><circle cx="621.6" cy="484.7" r="3.6"/><circle cx="769.8" cy="497.0" r="3.6"/><circle cx="658.7" cy="509.4" r="3.6"/><circle cx="683.4" cy="509.4" r="3.6"/><circle cx="745.2" cy="509.4" r="3.6"/><circle cx="757.5" cy="509.4" r="3.6"/><circle cx="708.1" cy="521.8" r="3.6"/><circle cx="671.1" cy="534.1" r="3.6"/><circle cx="695.8" cy="534.1" r="3.6"/><circle cx="732.8" cy="546.5" r="3.6"/><circle cx="806.9" cy="546.5" r="3.6"/><circle cx="621.6" cy="558.8" r="3.6"/><circle cx="634.0" cy="558.8" r="3.6"/><circle cx="695.8" cy="558.8" r="3.6"/><circle cx="720.4" cy="558.8" r="3.6"/><circle cx="794.6" cy="558.8" r="3.6"/><circle cx="584.6" cy="571.2" r="3.6"/><circle cx="609.3" cy="571.2" r="3.6"/><circle cx="658.7" cy="571.2" r="3.6"/><circle cx="671.1" cy="571.2" r="3.6"/><circle cx="708.1" cy="571.2" r="3.6"/><circle cx="720.4" cy="571.2" r="3.6"/><circle cx="732.8" cy="571.2" r="3.6"/><circle cx="745.2" cy="571.2" r="3.6"/><circle cx="794.6" cy="571.2" r="3.6"/><circle cx="646.3" cy="583.6" r="3.6"/><circle cx="658.7" cy="583.6" r="3.6"/><circle cx="671.1" cy="583.6" r="3.6"/><circle cx="683.4" cy="583.6" r="3.6"/><circle cx="695.8" cy="583.6" r="3.6"/><circle cx="708.1" cy="583.6" r="3.6"/><circle cx="720.4" cy="583.6" r="3.6"/><circle cx="732.8" cy="583.6" r="3.6"/><circle cx="782.2" cy="583.6" r="3.6"/><circle cx="621.6" cy="595.9" r="3.6"/><circle cx="658.7" cy="595.9" r="3.6"/><circle cx="671.1" cy="595.9" r="3.6"/><circle cx="695.8" cy="595.9" r="3.6"/><circle cx="708.1" cy="595.9" r="3.6"/><circle cx="720.4" cy="595.9" r="3.6"/><circle cx="745.2" cy="595.9" r="3.6"/><circle cx="757.5" cy="595.9" r="3.6"/><circle cx="893.3" cy="595.9" r="3.6"/><circle cx="720.4" cy="608.3" r="3.6"/><circle cx="732.8" cy="608.3" r="3.6"/><circle cx="782.2" cy="608.3" r="3.6"/><circle cx="794.6" cy="608.3" r="3.6"/><circle cx="646.3" cy="620.6" r="3.6"/><circle cx="695.8" cy="620.6" r="3.6"/><circle cx="720.4" cy="620.6" r="3.6"/><circle cx="732.8" cy="620.6" r="3.6"/><circle cx="769.8" cy="620.6" r="3.6"/><circle cx="806.9" cy="620.6" r="3.6"/><circle cx="596.9" cy="633.0" r="3.6"/><circle cx="609.3" cy="633.0" r="3.6"/><circle cx="708.1" cy="633.0" r="3.6"/><circle cx="720.4" cy="633.0" r="3.6"/><circle cx="732.8" cy="633.0" r="3.6"/><circle cx="806.9" cy="633.0" r="3.6"/><circle cx="708.1" cy="645.4" r="3.6"/><circle cx="720.4" cy="645.4" r="3.6"/><circle cx="757.5" cy="645.4" r="3.6"/><circle cx="769.8" cy="645.4" r="3.6"/><circle cx="794.6" cy="645.4" r="3.6"/><circle cx="634.0" cy="657.7" r="3.6"/><circle cx="646.3" cy="657.7" r="3.6"/><circle cx="708.1" cy="657.7" r="3.6"/><circle cx="720.4" cy="657.7" r="3.6"/><circle cx="769.8" cy="657.7" r="3.6"/><circle cx="782.2" cy="657.7" r="3.6"/><circle cx="806.9" cy="657.7" r="3.6"/><circle cx="609.3" cy="670.1" r="3.6"/><circle cx="646.3" cy="670.1" r="3.6"/><circle cx="720.4" cy="670.1" r="3.6"/><circle cx="757.5" cy="670.1" r="3.6"/><circle cx="819.2" cy="670.1" r="3.6"/><circle cx="708.1" cy="682.4" r="3.6"/><circle cx="720.4" cy="682.4" r="3.6"/><circle cx="745.2" cy="682.4" r="3.6"/><circle cx="769.8" cy="682.4" r="3.6"/><circle cx="584.6" cy="694.8" r="3.6"/><circle cx="646.3" cy="694.8" r="3.6"/><circle cx="720.4" cy="694.8" r="3.6"/><circle cx="732.8" cy="694.8" r="3.6"/><circle cx="757.5" cy="694.8" r="3.6"/><circle cx="621.6" cy="707.2" r="3.6"/><circle cx="720.4" cy="707.2" r="3.6"/><circle cx="695.8" cy="731.9" r="3.6"/><circle cx="757.5" cy="731.9" r="3.6"/><circle cx="584.6" cy="744.2" r="3.6"/><circle cx="621.6" cy="744.2" r="3.6"/><circle cx="732.8" cy="744.2" r="3.6"/><circle cx="584.6" cy="769.0" r="3.6"/><circle cx="720.4" cy="781.3" r="3.6"/><circle cx="732.8" cy="781.3" r="3.6"/></g>
<g stroke="#111" stroke-width="1.8" fill="none"><path d="M657.0 287.2H940.0M798.5 198.2V376.2M792.5 281.2l12 12M792.5 293.2l12 -12"/><path d="M727.0 415.5H1002.0M864.5 311.0V520.0M858.5 409.5l12 12M858.5 421.5l12 -12"/><path d="M440.2 589.5H867.2M653.7 461.5V717.5M647.7 583.5l12 12M647.7 595.5l12 -12"/><path d="M311.5 702.6H777.5M544.5 607.6V797.6M538.5 696.6l12 12M538.5 708.6l12 -12"/><path d="M664.1 739.7H959.3M811.7 690.2V789.2M805.7 733.7l12 12M805.7 745.7l12 -12"/></g>
<g font-weight="bold" font-size="22.5" fill="#111"><text x="782.5" y="294.7" text-anchor="end">My</text><text x="848.5" y="423.0" text-anchor="end">Ca</text><text x="637.7" y="597.0" text-anchor="end">Is</text><text x="528.5" y="710.1" text-anchor="end">Co</text><text x="795.7" y="747.2" text-anchor="end">Am</text></g>
<rect x="113" y="15" width="1040.5" height="989" fill="none" stroke="#111" stroke-width="2"/>
<path d="M97.5 15.0H113M97.5 262.2H113M97.5 509.4H113M97.5 756.6H113M97.5 1003.8H113M140.0 1004v15.5M387.0 1004v15.5M634.0 1004v15.5M881.0 1004v15.5M1128.0 1004v15.5" stroke="#111" stroke-width="2" fill="none"/>
<g font-weight="bold" font-size="24.5" fill="#111"><text transform="translate(76.8,15.0) rotate(-90)" text-anchor="middle">16</text><text transform="translate(76.8,262.2) rotate(-90)" text-anchor="middle">14</text><text transform="translate(76.8,509.4) rotate(-90)" text-anchor="middle">12</text><text transform="translate(76.8,756.6) rotate(-90)" text-anchor="middle">10</text><text transform="translate(76.8,1003.8) rotate(-90)" text-anchor="middle">8</text><text x="140.0" y="1059.0" text-anchor="middle">–20</text><text x="387.0" y="1059.0" text-anchor="middle">–18</text><text x="634.0" y="1059.0" text-anchor="middle">–16</text><text x="881.0" y="1059.0" text-anchor="middle">–14</text><text x="1128.0" y="1059.0" text-anchor="middle">–12</text></g>
<text transform="translate(28,511.0) rotate(-90)" text-anchor="middle" font-size="24.5" fill="#111">δ<tspan font-size="15" dy="-9">15</tspan><tspan dy="9">N (‰)</tspan></text>
<g fill="none" stroke="#000" stroke-width="1.7"><circle cx="707.2" cy="1557.1" r="3.6"/><circle cx="620.7" cy="1569.5" r="3.6"/><circle cx="769.1" cy="1581.9" r="3.6"/><circle cx="657.8" cy="1594.3" r="3.6"/><circle cx="682.5" cy="1594.3" r="3.6"/><circle cx="744.3" cy="1594.3" r="3.6"/><circle cx="756.7" cy="1594.3" r="3.6"/><circle cx="707.2" cy="1606.7" r="3.6"/><circle cx="670.2" cy="1619.0" r="3.6"/><circle cx="694.9" cy="1619.0" r="3.6"/><circle cx="732.0" cy="1631.4" r="3.6"/><circle cx="806.2" cy="1631.4" r="3.6"/><circle cx="620.7" cy="1643.8" r="3.6"/><circle cx="633.1" cy="1643.8" r="3.6"/><circle cx="694.9" cy="1643.8" r="3.6"/><circle cx="719.6" cy="1643.8" r="3.6"/><circle cx="793.8" cy="1643.8" r="3.6"/><circle cx="583.6" cy="1656.2" r="3.6"/><circle cx="608.3" cy="1656.2" r="3.6"/><circle cx="657.8" cy="1656.2" r="3.6"/><circle cx="670.2" cy="1656.2" r="3.6"/><circle cx="707.2" cy="1656.2" r="3.6"/><circle cx="719.6" cy="1656.2" r="3.6"/><circle cx="732.0" cy="1656.2" r="3.6"/><circle cx="744.3" cy="1656.2" r="3.6"/><circle cx="793.8" cy="1656.2" r="3.6"/><circle cx="645.4" cy="1668.6" r="3.6"/><circle cx="657.8" cy="1668.6" r="3.6"/><circle cx="670.2" cy="1668.6" r="3.6"/><circle cx="682.5" cy="1668.6" r="3.6"/><circle cx="694.9" cy="1668.6" r="3.6"/><circle cx="707.2" cy="1668.6" r="3.6"/><circle cx="719.6" cy="1668.6" r="3.6"/><circle cx="732.0" cy="1668.6" r="3.6"/><circle cx="781.4" cy="1668.6" r="3.6"/><circle cx="620.7" cy="1681.0" r="3.6"/><circle cx="657.8" cy="1681.0" r="3.6"/><circle cx="670.2" cy="1681.0" r="3.6"/><circle cx="694.9" cy="1681.0" r="3.6"/><circle cx="707.2" cy="1681.0" r="3.6"/><circle cx="719.6" cy="1681.0" r="3.6"/><circle cx="744.3" cy="1681.0" r="3.6"/><circle cx="756.7" cy="1681.0" r="3.6"/><circle cx="892.7" cy="1681.0" r="3.6"/><circle cx="719.6" cy="1693.4" r="3.6"/><circle cx="732.0" cy="1693.4" r="3.6"/><circle cx="781.4" cy="1693.4" r="3.6"/><circle cx="793.8" cy="1693.4" r="3.6"/><circle cx="645.4" cy="1705.8" r="3.6"/><circle cx="694.9" cy="1705.8" r="3.6"/><circle cx="719.6" cy="1705.8" r="3.6"/><circle cx="732.0" cy="1705.8" r="3.6"/><circle cx="769.1" cy="1705.8" r="3.6"/><circle cx="806.2" cy="1705.8" r="3.6"/><circle cx="596.0" cy="1718.2" r="3.6"/><circle cx="608.3" cy="1718.2" r="3.6"/><circle cx="707.2" cy="1718.2" r="3.6"/><circle cx="719.6" cy="1718.2" r="3.6"/><circle cx="732.0" cy="1718.2" r="3.6"/><circle cx="806.2" cy="1718.2" r="3.6"/><circle cx="707.2" cy="1730.6" r="3.6"/><circle cx="719.6" cy="1730.6" r="3.6"/><circle cx="756.7" cy="1730.6" r="3.6"/><circle cx="769.1" cy="1730.6" r="3.6"/><circle cx="793.8" cy="1730.6" r="3.6"/><circle cx="633.1" cy="1743.0" r="3.6"/><circle cx="645.4" cy="1743.0" r="3.6"/><circle cx="707.2" cy="1743.0" r="3.6"/><circle cx="719.6" cy="1743.0" r="3.6"/><circle cx="769.1" cy="1743.0" r="3.6"/><circle cx="781.4" cy="1743.0" r="3.6"/><circle cx="806.2" cy="1743.0" r="3.6"/><circle cx="608.3" cy="1755.4" r="3.6"/><circle cx="645.4" cy="1755.4" r="3.6"/><circle cx="719.6" cy="1755.4" r="3.6"/><circle cx="756.7" cy="1755.4" r="3.6"/><circle cx="818.5" cy="1755.4" r="3.6"/><circle cx="707.2" cy="1767.8" r="3.6"/><circle cx="719.6" cy="1767.8" r="3.6"/><circle cx="744.3" cy="1767.8" r="3.6"/><circle cx="769.1" cy="1767.8" r="3.6"/><circle cx="583.6" cy="1780.2" r="3.6"/><circle cx="645.4" cy="1780.2" r="3.6"/><circle cx="719.6" cy="1780.2" r="3.6"/><circle cx="732.0" cy="1780.2" r="3.6"/><circle cx="756.7" cy="1780.2" r="3.6"/><circle cx="620.7" cy="1792.6" r="3.6"/><circle cx="719.6" cy="1792.6" r="3.6"/><circle cx="694.9" cy="1817.4" r="3.6"/><circle cx="756.7" cy="1817.4" r="3.6"/><circle cx="583.6" cy="1829.7" r="3.6"/><circle cx="620.7" cy="1829.7" r="3.6"/><circle cx="732.0" cy="1829.7" r="3.6"/><circle cx="583.6" cy="1854.5" r="3.6"/><circle cx="719.6" cy="1866.9" r="3.6"/><circle cx="732.0" cy="1866.9" r="3.6"/></g>
<g stroke="#111" stroke-width="1.8" fill="none"><path d="M612.4 1365.5H895.2M753.8 1267.4V1463.6M747.8 1359.5l12 12M747.8 1371.5l12 -12"/><path d="M629.8 1527.3H982.8M806.3 1438.9V1615.7M800.3 1521.3l12 12M800.3 1533.3l12 -12"/><path d="M290.1 1712.0H829.5M559.8 1620.8V1803.2M553.8 1706.0l12 12M553.8 1718.0l12 -12"/><path d="M141.5 1802.2H733.5M437.5 1731.0V1873.4M431.5 1796.2l12 12M431.5 1808.2l12 -12"/><path d="M637.7 1827.2H950.5M794.1 1773.8V1880.6M788.1 1821.2l12 12M788.1 1833.2l12 -12"/></g>
<g font-weight="bold" font-size="22.5" fill="#111"><text x="737.8" y="1373.0" text-anchor="end">My</text><text x="790.3" y="1534.8" text-anchor="end">Ca</text><text x="543.8" y="1719.5" text-anchor="end">Is</text><text x="421.5" y="1809.7" text-anchor="end">Co</text><text x="778.1" y="1834.7" text-anchor="end">Am</text></g>
<rect x="112" y="1098.5" width="1041.5" height="991.5" fill="none" stroke="#111" stroke-width="2"/>
<path d="M96.5 1098.5H112M96.5 1346.4H112M96.5 1594.3H112M96.5 1842.1H112M96.5 2090.0H112M138.5 2090v15.5M385.8 2090v15.5M633.1 2090v15.5M880.3 2090v15.5M1127.6 2090v15.5" stroke="#111" stroke-width="2" fill="none"/>
<g font-weight="bold" font-size="24.5" fill="#111"><text transform="translate(76.8,1098.5) rotate(-90)" text-anchor="middle">16</text><text transform="translate(76.8,1346.4) rotate(-90)" text-anchor="middle">14</text><text transform="translate(76.8,1594.3) rotate(-90)" text-anchor="middle">12</text><text transform="translate(76.8,1842.1) rotate(-90)" text-anchor="middle">10</text><text transform="translate(76.8,2090.0) rotate(-90)" text-anchor="middle">8</text><text x="138.5" y="2145.2" text-anchor="middle">–20</text><text x="385.8" y="2145.2" text-anchor="middle">–18</text><text x="633.1" y="2145.2" text-anchor="middle">–16</text><text x="880.3" y="2145.2" text-anchor="middle">–14</text><text x="1127.6" y="2145.2" text-anchor="middle">–12</text></g>
<text transform="translate(28,1595.8) rotate(-90)" text-anchor="middle" font-size="24.5" fill="#111">δ<tspan font-size="15" dy="-9">15</tspan><tspan dy="9">N (‰)</tspan></text>
<text x="632.5" y="2183.8" text-anchor="middle" font-size="24" fill="#111">δ<tspan font-size="15" dy="-9">13</tspan><tspan dy="9">C (‰)</tspan></text>
<text x="164.5" y="78.4" font-weight="bold" font-size="25.5" textLength="134.5" lengthAdjust="spacingAndGlyphs" fill="#000">UNSHIFTED</text>
<text x="161.7" y="1162.4" font-weight="bold" font-size="25" textLength="98" lengthAdjust="spacingAndGlyphs" fill="#000">SHIFTED</text>
<rect x="159.3" y="110.3" width="224.5" height="283.5" fill="#fff" stroke="#000" stroke-width="2"/><rect x="204.4" y="124.5" width="65.6" height="256.3" fill="url(#lg)"/><path d="M198.4 380.8H204.4M198.4 329.5H204.4M198.4 278.3H204.4M198.4 227.0H204.4M198.4 175.8H204.4M198.4 124.5H204.4" stroke="#444" stroke-width="1"/><g font-weight="bold" font-size="11" fill="#222"><text x="191.9" y="384.8" text-anchor="end">0.0</text><text x="191.9" y="333.5" text-anchor="end">0.2</text><text x="191.9" y="282.3" text-anchor="end">0.4</text><text x="191.9" y="231.0" text-anchor="end">0.6</text><text x="191.9" y="179.8" text-anchor="end">0.8</text><text x="191.9" y="128.5" text-anchor="end">1.0</text></g><text x="285" y="248" font-weight="bold" font-size="16" textLength="89.5" lengthAdjust="spacingAndGlyphs" fill="#000">Probability</text><text x="285" y="271.7" font-weight="bold" font-size="16" textLength="71.4" lengthAdjust="spacingAndGlyphs" fill="#000">contours</text>
<rect x="160.6" y="1194.4" width="224.00000000000003" height="283.5999999999999" fill="#fff" stroke="#000" stroke-width="2"/><rect x="205.5" y="1209" width="65.69999999999999" height="256.29999999999995" fill="url(#lg)"/><path d="M199.5 1465.3H205.5M199.5 1414.0H205.5M199.5 1362.8H205.5M199.5 1311.5H205.5M199.5 1260.3H205.5M199.5 1209.0H205.5" stroke="#444" stroke-width="1"/><g font-weight="bold" font-size="11" fill="#222"><text x="193.0" y="1469.3" text-anchor="end">0.0</text><text x="193.0" y="1418.0" text-anchor="end">0.2</text><text x="193.0" y="1366.8" text-anchor="end">0.4</text><text x="193.0" y="1315.5" text-anchor="end">0.6</text><text x="193.0" y="1264.3" text-anchor="end">0.8</text><text x="193.0" y="1213.0" text-anchor="end">1.0</text></g><text x="286" y="1334" font-weight="bold" font-size="16" textLength="89.5" lengthAdjust="spacingAndGlyphs" fill="#000">Probability</text><text x="286" y="1357.5" font-weight="bold" font-size="16" textLength="71.4" lengthAdjust="spacingAndGlyphs" fill="#000">contours</text>
<path d="M599.7 1074.6l3.5-1.2 0.6 1.2zM607.5 1074.6q3.5-2.6 7.5 0z" fill="#555"/>
</svg></body></html>
